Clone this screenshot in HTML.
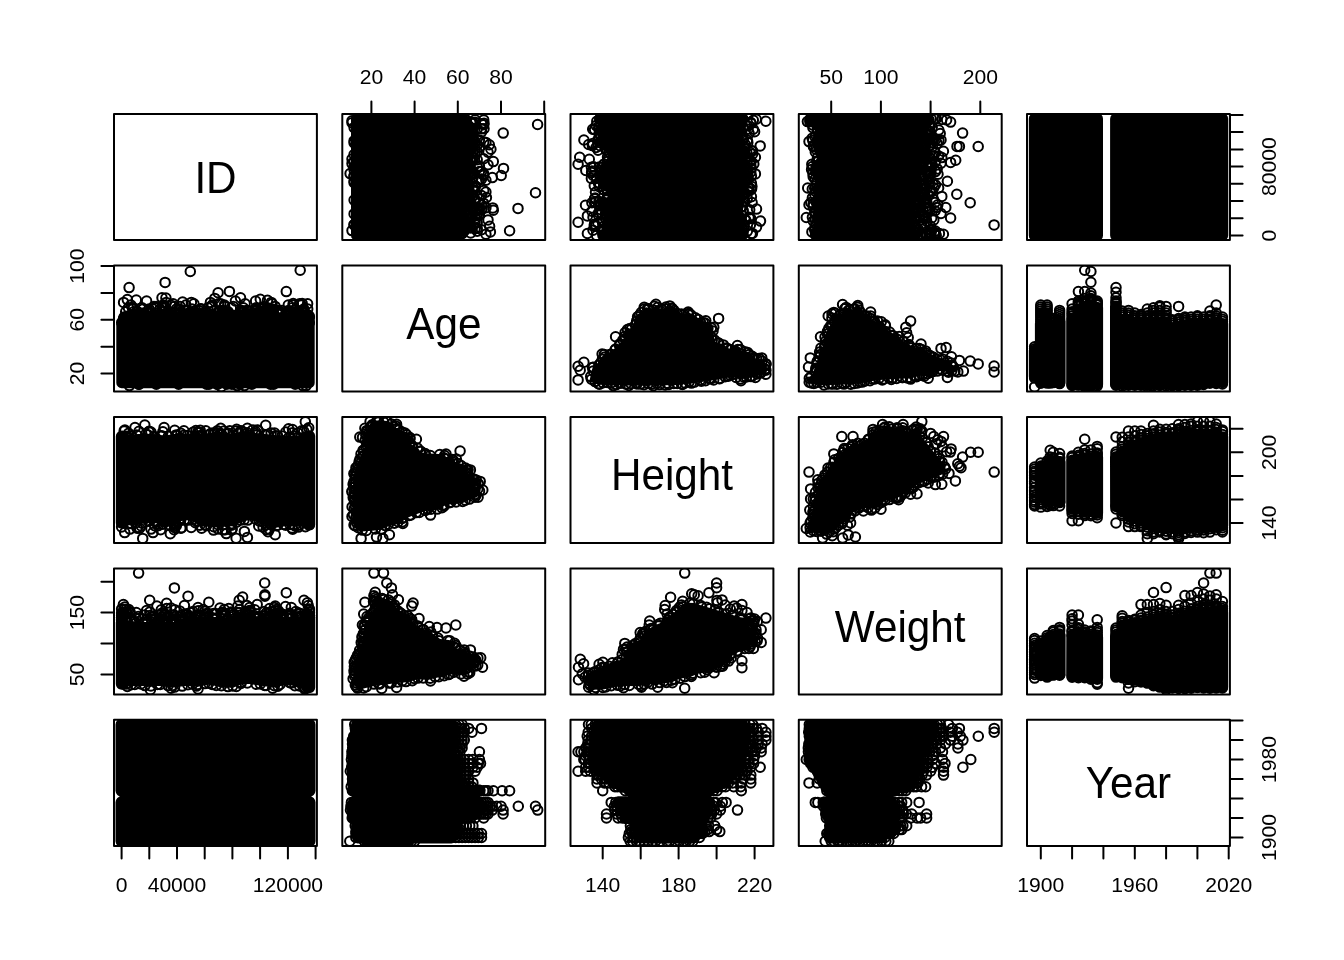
<!DOCTYPE html>
<html lang="en"><head><meta charset="utf-8"><title>pairs plot</title>
<style>html,body{margin:0;padding:0;background:#fff}body{width:1344px;height:960px;overflow:hidden}
svg{display:block}text{font-family:"Liberation Sans",Arial,Helvetica,sans-serif;fill:#000}.r{fill:none;stroke:#000;stroke-width:2}</style></head>
<body>
<svg width="1344" height="960" viewBox="0 0 1344 960">
<rect width="1344" height="960" fill="#fff"/>
<clipPath id="c010"><rect x="342.3" y="114" width="202.9" height="126.1"/></clipPath>
<g clip-path="url(#c010)">
<path d="M456.6 118.7 456.2 116.7 455 115 453.3 113.9 451.3 113.5 356.3 113.5 354.3 113.9 352.6 115 351.4 116.7 351 118.7 351 235.5 351.4 237.5 352.6 239.2 354.3 240.3 356.3 240.7 451.3 240.7 453.3 240.3 455 239.2 456.2 237.5 456.6 235.5Z"/>
<g class="r"><circle cx="350.1" cy="173.6" r="4.75"/><circle cx="537.6" cy="124.5" r="4.75"/><circle cx="503.2" cy="133.1" r="4.75"/><circle cx="493.3" cy="161.6" r="4.75"/><circle cx="503.5" cy="168.4" r="4.75"/><circle cx="501.2" cy="175.5" r="4.75"/><circle cx="492.3" cy="177.6" r="4.75"/><circle cx="535.5" cy="192.8" r="4.75"/><circle cx="518" cy="208.4" r="4.75"/><circle cx="492.8" cy="207.9" r="4.75"/><circle cx="493.3" cy="210.3" r="4.75"/><circle cx="509.6" cy="230.8" r="4.75"/><circle cx="490.4" cy="231.9" r="4.75"/><circle cx="484" cy="123.2" r="4.75"/><circle cx="484" cy="128.8" r="4.75"/><circle cx="489.3" cy="144.8" r="4.75"/><circle cx="490.9" cy="149.3" r="4.75"/><circle cx="486.4" cy="197.5" r="4.75"/><circle cx="488" cy="219.9" r="4.75"/><circle cx="489.6" cy="226.3" r="4.75"/><circle cx="354.1" cy="182.7" r="4.75"/><circle cx="354.1" cy="170.1" r="4.75"/><circle cx="354.1" cy="127.6" r="4.75"/><circle cx="354.1" cy="181.1" r="4.75"/><circle cx="354.1" cy="176.2" r="4.75"/><circle cx="354.1" cy="166.9" r="4.75"/><circle cx="354.1" cy="213.9" r="4.75"/><circle cx="354.1" cy="175.7" r="4.75"/><circle cx="354.1" cy="161.9" r="4.75"/><circle cx="354.1" cy="142.9" r="4.75"/><circle cx="354.1" cy="224.5" r="4.75"/><circle cx="354.1" cy="200.1" r="4.75"/><circle cx="354.1" cy="224.9" r="4.75"/><circle cx="354.1" cy="140.9" r="4.75"/><circle cx="354.1" cy="154.5" r="4.75"/><circle cx="352" cy="230.6" r="4.75"/><circle cx="352" cy="120.8" r="4.75"/><circle cx="352" cy="122.8" r="4.75"/><circle cx="352" cy="159.1" r="4.75"/><circle cx="352" cy="163.6" r="4.75"/><circle cx="453.5" cy="217.1" r="4.75"/><circle cx="453.5" cy="233.7" r="4.75"/><circle cx="453.5" cy="173.8" r="4.75"/><circle cx="453.5" cy="228.5" r="4.75"/><circle cx="453.5" cy="213.3" r="4.75"/><circle cx="453.5" cy="207.2" r="4.75"/><circle cx="453.5" cy="232" r="4.75"/><circle cx="453.5" cy="181.3" r="4.75"/><circle cx="453.5" cy="184" r="4.75"/><circle cx="453.5" cy="137.1" r="4.75"/><circle cx="453.5" cy="174.9" r="4.75"/><circle cx="453.5" cy="160.7" r="4.75"/><circle cx="453.5" cy="177.1" r="4.75"/><circle cx="453.5" cy="158.1" r="4.75"/><circle cx="453.5" cy="182.1" r="4.75"/><circle cx="453.5" cy="203" r="4.75"/><circle cx="453.5" cy="119" r="4.75"/><circle cx="453.5" cy="119.2" r="4.75"/><circle cx="453.5" cy="137.4" r="4.75"/><circle cx="453.5" cy="152.8" r="4.75"/><circle cx="453.5" cy="198.7" r="4.75"/><circle cx="453.5" cy="208.7" r="4.75"/><circle cx="453.5" cy="201.7" r="4.75"/><circle cx="453.5" cy="227.3" r="4.75"/><circle cx="453.5" cy="146" r="4.75"/><circle cx="453.5" cy="188.7" r="4.75"/><circle cx="453.5" cy="136.6" r="4.75"/><circle cx="453.5" cy="190.4" r="4.75"/><circle cx="453.5" cy="123.6" r="4.75"/><circle cx="453.5" cy="136.5" r="4.75"/><circle cx="453.5" cy="235.4" r="4.75"/><circle cx="453.5" cy="211" r="4.75"/><circle cx="453.5" cy="129.2" r="4.75"/><circle cx="453.5" cy="180.6" r="4.75"/><circle cx="453.5" cy="121" r="4.75"/><circle cx="453.5" cy="189.1" r="4.75"/><circle cx="453.5" cy="227" r="4.75"/><circle cx="453.5" cy="162" r="4.75"/><circle cx="453.5" cy="144.6" r="4.75"/><circle cx="453.5" cy="204" r="4.75"/><circle cx="453.5" cy="225.3" r="4.75"/><circle cx="453.5" cy="196.6" r="4.75"/><circle cx="453.5" cy="122.9" r="4.75"/><circle cx="453.5" cy="147" r="4.75"/><circle cx="453.5" cy="221.7" r="4.75"/><circle cx="453.5" cy="206.7" r="4.75"/><circle cx="453.5" cy="223.7" r="4.75"/><circle cx="453.5" cy="228.5" r="4.75"/><circle cx="453.5" cy="142.4" r="4.75"/><circle cx="453.5" cy="214.7" r="4.75"/><circle cx="453.5" cy="170.2" r="4.75"/><circle cx="453.5" cy="183.2" r="4.75"/><circle cx="453.5" cy="213.2" r="4.75"/><circle cx="453.5" cy="150" r="4.75"/><circle cx="453.5" cy="220.2" r="4.75"/><circle cx="453.5" cy="160.3" r="4.75"/><circle cx="453.5" cy="221.9" r="4.75"/><circle cx="453.5" cy="186.4" r="4.75"/><circle cx="453.5" cy="210.6" r="4.75"/><circle cx="453.5" cy="204" r="4.75"/><circle cx="453.5" cy="122.1" r="4.75"/><circle cx="453.5" cy="141.7" r="4.75"/><circle cx="453.5" cy="200" r="4.75"/><circle cx="453.5" cy="132.2" r="4.75"/><circle cx="453.5" cy="210.9" r="4.75"/><circle cx="453.5" cy="189.4" r="4.75"/><circle cx="453.5" cy="135.7" r="4.75"/><circle cx="453.5" cy="160.5" r="4.75"/><circle cx="453.5" cy="223.8" r="4.75"/><circle cx="453.5" cy="120" r="4.75"/><circle cx="453.5" cy="210.6" r="4.75"/><circle cx="453.5" cy="205.3" r="4.75"/><circle cx="453.5" cy="145.3" r="4.75"/><circle cx="453.5" cy="197.1" r="4.75"/><circle cx="453.5" cy="200.9" r="4.75"/><circle cx="453.5" cy="226.9" r="4.75"/><circle cx="453.5" cy="225" r="4.75"/><circle cx="453.5" cy="167.4" r="4.75"/><circle cx="453.5" cy="207.1" r="4.75"/><circle cx="453.5" cy="165.3" r="4.75"/><circle cx="453.5" cy="192.1" r="4.75"/><circle cx="453.5" cy="182.6" r="4.75"/><circle cx="453.5" cy="123.5" r="4.75"/><circle cx="453.5" cy="179" r="4.75"/><circle cx="453.5" cy="168.4" r="4.75"/><circle cx="453.5" cy="134.3" r="4.75"/><circle cx="453.5" cy="214.1" r="4.75"/><circle cx="453.5" cy="217.5" r="4.75"/><circle cx="453.5" cy="129.4" r="4.75"/><circle cx="453.5" cy="140" r="4.75"/><circle cx="453.5" cy="206.4" r="4.75"/><circle cx="453.5" cy="213.3" r="4.75"/><circle cx="453.5" cy="149.1" r="4.75"/><circle cx="453.5" cy="125.7" r="4.75"/><circle cx="453.5" cy="212.5" r="4.75"/><circle cx="453.5" cy="124.5" r="4.75"/><circle cx="453.5" cy="132.5" r="4.75"/><circle cx="453.5" cy="165" r="4.75"/><circle cx="453.5" cy="186.3" r="4.75"/><circle cx="453.5" cy="223.4" r="4.75"/><circle cx="453.5" cy="231" r="4.75"/><circle cx="453.5" cy="123.1" r="4.75"/><circle cx="453.5" cy="207.6" r="4.75"/><circle cx="453.5" cy="153.2" r="4.75"/><circle cx="453.5" cy="205.5" r="4.75"/><circle cx="453.5" cy="139.3" r="4.75"/><circle cx="453.5" cy="165.8" r="4.75"/><circle cx="453.5" cy="201.2" r="4.75"/><circle cx="453.5" cy="215" r="4.75"/><circle cx="453.5" cy="151.4" r="4.75"/><circle cx="453.5" cy="227.5" r="4.75"/><circle cx="453.5" cy="208.8" r="4.75"/><circle cx="453.5" cy="170.2" r="4.75"/><circle cx="453.5" cy="136" r="4.75"/><circle cx="453.5" cy="163.8" r="4.75"/><circle cx="453.5" cy="202.8" r="4.75"/><circle cx="453.5" cy="128.4" r="4.75"/><circle cx="453.5" cy="211.7" r="4.75"/><circle cx="453.5" cy="233.5" r="4.75"/><circle cx="453.5" cy="204.1" r="4.75"/><circle cx="453.5" cy="183.4" r="4.75"/><circle cx="453.5" cy="228.4" r="4.75"/><circle cx="453.5" cy="214.9" r="4.75"/><circle cx="453.5" cy="192.4" r="4.75"/><circle cx="453.5" cy="168.7" r="4.75"/><circle cx="453.5" cy="220.1" r="4.75"/><circle cx="453.5" cy="193.2" r="4.75"/><circle cx="453.5" cy="131.5" r="4.75"/><circle cx="453.5" cy="121" r="4.75"/><circle cx="453.5" cy="158.8" r="4.75"/><circle cx="453.5" cy="154.8" r="4.75"/><circle cx="453.5" cy="167.2" r="4.75"/><circle cx="453.5" cy="219.1" r="4.75"/><circle cx="453.5" cy="231.4" r="4.75"/><circle cx="453.5" cy="233.4" r="4.75"/><circle cx="453.5" cy="129.2" r="4.75"/><circle cx="453.5" cy="153.6" r="4.75"/><circle cx="453.5" cy="123.1" r="4.75"/><circle cx="453.5" cy="233" r="4.75"/><circle cx="453.5" cy="161.2" r="4.75"/><circle cx="453.5" cy="179.2" r="4.75"/><circle cx="453.5" cy="150.2" r="4.75"/><circle cx="453.5" cy="198.2" r="4.75"/><circle cx="453.5" cy="118.8" r="4.75"/><circle cx="453.5" cy="226.7" r="4.75"/><circle cx="453.5" cy="171.7" r="4.75"/><circle cx="453.5" cy="149.4" r="4.75"/><circle cx="453.5" cy="130.4" r="4.75"/><circle cx="453.5" cy="149.4" r="4.75"/><circle cx="453.5" cy="153.3" r="4.75"/><circle cx="455.6" cy="142.9" r="4.75"/><circle cx="455.6" cy="128.6" r="4.75"/><circle cx="455.6" cy="194.4" r="4.75"/><circle cx="455.6" cy="155.5" r="4.75"/><circle cx="455.6" cy="130.3" r="4.75"/><circle cx="455.6" cy="133.8" r="4.75"/><circle cx="455.6" cy="186.8" r="4.75"/><circle cx="455.6" cy="143.2" r="4.75"/><circle cx="455.6" cy="134.7" r="4.75"/><circle cx="455.6" cy="168.6" r="4.75"/><circle cx="455.6" cy="162.5" r="4.75"/><circle cx="455.6" cy="190.8" r="4.75"/><circle cx="455.6" cy="167.4" r="4.75"/><circle cx="455.6" cy="164.4" r="4.75"/><circle cx="455.6" cy="226.1" r="4.75"/><circle cx="455.6" cy="160.8" r="4.75"/><circle cx="455.6" cy="119.5" r="4.75"/><circle cx="455.6" cy="132.8" r="4.75"/><circle cx="455.6" cy="150.5" r="4.75"/><circle cx="455.6" cy="190.1" r="4.75"/><circle cx="455.6" cy="149.7" r="4.75"/><circle cx="455.6" cy="167.6" r="4.75"/><circle cx="455.6" cy="184" r="4.75"/><circle cx="455.6" cy="137.6" r="4.75"/><circle cx="455.6" cy="225.7" r="4.75"/><circle cx="455.6" cy="147.9" r="4.75"/><circle cx="455.6" cy="232" r="4.75"/><circle cx="455.6" cy="165.3" r="4.75"/><circle cx="455.6" cy="179.3" r="4.75"/><circle cx="455.6" cy="208.6" r="4.75"/><circle cx="455.6" cy="153.9" r="4.75"/><circle cx="455.6" cy="177.4" r="4.75"/><circle cx="455.6" cy="163.7" r="4.75"/><circle cx="455.6" cy="128" r="4.75"/><circle cx="455.6" cy="205.6" r="4.75"/><circle cx="455.6" cy="234.2" r="4.75"/><circle cx="455.6" cy="200.3" r="4.75"/><circle cx="455.6" cy="156.3" r="4.75"/><circle cx="455.6" cy="211.8" r="4.75"/><circle cx="455.6" cy="215.7" r="4.75"/><circle cx="455.6" cy="129.7" r="4.75"/><circle cx="455.6" cy="158.4" r="4.75"/><circle cx="455.6" cy="183.9" r="4.75"/><circle cx="455.6" cy="131.4" r="4.75"/><circle cx="455.6" cy="197.3" r="4.75"/><circle cx="455.6" cy="157.7" r="4.75"/><circle cx="455.6" cy="212.3" r="4.75"/><circle cx="455.6" cy="185.2" r="4.75"/><circle cx="455.6" cy="141.4" r="4.75"/><circle cx="455.6" cy="128.7" r="4.75"/><circle cx="455.6" cy="132.7" r="4.75"/><circle cx="455.6" cy="190.6" r="4.75"/><circle cx="455.6" cy="167.4" r="4.75"/><circle cx="455.6" cy="198.5" r="4.75"/><circle cx="455.6" cy="219.6" r="4.75"/><circle cx="455.6" cy="177.5" r="4.75"/><circle cx="455.6" cy="137.7" r="4.75"/><circle cx="455.6" cy="136.4" r="4.75"/><circle cx="455.6" cy="152.4" r="4.75"/><circle cx="455.6" cy="124.6" r="4.75"/><circle cx="455.6" cy="203.2" r="4.75"/><circle cx="455.6" cy="215.7" r="4.75"/><circle cx="455.6" cy="182.9" r="4.75"/><circle cx="455.6" cy="203.4" r="4.75"/><circle cx="455.6" cy="210.5" r="4.75"/><circle cx="455.6" cy="187.1" r="4.75"/><circle cx="455.6" cy="162.4" r="4.75"/><circle cx="455.6" cy="177.8" r="4.75"/><circle cx="455.6" cy="198.7" r="4.75"/><circle cx="455.6" cy="137.5" r="4.75"/><circle cx="455.6" cy="120.8" r="4.75"/><circle cx="455.6" cy="182.6" r="4.75"/><circle cx="455.6" cy="226.8" r="4.75"/><circle cx="455.6" cy="231.8" r="4.75"/><circle cx="455.6" cy="133.6" r="4.75"/><circle cx="455.6" cy="230.6" r="4.75"/><circle cx="455.6" cy="152.7" r="4.75"/><circle cx="455.6" cy="168.9" r="4.75"/><circle cx="455.6" cy="199.4" r="4.75"/><circle cx="455.6" cy="143.1" r="4.75"/><circle cx="455.6" cy="233.3" r="4.75"/><circle cx="455.6" cy="219.6" r="4.75"/><circle cx="455.6" cy="182.4" r="4.75"/><circle cx="455.6" cy="232.6" r="4.75"/><circle cx="455.6" cy="138.6" r="4.75"/><circle cx="455.6" cy="207.8" r="4.75"/><circle cx="455.6" cy="219" r="4.75"/><circle cx="455.6" cy="230" r="4.75"/><circle cx="455.6" cy="162" r="4.75"/><circle cx="455.6" cy="183.3" r="4.75"/><circle cx="455.6" cy="161.9" r="4.75"/><circle cx="455.6" cy="159" r="4.75"/><circle cx="455.6" cy="141.2" r="4.75"/><circle cx="455.6" cy="123.6" r="4.75"/><circle cx="455.6" cy="155.6" r="4.75"/><circle cx="455.6" cy="212.2" r="4.75"/><circle cx="455.6" cy="180" r="4.75"/><circle cx="455.6" cy="214.6" r="4.75"/><circle cx="455.6" cy="234.2" r="4.75"/><circle cx="455.6" cy="180.3" r="4.75"/><circle cx="455.6" cy="152.1" r="4.75"/><circle cx="455.6" cy="214.6" r="4.75"/><circle cx="455.6" cy="203.7" r="4.75"/><circle cx="455.6" cy="195.1" r="4.75"/><circle cx="455.6" cy="154.1" r="4.75"/><circle cx="455.6" cy="174.7" r="4.75"/><circle cx="455.6" cy="163.7" r="4.75"/><circle cx="455.6" cy="147.2" r="4.75"/><circle cx="455.6" cy="189.5" r="4.75"/><circle cx="455.6" cy="143" r="4.75"/><circle cx="455.6" cy="129.7" r="4.75"/><circle cx="455.6" cy="225.3" r="4.75"/><circle cx="455.6" cy="126.6" r="4.75"/><circle cx="455.6" cy="151.1" r="4.75"/><circle cx="455.6" cy="220.3" r="4.75"/><circle cx="455.6" cy="182.5" r="4.75"/><circle cx="455.6" cy="162.4" r="4.75"/><circle cx="455.6" cy="129.2" r="4.75"/><circle cx="455.6" cy="191.5" r="4.75"/><circle cx="455.6" cy="169.1" r="4.75"/><circle cx="455.6" cy="132.8" r="4.75"/><circle cx="455.6" cy="142.4" r="4.75"/><circle cx="455.6" cy="125.2" r="4.75"/><circle cx="455.6" cy="181.3" r="4.75"/><circle cx="455.6" cy="159.4" r="4.75"/><circle cx="455.6" cy="211.6" r="4.75"/><circle cx="455.6" cy="151.2" r="4.75"/><circle cx="455.6" cy="139.9" r="4.75"/><circle cx="455.6" cy="160.6" r="4.75"/><circle cx="455.6" cy="151.7" r="4.75"/><circle cx="457.8" cy="210.6" r="4.75"/><circle cx="457.8" cy="130.4" r="4.75"/><circle cx="457.8" cy="121" r="4.75"/><circle cx="457.8" cy="121.4" r="4.75"/><circle cx="457.8" cy="172.8" r="4.75"/><circle cx="457.8" cy="143.1" r="4.75"/><circle cx="457.8" cy="198.1" r="4.75"/><circle cx="457.8" cy="129.2" r="4.75"/><circle cx="457.8" cy="135.6" r="4.75"/><circle cx="457.8" cy="194.8" r="4.75"/><circle cx="457.8" cy="225.8" r="4.75"/><circle cx="457.8" cy="184" r="4.75"/><circle cx="457.8" cy="171.2" r="4.75"/><circle cx="457.8" cy="145.8" r="4.75"/><circle cx="457.8" cy="178.6" r="4.75"/><circle cx="457.8" cy="232.2" r="4.75"/><circle cx="457.8" cy="141" r="4.75"/><circle cx="457.8" cy="228" r="4.75"/><circle cx="457.8" cy="142.1" r="4.75"/><circle cx="457.8" cy="215.3" r="4.75"/><circle cx="457.8" cy="196.4" r="4.75"/><circle cx="457.8" cy="143.5" r="4.75"/><circle cx="457.8" cy="219.1" r="4.75"/><circle cx="457.8" cy="218.1" r="4.75"/><circle cx="457.8" cy="175.2" r="4.75"/><circle cx="457.8" cy="151" r="4.75"/><circle cx="457.8" cy="137.4" r="4.75"/><circle cx="457.8" cy="155" r="4.75"/><circle cx="457.8" cy="125.1" r="4.75"/><circle cx="457.8" cy="178" r="4.75"/><circle cx="457.8" cy="124.7" r="4.75"/><circle cx="457.8" cy="225.4" r="4.75"/><circle cx="457.8" cy="209.6" r="4.75"/><circle cx="457.8" cy="174" r="4.75"/><circle cx="457.8" cy="201.6" r="4.75"/><circle cx="457.8" cy="150.4" r="4.75"/><circle cx="457.8" cy="160.9" r="4.75"/><circle cx="457.8" cy="174.4" r="4.75"/><circle cx="457.8" cy="137" r="4.75"/><circle cx="457.8" cy="170.1" r="4.75"/><circle cx="457.8" cy="199.1" r="4.75"/><circle cx="457.8" cy="191" r="4.75"/><circle cx="457.8" cy="136.8" r="4.75"/><circle cx="457.8" cy="130.3" r="4.75"/><circle cx="457.8" cy="211.2" r="4.75"/><circle cx="457.8" cy="136.1" r="4.75"/><circle cx="457.8" cy="122.4" r="4.75"/><circle cx="457.8" cy="174.3" r="4.75"/><circle cx="457.8" cy="168.6" r="4.75"/><circle cx="457.8" cy="212" r="4.75"/><circle cx="457.8" cy="172.9" r="4.75"/><circle cx="457.8" cy="176.7" r="4.75"/><circle cx="457.8" cy="164.8" r="4.75"/><circle cx="457.8" cy="232.2" r="4.75"/><circle cx="457.8" cy="122.3" r="4.75"/><circle cx="457.8" cy="175.2" r="4.75"/><circle cx="457.8" cy="188.7" r="4.75"/><circle cx="457.8" cy="141.9" r="4.75"/><circle cx="457.8" cy="169.8" r="4.75"/><circle cx="457.8" cy="178.1" r="4.75"/><circle cx="457.8" cy="154.8" r="4.75"/><circle cx="457.8" cy="227.8" r="4.75"/><circle cx="457.8" cy="172.6" r="4.75"/><circle cx="457.8" cy="187.2" r="4.75"/><circle cx="457.8" cy="123.8" r="4.75"/><circle cx="457.8" cy="127.7" r="4.75"/><circle cx="457.8" cy="204" r="4.75"/><circle cx="457.8" cy="180.2" r="4.75"/><circle cx="457.8" cy="220.7" r="4.75"/><circle cx="457.8" cy="184.8" r="4.75"/><circle cx="457.8" cy="140.2" r="4.75"/><circle cx="457.8" cy="130.3" r="4.75"/><circle cx="457.8" cy="179.8" r="4.75"/><circle cx="457.8" cy="198.4" r="4.75"/><circle cx="457.8" cy="213.1" r="4.75"/><circle cx="457.8" cy="163.3" r="4.75"/><circle cx="457.8" cy="127.4" r="4.75"/><circle cx="457.8" cy="220.4" r="4.75"/><circle cx="457.8" cy="144.5" r="4.75"/><circle cx="457.8" cy="232.8" r="4.75"/><circle cx="457.8" cy="212.8" r="4.75"/><circle cx="457.8" cy="208.9" r="4.75"/><circle cx="457.8" cy="155.3" r="4.75"/><circle cx="457.8" cy="197.9" r="4.75"/><circle cx="457.8" cy="194" r="4.75"/><circle cx="457.8" cy="163.1" r="4.75"/><circle cx="457.8" cy="223.2" r="4.75"/><circle cx="457.8" cy="150.1" r="4.75"/><circle cx="457.8" cy="221.1" r="4.75"/><circle cx="457.8" cy="175.9" r="4.75"/><circle cx="457.8" cy="206.2" r="4.75"/><circle cx="457.8" cy="212.4" r="4.75"/><circle cx="457.8" cy="173.6" r="4.75"/><circle cx="457.8" cy="184.5" r="4.75"/><circle cx="457.8" cy="191.6" r="4.75"/><circle cx="457.8" cy="187.2" r="4.75"/><circle cx="457.8" cy="173.7" r="4.75"/><circle cx="457.8" cy="216.8" r="4.75"/><circle cx="457.8" cy="211.6" r="4.75"/><circle cx="457.8" cy="161.8" r="4.75"/><circle cx="457.8" cy="160.9" r="4.75"/><circle cx="457.8" cy="173.6" r="4.75"/><circle cx="457.8" cy="136.1" r="4.75"/><circle cx="457.8" cy="164.1" r="4.75"/><circle cx="457.8" cy="135.4" r="4.75"/><circle cx="457.8" cy="208.3" r="4.75"/><circle cx="457.8" cy="149" r="4.75"/><circle cx="457.8" cy="140.8" r="4.75"/><circle cx="457.8" cy="130.1" r="4.75"/><circle cx="457.8" cy="198.6" r="4.75"/><circle cx="459.9" cy="198.7" r="4.75"/><circle cx="459.9" cy="127.7" r="4.75"/><circle cx="459.9" cy="210" r="4.75"/><circle cx="459.9" cy="118.9" r="4.75"/><circle cx="459.9" cy="131.8" r="4.75"/><circle cx="459.9" cy="219.8" r="4.75"/><circle cx="459.9" cy="207.5" r="4.75"/><circle cx="459.9" cy="150.6" r="4.75"/><circle cx="459.9" cy="205.2" r="4.75"/><circle cx="459.9" cy="224.2" r="4.75"/><circle cx="459.9" cy="138.3" r="4.75"/><circle cx="459.9" cy="186.3" r="4.75"/><circle cx="459.9" cy="143.2" r="4.75"/><circle cx="459.9" cy="220.8" r="4.75"/><circle cx="459.9" cy="188.5" r="4.75"/><circle cx="459.9" cy="155.5" r="4.75"/><circle cx="459.9" cy="233.4" r="4.75"/><circle cx="459.9" cy="212" r="4.75"/><circle cx="459.9" cy="155.8" r="4.75"/><circle cx="459.9" cy="129.1" r="4.75"/><circle cx="459.9" cy="122.4" r="4.75"/><circle cx="459.9" cy="222" r="4.75"/><circle cx="459.9" cy="176.4" r="4.75"/><circle cx="459.9" cy="147" r="4.75"/><circle cx="459.9" cy="176.8" r="4.75"/><circle cx="459.9" cy="155.4" r="4.75"/><circle cx="459.9" cy="213.4" r="4.75"/><circle cx="459.9" cy="227.2" r="4.75"/><circle cx="459.9" cy="223.1" r="4.75"/><circle cx="459.9" cy="231.1" r="4.75"/><circle cx="459.9" cy="171.1" r="4.75"/><circle cx="459.9" cy="175.4" r="4.75"/><circle cx="459.9" cy="169.1" r="4.75"/><circle cx="459.9" cy="218.4" r="4.75"/><circle cx="459.9" cy="213.9" r="4.75"/><circle cx="459.9" cy="211.7" r="4.75"/><circle cx="459.9" cy="137.4" r="4.75"/><circle cx="459.9" cy="119.9" r="4.75"/><circle cx="459.9" cy="127.3" r="4.75"/><circle cx="459.9" cy="224.4" r="4.75"/><circle cx="459.9" cy="228.3" r="4.75"/><circle cx="459.9" cy="124.4" r="4.75"/><circle cx="459.9" cy="181.5" r="4.75"/><circle cx="459.9" cy="146.2" r="4.75"/><circle cx="459.9" cy="197.3" r="4.75"/><circle cx="459.9" cy="181" r="4.75"/><circle cx="459.9" cy="175.3" r="4.75"/><circle cx="459.9" cy="185.3" r="4.75"/><circle cx="459.9" cy="165.3" r="4.75"/><circle cx="459.9" cy="233.9" r="4.75"/><circle cx="459.9" cy="153.6" r="4.75"/><circle cx="459.9" cy="136.9" r="4.75"/><circle cx="459.9" cy="214.3" r="4.75"/><circle cx="459.9" cy="182.5" r="4.75"/><circle cx="459.9" cy="149.2" r="4.75"/><circle cx="459.9" cy="188.2" r="4.75"/><circle cx="459.9" cy="212.7" r="4.75"/><circle cx="459.9" cy="216.2" r="4.75"/><circle cx="459.9" cy="175.6" r="4.75"/><circle cx="459.9" cy="233.7" r="4.75"/><circle cx="459.9" cy="131.2" r="4.75"/><circle cx="459.9" cy="141.9" r="4.75"/><circle cx="459.9" cy="153.2" r="4.75"/><circle cx="459.9" cy="135" r="4.75"/><circle cx="459.9" cy="162" r="4.75"/><circle cx="459.9" cy="188.3" r="4.75"/><circle cx="459.9" cy="165.5" r="4.75"/><circle cx="459.9" cy="176.6" r="4.75"/><circle cx="459.9" cy="120.7" r="4.75"/><circle cx="459.9" cy="141.5" r="4.75"/><circle cx="459.9" cy="205.3" r="4.75"/><circle cx="459.9" cy="129.1" r="4.75"/><circle cx="459.9" cy="148.6" r="4.75"/><circle cx="459.9" cy="144.6" r="4.75"/><circle cx="459.9" cy="140.4" r="4.75"/><circle cx="459.9" cy="188.1" r="4.75"/><circle cx="459.9" cy="130.8" r="4.75"/><circle cx="459.9" cy="132.7" r="4.75"/><circle cx="459.9" cy="154.4" r="4.75"/><circle cx="459.9" cy="145.9" r="4.75"/><circle cx="459.9" cy="146.1" r="4.75"/><circle cx="459.9" cy="188.1" r="4.75"/><circle cx="459.9" cy="151.1" r="4.75"/><circle cx="459.9" cy="227.2" r="4.75"/><circle cx="459.9" cy="195.6" r="4.75"/><circle cx="459.9" cy="180.7" r="4.75"/><circle cx="459.9" cy="234.2" r="4.75"/><circle cx="459.9" cy="194" r="4.75"/><circle cx="459.9" cy="160.9" r="4.75"/><circle cx="459.9" cy="162.6" r="4.75"/><circle cx="462.1" cy="208.4" r="4.75"/><circle cx="462.1" cy="125.2" r="4.75"/><circle cx="462.1" cy="157.7" r="4.75"/><circle cx="462.1" cy="196" r="4.75"/><circle cx="462.1" cy="158.4" r="4.75"/><circle cx="462.1" cy="169" r="4.75"/><circle cx="462.1" cy="173.2" r="4.75"/><circle cx="462.1" cy="190" r="4.75"/><circle cx="462.1" cy="118.7" r="4.75"/><circle cx="462.1" cy="160.5" r="4.75"/><circle cx="462.1" cy="153.6" r="4.75"/><circle cx="462.1" cy="146.5" r="4.75"/><circle cx="462.1" cy="121" r="4.75"/><circle cx="462.1" cy="232.8" r="4.75"/><circle cx="462.1" cy="163.6" r="4.75"/><circle cx="462.1" cy="149.2" r="4.75"/><circle cx="462.1" cy="205.5" r="4.75"/><circle cx="462.1" cy="188.6" r="4.75"/><circle cx="462.1" cy="229.6" r="4.75"/><circle cx="462.1" cy="212.7" r="4.75"/><circle cx="462.1" cy="191.6" r="4.75"/><circle cx="462.1" cy="224" r="4.75"/><circle cx="462.1" cy="206.2" r="4.75"/><circle cx="462.1" cy="129.7" r="4.75"/><circle cx="462.1" cy="171.3" r="4.75"/><circle cx="462.1" cy="176.2" r="4.75"/><circle cx="462.1" cy="122.6" r="4.75"/><circle cx="462.1" cy="169.2" r="4.75"/><circle cx="462.1" cy="119.3" r="4.75"/><circle cx="462.1" cy="161" r="4.75"/><circle cx="462.1" cy="141" r="4.75"/><circle cx="462.1" cy="226.6" r="4.75"/><circle cx="462.1" cy="165.7" r="4.75"/><circle cx="462.1" cy="146.8" r="4.75"/><circle cx="462.1" cy="230.2" r="4.75"/><circle cx="462.1" cy="126.9" r="4.75"/><circle cx="462.1" cy="216.8" r="4.75"/><circle cx="462.1" cy="180.4" r="4.75"/><circle cx="462.1" cy="215.7" r="4.75"/><circle cx="462.1" cy="177.6" r="4.75"/><circle cx="462.1" cy="164.1" r="4.75"/><circle cx="462.1" cy="228.6" r="4.75"/><circle cx="462.1" cy="125.1" r="4.75"/><circle cx="462.1" cy="186.4" r="4.75"/><circle cx="462.1" cy="174" r="4.75"/><circle cx="462.1" cy="165.7" r="4.75"/><circle cx="462.1" cy="192.8" r="4.75"/><circle cx="462.1" cy="202.1" r="4.75"/><circle cx="462.1" cy="159" r="4.75"/><circle cx="462.1" cy="170" r="4.75"/><circle cx="462.1" cy="202.4" r="4.75"/><circle cx="462.1" cy="151.8" r="4.75"/><circle cx="462.1" cy="200.9" r="4.75"/><circle cx="462.1" cy="233.8" r="4.75"/><circle cx="462.1" cy="206.9" r="4.75"/><circle cx="462.1" cy="230.5" r="4.75"/><circle cx="462.1" cy="217.2" r="4.75"/><circle cx="462.1" cy="147.4" r="4.75"/><circle cx="462.1" cy="190" r="4.75"/><circle cx="462.1" cy="130.7" r="4.75"/><circle cx="462.1" cy="148.1" r="4.75"/><circle cx="462.1" cy="229.6" r="4.75"/><circle cx="462.1" cy="120" r="4.75"/><circle cx="462.1" cy="125.2" r="4.75"/><circle cx="462.1" cy="226.9" r="4.75"/><circle cx="462.1" cy="129.7" r="4.75"/><circle cx="462.1" cy="185.3" r="4.75"/><circle cx="462.1" cy="179.7" r="4.75"/><circle cx="462.1" cy="121.9" r="4.75"/><circle cx="462.1" cy="207" r="4.75"/><circle cx="462.1" cy="174.4" r="4.75"/><circle cx="462.1" cy="126" r="4.75"/><circle cx="464.3" cy="151.1" r="4.75"/><circle cx="464.3" cy="180.8" r="4.75"/><circle cx="464.3" cy="121.2" r="4.75"/><circle cx="464.3" cy="140.1" r="4.75"/><circle cx="464.3" cy="165" r="4.75"/><circle cx="464.3" cy="222" r="4.75"/><circle cx="464.3" cy="162.6" r="4.75"/><circle cx="464.3" cy="182.3" r="4.75"/><circle cx="464.3" cy="211.7" r="4.75"/><circle cx="464.3" cy="229.4" r="4.75"/><circle cx="464.3" cy="173.8" r="4.75"/><circle cx="464.3" cy="221" r="4.75"/><circle cx="464.3" cy="183.8" r="4.75"/><circle cx="464.3" cy="157.5" r="4.75"/><circle cx="464.3" cy="182.3" r="4.75"/><circle cx="464.3" cy="204.9" r="4.75"/><circle cx="464.3" cy="167.5" r="4.75"/><circle cx="464.3" cy="186.5" r="4.75"/><circle cx="464.3" cy="144.6" r="4.75"/><circle cx="464.3" cy="173.5" r="4.75"/><circle cx="464.3" cy="119" r="4.75"/><circle cx="464.3" cy="124.2" r="4.75"/><circle cx="464.3" cy="149.7" r="4.75"/><circle cx="464.3" cy="207.6" r="4.75"/><circle cx="464.3" cy="222.2" r="4.75"/><circle cx="464.3" cy="131.2" r="4.75"/><circle cx="464.3" cy="143.9" r="4.75"/><circle cx="464.3" cy="162.5" r="4.75"/><circle cx="464.3" cy="193.5" r="4.75"/><circle cx="464.3" cy="203.8" r="4.75"/><circle cx="464.3" cy="155.5" r="4.75"/><circle cx="464.3" cy="169.5" r="4.75"/><circle cx="464.3" cy="166.4" r="4.75"/><circle cx="464.3" cy="161.6" r="4.75"/><circle cx="464.3" cy="147.5" r="4.75"/><circle cx="464.3" cy="213.3" r="4.75"/><circle cx="464.3" cy="206.4" r="4.75"/><circle cx="464.3" cy="121.1" r="4.75"/><circle cx="464.3" cy="128.6" r="4.75"/><circle cx="464.3" cy="132.9" r="4.75"/><circle cx="464.3" cy="230.9" r="4.75"/><circle cx="464.3" cy="228.4" r="4.75"/><circle cx="464.3" cy="203.8" r="4.75"/><circle cx="464.3" cy="185.8" r="4.75"/><circle cx="464.3" cy="162.7" r="4.75"/><circle cx="464.3" cy="223.5" r="4.75"/><circle cx="464.3" cy="172.2" r="4.75"/><circle cx="464.3" cy="227" r="4.75"/><circle cx="464.3" cy="225.4" r="4.75"/><circle cx="464.3" cy="156.5" r="4.75"/><circle cx="464.3" cy="171.2" r="4.75"/><circle cx="464.3" cy="161.8" r="4.75"/><circle cx="466.4" cy="191.9" r="4.75"/><circle cx="466.4" cy="179.6" r="4.75"/><circle cx="466.4" cy="210.9" r="4.75"/><circle cx="466.4" cy="195.4" r="4.75"/><circle cx="466.4" cy="148.5" r="4.75"/><circle cx="466.4" cy="137.6" r="4.75"/><circle cx="466.4" cy="226.8" r="4.75"/><circle cx="466.4" cy="221.5" r="4.75"/><circle cx="466.4" cy="141" r="4.75"/><circle cx="466.4" cy="162.7" r="4.75"/><circle cx="466.4" cy="145.7" r="4.75"/><circle cx="466.4" cy="210.6" r="4.75"/><circle cx="466.4" cy="185.9" r="4.75"/><circle cx="466.4" cy="205.3" r="4.75"/><circle cx="466.4" cy="140.9" r="4.75"/><circle cx="466.4" cy="192.4" r="4.75"/><circle cx="466.4" cy="159.2" r="4.75"/><circle cx="466.4" cy="120" r="4.75"/><circle cx="466.4" cy="197.5" r="4.75"/><circle cx="466.4" cy="171.4" r="4.75"/><circle cx="466.4" cy="148.4" r="4.75"/><circle cx="466.4" cy="128" r="4.75"/><circle cx="466.4" cy="185.5" r="4.75"/><circle cx="466.4" cy="192.4" r="4.75"/><circle cx="466.4" cy="224.2" r="4.75"/><circle cx="466.4" cy="133.3" r="4.75"/><circle cx="466.4" cy="226.3" r="4.75"/><circle cx="466.4" cy="225.8" r="4.75"/><circle cx="466.4" cy="169.6" r="4.75"/><circle cx="466.4" cy="178.9" r="4.75"/><circle cx="466.4" cy="155.5" r="4.75"/><circle cx="466.4" cy="200.6" r="4.75"/><circle cx="466.4" cy="144.9" r="4.75"/><circle cx="466.4" cy="226.6" r="4.75"/><circle cx="466.4" cy="210.6" r="4.75"/><circle cx="466.4" cy="158.2" r="4.75"/><circle cx="466.4" cy="225.9" r="4.75"/><circle cx="466.4" cy="200" r="4.75"/><circle cx="466.4" cy="150.8" r="4.75"/><circle cx="466.4" cy="154.5" r="4.75"/><circle cx="468.6" cy="202.4" r="4.75"/><circle cx="468.6" cy="218.8" r="4.75"/><circle cx="468.6" cy="193.7" r="4.75"/><circle cx="468.6" cy="150.7" r="4.75"/><circle cx="468.6" cy="192.7" r="4.75"/><circle cx="468.6" cy="221.8" r="4.75"/><circle cx="468.6" cy="152.7" r="4.75"/><circle cx="468.6" cy="169" r="4.75"/><circle cx="468.6" cy="128.2" r="4.75"/><circle cx="468.6" cy="125.7" r="4.75"/><circle cx="468.6" cy="128.8" r="4.75"/><circle cx="468.6" cy="184.3" r="4.75"/><circle cx="468.6" cy="141.7" r="4.75"/><circle cx="468.6" cy="199.9" r="4.75"/><circle cx="468.6" cy="198.4" r="4.75"/><circle cx="468.6" cy="188.8" r="4.75"/><circle cx="468.6" cy="126.3" r="4.75"/><circle cx="468.6" cy="131" r="4.75"/><circle cx="468.6" cy="206.5" r="4.75"/><circle cx="468.6" cy="193.2" r="4.75"/><circle cx="468.6" cy="192.8" r="4.75"/><circle cx="468.6" cy="193.1" r="4.75"/><circle cx="468.6" cy="189.3" r="4.75"/><circle cx="468.6" cy="190.2" r="4.75"/><circle cx="468.6" cy="212.7" r="4.75"/><circle cx="468.6" cy="169.7" r="4.75"/><circle cx="468.6" cy="142.4" r="4.75"/><circle cx="468.6" cy="172.4" r="4.75"/><circle cx="468.6" cy="137.8" r="4.75"/><circle cx="468.6" cy="169.8" r="4.75"/><circle cx="468.6" cy="214.9" r="4.75"/><circle cx="468.6" cy="146.9" r="4.75"/><circle cx="470.7" cy="132.6" r="4.75"/><circle cx="470.7" cy="202.6" r="4.75"/><circle cx="470.7" cy="232.9" r="4.75"/><circle cx="470.7" cy="175.3" r="4.75"/><circle cx="470.7" cy="171.9" r="4.75"/><circle cx="470.7" cy="169.2" r="4.75"/><circle cx="470.7" cy="122.6" r="4.75"/><circle cx="470.7" cy="159.4" r="4.75"/><circle cx="470.7" cy="141.6" r="4.75"/><circle cx="470.7" cy="228" r="4.75"/><circle cx="470.7" cy="171.6" r="4.75"/><circle cx="470.7" cy="143.5" r="4.75"/><circle cx="470.7" cy="225.7" r="4.75"/><circle cx="470.7" cy="225.9" r="4.75"/><circle cx="470.7" cy="149.4" r="4.75"/><circle cx="470.7" cy="130.5" r="4.75"/><circle cx="470.7" cy="225.6" r="4.75"/><circle cx="470.7" cy="161.4" r="4.75"/><circle cx="470.7" cy="218.7" r="4.75"/><circle cx="470.7" cy="148.4" r="4.75"/><circle cx="470.7" cy="159.7" r="4.75"/><circle cx="470.7" cy="206.8" r="4.75"/><circle cx="470.7" cy="209.7" r="4.75"/><circle cx="470.7" cy="146.1" r="4.75"/><circle cx="470.7" cy="174.6" r="4.75"/><circle cx="472.9" cy="146.2" r="4.75"/><circle cx="472.9" cy="189.4" r="4.75"/><circle cx="472.9" cy="196" r="4.75"/><circle cx="472.9" cy="122.4" r="4.75"/><circle cx="472.9" cy="157" r="4.75"/><circle cx="472.9" cy="177.8" r="4.75"/><circle cx="472.9" cy="172.7" r="4.75"/><circle cx="472.9" cy="151.3" r="4.75"/><circle cx="472.9" cy="152.8" r="4.75"/><circle cx="472.9" cy="128.6" r="4.75"/><circle cx="472.9" cy="187.5" r="4.75"/><circle cx="472.9" cy="139" r="4.75"/><circle cx="472.9" cy="157.6" r="4.75"/><circle cx="472.9" cy="135.8" r="4.75"/><circle cx="472.9" cy="141.4" r="4.75"/><circle cx="472.9" cy="138.1" r="4.75"/><circle cx="472.9" cy="131.7" r="4.75"/><circle cx="472.9" cy="123.6" r="4.75"/><circle cx="472.9" cy="160.7" r="4.75"/><circle cx="472.9" cy="174.3" r="4.75"/><circle cx="475.1" cy="152.6" r="4.75"/><circle cx="475.1" cy="141.8" r="4.75"/><circle cx="475.1" cy="186.3" r="4.75"/><circle cx="475.1" cy="186.4" r="4.75"/><circle cx="475.1" cy="218.4" r="4.75"/><circle cx="475.1" cy="148.9" r="4.75"/><circle cx="475.1" cy="119.8" r="4.75"/><circle cx="475.1" cy="191.6" r="4.75"/><circle cx="475.1" cy="215.9" r="4.75"/><circle cx="475.1" cy="211.6" r="4.75"/><circle cx="475.1" cy="185.9" r="4.75"/><circle cx="475.1" cy="201.4" r="4.75"/><circle cx="475.1" cy="122.2" r="4.75"/><circle cx="475.1" cy="228.6" r="4.75"/><circle cx="475.1" cy="199.5" r="4.75"/><circle cx="475.1" cy="222.1" r="4.75"/><circle cx="477.2" cy="159.8" r="4.75"/><circle cx="477.2" cy="144.9" r="4.75"/><circle cx="477.2" cy="214.5" r="4.75"/><circle cx="477.2" cy="228.2" r="4.75"/><circle cx="477.2" cy="181.9" r="4.75"/><circle cx="477.2" cy="167.3" r="4.75"/><circle cx="477.2" cy="129.3" r="4.75"/><circle cx="477.2" cy="231.2" r="4.75"/><circle cx="477.2" cy="222.8" r="4.75"/><circle cx="477.2" cy="213.9" r="4.75"/><circle cx="477.2" cy="210.1" r="4.75"/><circle cx="477.2" cy="208" r="4.75"/><circle cx="477.2" cy="151.7" r="4.75"/><circle cx="479.4" cy="166" r="4.75"/><circle cx="479.4" cy="209.3" r="4.75"/><circle cx="479.4" cy="213.9" r="4.75"/><circle cx="479.4" cy="202.7" r="4.75"/><circle cx="479.4" cy="215.3" r="4.75"/><circle cx="479.4" cy="147" r="4.75"/><circle cx="479.4" cy="199.1" r="4.75"/><circle cx="479.4" cy="171.5" r="4.75"/><circle cx="479.4" cy="140.1" r="4.75"/><circle cx="479.4" cy="179.5" r="4.75"/><circle cx="481.5" cy="205.1" r="4.75"/><circle cx="481.5" cy="131.9" r="4.75"/><circle cx="481.5" cy="128.7" r="4.75"/><circle cx="481.5" cy="195.5" r="4.75"/><circle cx="481.5" cy="171.6" r="4.75"/><circle cx="481.5" cy="123.7" r="4.75"/><circle cx="481.5" cy="179.1" r="4.75"/><circle cx="481.5" cy="209.7" r="4.75"/><circle cx="481.5" cy="229.7" r="4.75"/><circle cx="483.7" cy="124.8" r="4.75"/><circle cx="483.7" cy="141.9" r="4.75"/><circle cx="483.7" cy="190.5" r="4.75"/><circle cx="483.7" cy="173.9" r="4.75"/><circle cx="483.7" cy="175.3" r="4.75"/><circle cx="483.7" cy="203.4" r="4.75"/><circle cx="483.7" cy="119.9" r="4.75"/><circle cx="483.7" cy="158.7" r="4.75"/><circle cx="485.9" cy="207.7" r="4.75"/><circle cx="485.9" cy="234.2" r="4.75"/><circle cx="485.9" cy="180.3" r="4.75"/><circle cx="485.9" cy="192.1" r="4.75"/><circle cx="485.9" cy="142.4" r="4.75"/><circle cx="488" cy="152.2" r="4.75"/><circle cx="488" cy="164.7" r="4.75"/></g>
</g>
<clipPath id="c011"><rect x="114" y="265.5" width="202.9" height="126.1"/></clipPath>
<g clip-path="url(#c011)">
<path d="M309.4 318.6 121.6 318.6 119.6 319 117.9 320.1 116.7 321.8 116.3 323.9 116.3 382.9 116.7 384.9 117.9 386.6 119.6 387.8 121.6 388.2 309.4 388.2 311.4 387.8 313.2 386.6 314.3 384.9 314.7 382.9 314.7 323.9 314.3 321.8 313.2 320.1 311.4 319Z"/>
<g class="r"><circle cx="221.2" cy="386.8" r="4.75"/><circle cx="300.2" cy="270.2" r="4.75"/><circle cx="286.3" cy="291.6" r="4.75"/><circle cx="240.5" cy="297.8" r="4.75"/><circle cx="229.4" cy="291.4" r="4.75"/><circle cx="218.1" cy="292.8" r="4.75"/><circle cx="214.8" cy="298.4" r="4.75"/><circle cx="190.3" cy="271.5" r="4.75"/><circle cx="165.1" cy="282.4" r="4.75"/><circle cx="165.9" cy="298.1" r="4.75"/><circle cx="162" cy="297.8" r="4.75"/><circle cx="129.1" cy="287.6" r="4.75"/><circle cx="127.3" cy="299.6" r="4.75"/><circle cx="302.2" cy="303.6" r="4.75"/><circle cx="293.2" cy="303.6" r="4.75"/><circle cx="267.5" cy="300.3" r="4.75"/><circle cx="260.3" cy="299.3" r="4.75"/><circle cx="182.6" cy="302.1" r="4.75"/><circle cx="146.6" cy="301.1" r="4.75"/><circle cx="136.3" cy="300.1" r="4.75"/><circle cx="206.6" cy="384.2" r="4.75"/><circle cx="226.7" cy="384.2" r="4.75"/><circle cx="295.2" cy="384.2" r="4.75"/><circle cx="209" cy="384.2" r="4.75"/><circle cx="217" cy="384.2" r="4.75"/><circle cx="231.9" cy="384.2" r="4.75"/><circle cx="156.3" cy="384.2" r="4.75"/><circle cx="217.7" cy="384.2" r="4.75"/><circle cx="239.9" cy="384.2" r="4.75"/><circle cx="270.5" cy="384.2" r="4.75"/><circle cx="139.2" cy="384.2" r="4.75"/><circle cx="178.6" cy="384.2" r="4.75"/><circle cx="138.6" cy="384.2" r="4.75"/><circle cx="273.7" cy="384.2" r="4.75"/><circle cx="251.8" cy="384.2" r="4.75"/><circle cx="129.4" cy="385.6" r="4.75"/><circle cx="306.1" cy="385.6" r="4.75"/><circle cx="302.8" cy="385.6" r="4.75"/><circle cx="244.4" cy="385.6" r="4.75"/><circle cx="237.2" cy="385.6" r="4.75"/><circle cx="151.2" cy="322.5" r="4.75"/><circle cx="124.4" cy="322.5" r="4.75"/><circle cx="220.8" cy="322.5" r="4.75"/><circle cx="132.8" cy="322.5" r="4.75"/><circle cx="157.3" cy="322.5" r="4.75"/><circle cx="167" cy="322.5" r="4.75"/><circle cx="127.2" cy="322.5" r="4.75"/><circle cx="208.7" cy="322.5" r="4.75"/><circle cx="204.3" cy="322.5" r="4.75"/><circle cx="279.8" cy="322.5" r="4.75"/><circle cx="219.1" cy="322.5" r="4.75"/><circle cx="241.9" cy="322.5" r="4.75"/><circle cx="215.5" cy="322.5" r="4.75"/><circle cx="246" cy="322.5" r="4.75"/><circle cx="207.5" cy="322.5" r="4.75"/><circle cx="173.8" cy="322.5" r="4.75"/><circle cx="309" cy="322.5" r="4.75"/><circle cx="308.6" cy="322.5" r="4.75"/><circle cx="279.4" cy="322.5" r="4.75"/><circle cx="254.5" cy="322.5" r="4.75"/><circle cx="180.8" cy="322.5" r="4.75"/><circle cx="164.7" cy="322.5" r="4.75"/><circle cx="175.9" cy="322.5" r="4.75"/><circle cx="134.8" cy="322.5" r="4.75"/><circle cx="265.5" cy="322.5" r="4.75"/><circle cx="196.8" cy="322.5" r="4.75"/><circle cx="280.6" cy="322.5" r="4.75"/><circle cx="194.2" cy="322.5" r="4.75"/><circle cx="301.6" cy="322.5" r="4.75"/><circle cx="280.8" cy="322.5" r="4.75"/><circle cx="121.7" cy="322.5" r="4.75"/><circle cx="161" cy="322.5" r="4.75"/><circle cx="292.6" cy="322.5" r="4.75"/><circle cx="209.9" cy="322.5" r="4.75"/><circle cx="305.7" cy="322.5" r="4.75"/><circle cx="196.2" cy="322.5" r="4.75"/><circle cx="135.3" cy="322.5" r="4.75"/><circle cx="239.8" cy="322.5" r="4.75"/><circle cx="267.8" cy="322.5" r="4.75"/><circle cx="172.2" cy="322.5" r="4.75"/><circle cx="137.9" cy="322.5" r="4.75"/><circle cx="184" cy="322.5" r="4.75"/><circle cx="302.7" cy="322.5" r="4.75"/><circle cx="264" cy="322.5" r="4.75"/><circle cx="143.7" cy="322.5" r="4.75"/><circle cx="167.9" cy="322.5" r="4.75"/><circle cx="140.5" cy="322.5" r="4.75"/><circle cx="132.8" cy="322.5" r="4.75"/><circle cx="271.3" cy="322.5" r="4.75"/><circle cx="154.9" cy="322.5" r="4.75"/><circle cx="226.6" cy="322.5" r="4.75"/><circle cx="205.6" cy="322.5" r="4.75"/><circle cx="157.4" cy="322.5" r="4.75"/><circle cx="259.1" cy="322.5" r="4.75"/><circle cx="146.2" cy="322.5" r="4.75"/><circle cx="242.5" cy="322.5" r="4.75"/><circle cx="143.5" cy="322.5" r="4.75"/><circle cx="200.6" cy="322.5" r="4.75"/><circle cx="161.6" cy="322.5" r="4.75"/><circle cx="172.3" cy="322.5" r="4.75"/><circle cx="304" cy="322.5" r="4.75"/><circle cx="272.5" cy="322.5" r="4.75"/><circle cx="178.7" cy="322.5" r="4.75"/><circle cx="287.8" cy="322.5" r="4.75"/><circle cx="161.2" cy="322.5" r="4.75"/><circle cx="195.6" cy="322.5" r="4.75"/><circle cx="282.1" cy="322.5" r="4.75"/><circle cx="242.1" cy="322.5" r="4.75"/><circle cx="140.4" cy="322.5" r="4.75"/><circle cx="307.4" cy="322.5" r="4.75"/><circle cx="161.6" cy="322.5" r="4.75"/><circle cx="170.1" cy="322.5" r="4.75"/><circle cx="266.7" cy="322.5" r="4.75"/><circle cx="183.4" cy="322.5" r="4.75"/><circle cx="177.2" cy="322.5" r="4.75"/><circle cx="135.4" cy="322.5" r="4.75"/><circle cx="138.5" cy="322.5" r="4.75"/><circle cx="231" cy="322.5" r="4.75"/><circle cx="167.2" cy="322.5" r="4.75"/><circle cx="234.5" cy="322.5" r="4.75"/><circle cx="191.4" cy="322.5" r="4.75"/><circle cx="206.7" cy="322.5" r="4.75"/><circle cx="301.8" cy="322.5" r="4.75"/><circle cx="212.4" cy="322.5" r="4.75"/><circle cx="229.5" cy="322.5" r="4.75"/><circle cx="284.4" cy="322.5" r="4.75"/><circle cx="155.9" cy="322.5" r="4.75"/><circle cx="150.5" cy="322.5" r="4.75"/><circle cx="292.2" cy="322.5" r="4.75"/><circle cx="275.2" cy="322.5" r="4.75"/><circle cx="168.4" cy="322.5" r="4.75"/><circle cx="157.2" cy="322.5" r="4.75"/><circle cx="260.5" cy="322.5" r="4.75"/><circle cx="298.2" cy="322.5" r="4.75"/><circle cx="158.5" cy="322.5" r="4.75"/><circle cx="300.1" cy="322.5" r="4.75"/><circle cx="287.3" cy="322.5" r="4.75"/><circle cx="235" cy="322.5" r="4.75"/><circle cx="200.7" cy="322.5" r="4.75"/><circle cx="141.1" cy="322.5" r="4.75"/><circle cx="128.8" cy="322.5" r="4.75"/><circle cx="302.4" cy="322.5" r="4.75"/><circle cx="166.4" cy="322.5" r="4.75"/><circle cx="253.9" cy="322.5" r="4.75"/><circle cx="169.8" cy="322.5" r="4.75"/><circle cx="276.3" cy="322.5" r="4.75"/><circle cx="233.6" cy="322.5" r="4.75"/><circle cx="176.7" cy="322.5" r="4.75"/><circle cx="154.5" cy="322.5" r="4.75"/><circle cx="256.9" cy="322.5" r="4.75"/><circle cx="134.5" cy="322.5" r="4.75"/><circle cx="164.5" cy="322.5" r="4.75"/><circle cx="226.7" cy="322.5" r="4.75"/><circle cx="281.7" cy="322.5" r="4.75"/><circle cx="237" cy="322.5" r="4.75"/><circle cx="174.2" cy="322.5" r="4.75"/><circle cx="293.9" cy="322.5" r="4.75"/><circle cx="159.9" cy="322.5" r="4.75"/><circle cx="124.7" cy="322.5" r="4.75"/><circle cx="172.1" cy="322.5" r="4.75"/><circle cx="205.3" cy="322.5" r="4.75"/><circle cx="132.9" cy="322.5" r="4.75"/><circle cx="154.7" cy="322.5" r="4.75"/><circle cx="190.8" cy="322.5" r="4.75"/><circle cx="229.1" cy="322.5" r="4.75"/><circle cx="146.3" cy="322.5" r="4.75"/><circle cx="189.6" cy="322.5" r="4.75"/><circle cx="288.9" cy="322.5" r="4.75"/><circle cx="305.8" cy="322.5" r="4.75"/><circle cx="245" cy="322.5" r="4.75"/><circle cx="251.4" cy="322.5" r="4.75"/><circle cx="231.4" cy="322.5" r="4.75"/><circle cx="147.9" cy="322.5" r="4.75"/><circle cx="128.2" cy="322.5" r="4.75"/><circle cx="124.9" cy="322.5" r="4.75"/><circle cx="292.6" cy="322.5" r="4.75"/><circle cx="253.3" cy="322.5" r="4.75"/><circle cx="302.4" cy="322.5" r="4.75"/><circle cx="125.6" cy="322.5" r="4.75"/><circle cx="241.1" cy="322.5" r="4.75"/><circle cx="212.2" cy="322.5" r="4.75"/><circle cx="258.8" cy="322.5" r="4.75"/><circle cx="181.5" cy="322.5" r="4.75"/><circle cx="309.3" cy="322.5" r="4.75"/><circle cx="135.7" cy="322.5" r="4.75"/><circle cx="224.2" cy="322.5" r="4.75"/><circle cx="260" cy="322.5" r="4.75"/><circle cx="290.7" cy="322.5" r="4.75"/><circle cx="260" cy="322.5" r="4.75"/><circle cx="253.8" cy="322.5" r="4.75"/><circle cx="270.6" cy="321.2" r="4.75"/><circle cx="293.5" cy="321.2" r="4.75"/><circle cx="187.7" cy="321.2" r="4.75"/><circle cx="250.3" cy="321.2" r="4.75"/><circle cx="290.8" cy="321.2" r="4.75"/><circle cx="285.2" cy="321.2" r="4.75"/><circle cx="199.9" cy="321.2" r="4.75"/><circle cx="270.1" cy="321.2" r="4.75"/><circle cx="283.8" cy="321.2" r="4.75"/><circle cx="229.2" cy="321.2" r="4.75"/><circle cx="239" cy="321.2" r="4.75"/><circle cx="193.4" cy="321.2" r="4.75"/><circle cx="231" cy="321.2" r="4.75"/><circle cx="236" cy="321.2" r="4.75"/><circle cx="136.6" cy="321.2" r="4.75"/><circle cx="241.7" cy="321.2" r="4.75"/><circle cx="308.2" cy="321.2" r="4.75"/><circle cx="286.9" cy="321.2" r="4.75"/><circle cx="258.4" cy="321.2" r="4.75"/><circle cx="194.5" cy="321.2" r="4.75"/><circle cx="259.7" cy="321.2" r="4.75"/><circle cx="230.7" cy="321.2" r="4.75"/><circle cx="204.3" cy="321.2" r="4.75"/><circle cx="279.1" cy="321.2" r="4.75"/><circle cx="137.3" cy="321.2" r="4.75"/><circle cx="262.5" cy="321.2" r="4.75"/><circle cx="127.2" cy="321.2" r="4.75"/><circle cx="234.5" cy="321.2" r="4.75"/><circle cx="211.9" cy="321.2" r="4.75"/><circle cx="164.8" cy="321.2" r="4.75"/><circle cx="252.8" cy="321.2" r="4.75"/><circle cx="215" cy="321.2" r="4.75"/><circle cx="237" cy="321.2" r="4.75"/><circle cx="294.5" cy="321.2" r="4.75"/><circle cx="169.6" cy="321.2" r="4.75"/><circle cx="123.7" cy="321.2" r="4.75"/><circle cx="178.1" cy="321.2" r="4.75"/><circle cx="249" cy="321.2" r="4.75"/><circle cx="159.6" cy="321.2" r="4.75"/><circle cx="153.4" cy="321.2" r="4.75"/><circle cx="291.7" cy="321.2" r="4.75"/><circle cx="245.6" cy="321.2" r="4.75"/><circle cx="204.6" cy="321.2" r="4.75"/><circle cx="289.1" cy="321.2" r="4.75"/><circle cx="183" cy="321.2" r="4.75"/><circle cx="246.7" cy="321.2" r="4.75"/><circle cx="158.9" cy="321.2" r="4.75"/><circle cx="202.5" cy="321.2" r="4.75"/><circle cx="273" cy="321.2" r="4.75"/><circle cx="293.3" cy="321.2" r="4.75"/><circle cx="286.9" cy="321.2" r="4.75"/><circle cx="193.8" cy="321.2" r="4.75"/><circle cx="231.1" cy="321.2" r="4.75"/><circle cx="181" cy="321.2" r="4.75"/><circle cx="147.1" cy="321.2" r="4.75"/><circle cx="214.8" cy="321.2" r="4.75"/><circle cx="278.8" cy="321.2" r="4.75"/><circle cx="281" cy="321.2" r="4.75"/><circle cx="255.2" cy="321.2" r="4.75"/><circle cx="300" cy="321.2" r="4.75"/><circle cx="173.6" cy="321.2" r="4.75"/><circle cx="153.3" cy="321.2" r="4.75"/><circle cx="206.2" cy="321.2" r="4.75"/><circle cx="173.3" cy="321.2" r="4.75"/><circle cx="161.8" cy="321.2" r="4.75"/><circle cx="199.3" cy="321.2" r="4.75"/><circle cx="239.1" cy="321.2" r="4.75"/><circle cx="214.4" cy="321.2" r="4.75"/><circle cx="180.8" cy="321.2" r="4.75"/><circle cx="279.2" cy="321.2" r="4.75"/><circle cx="306.1" cy="321.2" r="4.75"/><circle cx="206.6" cy="321.2" r="4.75"/><circle cx="135.6" cy="321.2" r="4.75"/><circle cx="127.5" cy="321.2" r="4.75"/><circle cx="285.5" cy="321.2" r="4.75"/><circle cx="129.4" cy="321.2" r="4.75"/><circle cx="254.7" cy="321.2" r="4.75"/><circle cx="228.8" cy="321.2" r="4.75"/><circle cx="179.6" cy="321.2" r="4.75"/><circle cx="270.3" cy="321.2" r="4.75"/><circle cx="125.2" cy="321.2" r="4.75"/><circle cx="147.1" cy="321.2" r="4.75"/><circle cx="207" cy="321.2" r="4.75"/><circle cx="126.2" cy="321.2" r="4.75"/><circle cx="277.4" cy="321.2" r="4.75"/><circle cx="166.2" cy="321.2" r="4.75"/><circle cx="148" cy="321.2" r="4.75"/><circle cx="130.4" cy="321.2" r="4.75"/><circle cx="239.8" cy="321.2" r="4.75"/><circle cx="205.4" cy="321.2" r="4.75"/><circle cx="239.9" cy="321.2" r="4.75"/><circle cx="244.6" cy="321.2" r="4.75"/><circle cx="273.3" cy="321.2" r="4.75"/><circle cx="301.6" cy="321.2" r="4.75"/><circle cx="250.2" cy="321.2" r="4.75"/><circle cx="159" cy="321.2" r="4.75"/><circle cx="210.8" cy="321.2" r="4.75"/><circle cx="155.1" cy="321.2" r="4.75"/><circle cx="123.6" cy="321.2" r="4.75"/><circle cx="210.3" cy="321.2" r="4.75"/><circle cx="255.7" cy="321.2" r="4.75"/><circle cx="155.2" cy="321.2" r="4.75"/><circle cx="172.7" cy="321.2" r="4.75"/><circle cx="186.5" cy="321.2" r="4.75"/><circle cx="252.6" cy="321.2" r="4.75"/><circle cx="219.3" cy="321.2" r="4.75"/><circle cx="237" cy="321.2" r="4.75"/><circle cx="263.6" cy="321.2" r="4.75"/><circle cx="195.5" cy="321.2" r="4.75"/><circle cx="270.3" cy="321.2" r="4.75"/><circle cx="291.8" cy="321.2" r="4.75"/><circle cx="137.9" cy="321.2" r="4.75"/><circle cx="296.8" cy="321.2" r="4.75"/><circle cx="257.3" cy="321.2" r="4.75"/><circle cx="146" cy="321.2" r="4.75"/><circle cx="206.8" cy="321.2" r="4.75"/><circle cx="239.1" cy="321.2" r="4.75"/><circle cx="292.5" cy="321.2" r="4.75"/><circle cx="192.4" cy="321.2" r="4.75"/><circle cx="228.4" cy="321.2" r="4.75"/><circle cx="286.8" cy="321.2" r="4.75"/><circle cx="271.3" cy="321.2" r="4.75"/><circle cx="299" cy="321.2" r="4.75"/><circle cx="208.7" cy="321.2" r="4.75"/><circle cx="243.9" cy="321.2" r="4.75"/><circle cx="160.1" cy="321.2" r="4.75"/><circle cx="257.2" cy="321.2" r="4.75"/><circle cx="275.3" cy="321.2" r="4.75"/><circle cx="242.1" cy="321.2" r="4.75"/><circle cx="256.4" cy="321.2" r="4.75"/><circle cx="161.6" cy="319.8" r="4.75"/><circle cx="290.6" cy="319.8" r="4.75"/><circle cx="305.8" cy="319.8" r="4.75"/><circle cx="305.2" cy="319.8" r="4.75"/><circle cx="222.4" cy="319.8" r="4.75"/><circle cx="270.1" cy="319.8" r="4.75"/><circle cx="181.8" cy="319.8" r="4.75"/><circle cx="292.5" cy="319.8" r="4.75"/><circle cx="282.3" cy="319.8" r="4.75"/><circle cx="187" cy="319.8" r="4.75"/><circle cx="137.1" cy="319.8" r="4.75"/><circle cx="204.4" cy="319.8" r="4.75"/><circle cx="225" cy="319.8" r="4.75"/><circle cx="265.9" cy="319.8" r="4.75"/><circle cx="213.1" cy="319.8" r="4.75"/><circle cx="126.9" cy="319.8" r="4.75"/><circle cx="273.6" cy="319.8" r="4.75"/><circle cx="133.6" cy="319.8" r="4.75"/><circle cx="271.8" cy="319.8" r="4.75"/><circle cx="154" cy="319.8" r="4.75"/><circle cx="184.5" cy="319.8" r="4.75"/><circle cx="269.6" cy="319.8" r="4.75"/><circle cx="148" cy="319.8" r="4.75"/><circle cx="149.5" cy="319.8" r="4.75"/><circle cx="218.6" cy="319.8" r="4.75"/><circle cx="257.5" cy="319.8" r="4.75"/><circle cx="279.4" cy="319.8" r="4.75"/><circle cx="251.1" cy="319.8" r="4.75"/><circle cx="299.2" cy="319.8" r="4.75"/><circle cx="214.1" cy="319.8" r="4.75"/><circle cx="299.9" cy="319.8" r="4.75"/><circle cx="137.7" cy="319.8" r="4.75"/><circle cx="163.2" cy="319.8" r="4.75"/><circle cx="220.5" cy="319.8" r="4.75"/><circle cx="176.1" cy="319.8" r="4.75"/><circle cx="258.5" cy="319.8" r="4.75"/><circle cx="241.6" cy="319.8" r="4.75"/><circle cx="219.8" cy="319.8" r="4.75"/><circle cx="280.1" cy="319.8" r="4.75"/><circle cx="226.8" cy="319.8" r="4.75"/><circle cx="180.1" cy="319.8" r="4.75"/><circle cx="193.2" cy="319.8" r="4.75"/><circle cx="280.4" cy="319.8" r="4.75"/><circle cx="290.7" cy="319.8" r="4.75"/><circle cx="160.7" cy="319.8" r="4.75"/><circle cx="281.4" cy="319.8" r="4.75"/><circle cx="303.5" cy="319.8" r="4.75"/><circle cx="220.1" cy="319.8" r="4.75"/><circle cx="229.2" cy="319.8" r="4.75"/><circle cx="159.3" cy="319.8" r="4.75"/><circle cx="222.2" cy="319.8" r="4.75"/><circle cx="216.1" cy="319.8" r="4.75"/><circle cx="235.3" cy="319.8" r="4.75"/><circle cx="126.8" cy="319.8" r="4.75"/><circle cx="303.7" cy="319.8" r="4.75"/><circle cx="218.5" cy="319.8" r="4.75"/><circle cx="196.8" cy="319.8" r="4.75"/><circle cx="272.1" cy="319.8" r="4.75"/><circle cx="227.3" cy="319.8" r="4.75"/><circle cx="213.8" cy="319.8" r="4.75"/><circle cx="251.4" cy="319.8" r="4.75"/><circle cx="133.9" cy="319.8" r="4.75"/><circle cx="222.8" cy="319.8" r="4.75"/><circle cx="199.3" cy="319.8" r="4.75"/><circle cx="301.3" cy="319.8" r="4.75"/><circle cx="295.1" cy="319.8" r="4.75"/><circle cx="172.1" cy="319.8" r="4.75"/><circle cx="210.5" cy="319.8" r="4.75"/><circle cx="145.4" cy="319.8" r="4.75"/><circle cx="203" cy="319.8" r="4.75"/><circle cx="274.8" cy="319.8" r="4.75"/><circle cx="290.8" cy="319.8" r="4.75"/><circle cx="211.1" cy="319.8" r="4.75"/><circle cx="181.2" cy="319.8" r="4.75"/><circle cx="157.5" cy="319.8" r="4.75"/><circle cx="237.7" cy="319.8" r="4.75"/><circle cx="295.4" cy="319.8" r="4.75"/><circle cx="145.9" cy="319.8" r="4.75"/><circle cx="268" cy="319.8" r="4.75"/><circle cx="125.8" cy="319.8" r="4.75"/><circle cx="158" cy="319.8" r="4.75"/><circle cx="164.3" cy="319.8" r="4.75"/><circle cx="250.6" cy="319.8" r="4.75"/><circle cx="182.1" cy="319.8" r="4.75"/><circle cx="188.3" cy="319.8" r="4.75"/><circle cx="238" cy="319.8" r="4.75"/><circle cx="141.3" cy="319.8" r="4.75"/><circle cx="258.9" cy="319.8" r="4.75"/><circle cx="144.6" cy="319.8" r="4.75"/><circle cx="217.5" cy="319.8" r="4.75"/><circle cx="168.6" cy="319.8" r="4.75"/><circle cx="158.7" cy="319.8" r="4.75"/><circle cx="221.2" cy="319.8" r="4.75"/><circle cx="203.6" cy="319.8" r="4.75"/><circle cx="192.2" cy="319.8" r="4.75"/><circle cx="199.2" cy="319.8" r="4.75"/><circle cx="221" cy="319.8" r="4.75"/><circle cx="151.6" cy="319.8" r="4.75"/><circle cx="159.9" cy="319.8" r="4.75"/><circle cx="240.2" cy="319.8" r="4.75"/><circle cx="241.5" cy="319.8" r="4.75"/><circle cx="221.1" cy="319.8" r="4.75"/><circle cx="281.5" cy="319.8" r="4.75"/><circle cx="236.5" cy="319.8" r="4.75"/><circle cx="282.5" cy="319.8" r="4.75"/><circle cx="165.3" cy="319.8" r="4.75"/><circle cx="260.7" cy="319.8" r="4.75"/><circle cx="273.8" cy="319.8" r="4.75"/><circle cx="291.2" cy="319.8" r="4.75"/><circle cx="180.9" cy="319.8" r="4.75"/><circle cx="180.7" cy="318.5" r="4.75"/><circle cx="294.9" cy="318.5" r="4.75"/><circle cx="162.5" cy="318.5" r="4.75"/><circle cx="309.1" cy="318.5" r="4.75"/><circle cx="288.3" cy="318.5" r="4.75"/><circle cx="146.7" cy="318.5" r="4.75"/><circle cx="166.5" cy="318.5" r="4.75"/><circle cx="258.1" cy="318.5" r="4.75"/><circle cx="170.3" cy="318.5" r="4.75"/><circle cx="139.8" cy="318.5" r="4.75"/><circle cx="277.9" cy="318.5" r="4.75"/><circle cx="200.8" cy="318.5" r="4.75"/><circle cx="270" cy="318.5" r="4.75"/><circle cx="145.2" cy="318.5" r="4.75"/><circle cx="197.2" cy="318.5" r="4.75"/><circle cx="250.3" cy="318.5" r="4.75"/><circle cx="124.9" cy="318.5" r="4.75"/><circle cx="159.3" cy="318.5" r="4.75"/><circle cx="249.8" cy="318.5" r="4.75"/><circle cx="292.8" cy="318.5" r="4.75"/><circle cx="303.5" cy="318.5" r="4.75"/><circle cx="143.2" cy="318.5" r="4.75"/><circle cx="216.6" cy="318.5" r="4.75"/><circle cx="264" cy="318.5" r="4.75"/><circle cx="216" cy="318.5" r="4.75"/><circle cx="250.4" cy="318.5" r="4.75"/><circle cx="157.1" cy="318.5" r="4.75"/><circle cx="134.8" cy="318.5" r="4.75"/><circle cx="141.5" cy="318.5" r="4.75"/><circle cx="128.6" cy="318.5" r="4.75"/><circle cx="225.2" cy="318.5" r="4.75"/><circle cx="218.3" cy="318.5" r="4.75"/><circle cx="228.4" cy="318.5" r="4.75"/><circle cx="149.1" cy="318.5" r="4.75"/><circle cx="156.2" cy="318.5" r="4.75"/><circle cx="159.9" cy="318.5" r="4.75"/><circle cx="279.4" cy="318.5" r="4.75"/><circle cx="307.6" cy="318.5" r="4.75"/><circle cx="295.7" cy="318.5" r="4.75"/><circle cx="139.5" cy="318.5" r="4.75"/><circle cx="133.2" cy="318.5" r="4.75"/><circle cx="300.3" cy="318.5" r="4.75"/><circle cx="208.4" cy="318.5" r="4.75"/><circle cx="265.2" cy="318.5" r="4.75"/><circle cx="183" cy="318.5" r="4.75"/><circle cx="209.3" cy="318.5" r="4.75"/><circle cx="218.4" cy="318.5" r="4.75"/><circle cx="202.4" cy="318.5" r="4.75"/><circle cx="234.5" cy="318.5" r="4.75"/><circle cx="124.1" cy="318.5" r="4.75"/><circle cx="253.3" cy="318.5" r="4.75"/><circle cx="280.2" cy="318.5" r="4.75"/><circle cx="155.6" cy="318.5" r="4.75"/><circle cx="206.8" cy="318.5" r="4.75"/><circle cx="260.5" cy="318.5" r="4.75"/><circle cx="197.7" cy="318.5" r="4.75"/><circle cx="158.2" cy="318.5" r="4.75"/><circle cx="152.6" cy="318.5" r="4.75"/><circle cx="217.9" cy="318.5" r="4.75"/><circle cx="124.5" cy="318.5" r="4.75"/><circle cx="289.4" cy="318.5" r="4.75"/><circle cx="272.2" cy="318.5" r="4.75"/><circle cx="254" cy="318.5" r="4.75"/><circle cx="283.3" cy="318.5" r="4.75"/><circle cx="239.8" cy="318.5" r="4.75"/><circle cx="197.6" cy="318.5" r="4.75"/><circle cx="234.2" cy="318.5" r="4.75"/><circle cx="216.3" cy="318.5" r="4.75"/><circle cx="306.2" cy="318.5" r="4.75"/><circle cx="272.8" cy="318.5" r="4.75"/><circle cx="170.1" cy="318.5" r="4.75"/><circle cx="292.8" cy="318.5" r="4.75"/><circle cx="261.4" cy="318.5" r="4.75"/><circle cx="267.7" cy="318.5" r="4.75"/><circle cx="274.6" cy="318.5" r="4.75"/><circle cx="197.8" cy="318.5" r="4.75"/><circle cx="290" cy="318.5" r="4.75"/><circle cx="286.9" cy="318.5" r="4.75"/><circle cx="252.1" cy="318.5" r="4.75"/><circle cx="265.7" cy="318.5" r="4.75"/><circle cx="265.3" cy="318.5" r="4.75"/><circle cx="197.8" cy="318.5" r="4.75"/><circle cx="257.3" cy="318.5" r="4.75"/><circle cx="134.8" cy="318.5" r="4.75"/><circle cx="185.8" cy="318.5" r="4.75"/><circle cx="209.6" cy="318.5" r="4.75"/><circle cx="123.6" cy="318.5" r="4.75"/><circle cx="188.4" cy="318.5" r="4.75"/><circle cx="241.6" cy="318.5" r="4.75"/><circle cx="238.8" cy="318.5" r="4.75"/><circle cx="165.2" cy="317.1" r="4.75"/><circle cx="299" cy="317.1" r="4.75"/><circle cx="246.7" cy="317.1" r="4.75"/><circle cx="185" cy="317.1" r="4.75"/><circle cx="245.5" cy="317.1" r="4.75"/><circle cx="228.6" cy="317.1" r="4.75"/><circle cx="221.7" cy="317.1" r="4.75"/><circle cx="194.8" cy="317.1" r="4.75"/><circle cx="309.4" cy="317.1" r="4.75"/><circle cx="242.2" cy="317.1" r="4.75"/><circle cx="253.3" cy="317.1" r="4.75"/><circle cx="264.7" cy="317.1" r="4.75"/><circle cx="305.7" cy="317.1" r="4.75"/><circle cx="125.9" cy="317.1" r="4.75"/><circle cx="237.2" cy="317.1" r="4.75"/><circle cx="260.4" cy="317.1" r="4.75"/><circle cx="169.8" cy="317.1" r="4.75"/><circle cx="197" cy="317.1" r="4.75"/><circle cx="131" cy="317.1" r="4.75"/><circle cx="158.3" cy="317.1" r="4.75"/><circle cx="192.1" cy="317.1" r="4.75"/><circle cx="140.1" cy="317.1" r="4.75"/><circle cx="168.7" cy="317.1" r="4.75"/><circle cx="291.7" cy="317.1" r="4.75"/><circle cx="224.9" cy="317.1" r="4.75"/><circle cx="217" cy="317.1" r="4.75"/><circle cx="303.3" cy="317.1" r="4.75"/><circle cx="228.3" cy="317.1" r="4.75"/><circle cx="308.5" cy="317.1" r="4.75"/><circle cx="241.4" cy="317.1" r="4.75"/><circle cx="273.7" cy="317.1" r="4.75"/><circle cx="135.9" cy="317.1" r="4.75"/><circle cx="233.8" cy="317.1" r="4.75"/><circle cx="264.2" cy="317.1" r="4.75"/><circle cx="130" cy="317.1" r="4.75"/><circle cx="296.3" cy="317.1" r="4.75"/><circle cx="151.6" cy="317.1" r="4.75"/><circle cx="210.2" cy="317.1" r="4.75"/><circle cx="153.3" cy="317.1" r="4.75"/><circle cx="214.7" cy="317.1" r="4.75"/><circle cx="236.4" cy="317.1" r="4.75"/><circle cx="132.6" cy="317.1" r="4.75"/><circle cx="299.2" cy="317.1" r="4.75"/><circle cx="200.6" cy="317.1" r="4.75"/><circle cx="220.5" cy="317.1" r="4.75"/><circle cx="233.9" cy="317.1" r="4.75"/><circle cx="190.2" cy="317.1" r="4.75"/><circle cx="175.2" cy="317.1" r="4.75"/><circle cx="244.6" cy="317.1" r="4.75"/><circle cx="226.9" cy="317.1" r="4.75"/><circle cx="174.8" cy="317.1" r="4.75"/><circle cx="256.2" cy="317.1" r="4.75"/><circle cx="177.2" cy="317.1" r="4.75"/><circle cx="124.2" cy="317.1" r="4.75"/><circle cx="167.6" cy="317.1" r="4.75"/><circle cx="129.6" cy="317.1" r="4.75"/><circle cx="151" cy="317.1" r="4.75"/><circle cx="263.3" cy="317.1" r="4.75"/><circle cx="194.8" cy="317.1" r="4.75"/><circle cx="290.2" cy="317.1" r="4.75"/><circle cx="262.2" cy="317.1" r="4.75"/><circle cx="131" cy="317.1" r="4.75"/><circle cx="307.3" cy="317.1" r="4.75"/><circle cx="299" cy="317.1" r="4.75"/><circle cx="135.4" cy="317.1" r="4.75"/><circle cx="291.7" cy="317.1" r="4.75"/><circle cx="202.3" cy="317.1" r="4.75"/><circle cx="211.3" cy="317.1" r="4.75"/><circle cx="304.4" cy="317.1" r="4.75"/><circle cx="167.3" cy="317.1" r="4.75"/><circle cx="219.9" cy="317.1" r="4.75"/><circle cx="297.7" cy="317.1" r="4.75"/><circle cx="257.3" cy="315.8" r="4.75"/><circle cx="209.6" cy="315.8" r="4.75"/><circle cx="305.5" cy="315.8" r="4.75"/><circle cx="275" cy="315.8" r="4.75"/><circle cx="235" cy="315.8" r="4.75"/><circle cx="143.2" cy="315.8" r="4.75"/><circle cx="238.8" cy="315.8" r="4.75"/><circle cx="207.2" cy="315.8" r="4.75"/><circle cx="159.8" cy="315.8" r="4.75"/><circle cx="131.3" cy="315.8" r="4.75"/><circle cx="220.8" cy="315.8" r="4.75"/><circle cx="144.9" cy="315.8" r="4.75"/><circle cx="204.8" cy="315.8" r="4.75"/><circle cx="247" cy="315.8" r="4.75"/><circle cx="207.2" cy="315.8" r="4.75"/><circle cx="170.8" cy="315.8" r="4.75"/><circle cx="231" cy="315.8" r="4.75"/><circle cx="200.4" cy="315.8" r="4.75"/><circle cx="267.7" cy="315.8" r="4.75"/><circle cx="221.3" cy="315.8" r="4.75"/><circle cx="309" cy="315.8" r="4.75"/><circle cx="300.5" cy="315.8" r="4.75"/><circle cx="259.5" cy="315.8" r="4.75"/><circle cx="166.4" cy="315.8" r="4.75"/><circle cx="143" cy="315.8" r="4.75"/><circle cx="289.3" cy="315.8" r="4.75"/><circle cx="268.9" cy="315.8" r="4.75"/><circle cx="239" cy="315.8" r="4.75"/><circle cx="189" cy="315.8" r="4.75"/><circle cx="172.6" cy="315.8" r="4.75"/><circle cx="250.3" cy="315.8" r="4.75"/><circle cx="227.7" cy="315.8" r="4.75"/><circle cx="232.7" cy="315.8" r="4.75"/><circle cx="240.5" cy="315.8" r="4.75"/><circle cx="263.1" cy="315.8" r="4.75"/><circle cx="157.2" cy="315.8" r="4.75"/><circle cx="168.3" cy="315.8" r="4.75"/><circle cx="305.6" cy="315.8" r="4.75"/><circle cx="293.6" cy="315.8" r="4.75"/><circle cx="286.7" cy="315.8" r="4.75"/><circle cx="129" cy="315.8" r="4.75"/><circle cx="133" cy="315.8" r="4.75"/><circle cx="172.5" cy="315.8" r="4.75"/><circle cx="201.4" cy="315.8" r="4.75"/><circle cx="238.7" cy="315.8" r="4.75"/><circle cx="140.8" cy="315.8" r="4.75"/><circle cx="223.3" cy="315.8" r="4.75"/><circle cx="135.2" cy="315.8" r="4.75"/><circle cx="137.8" cy="315.8" r="4.75"/><circle cx="248.6" cy="315.8" r="4.75"/><circle cx="225" cy="315.8" r="4.75"/><circle cx="240.1" cy="315.8" r="4.75"/><circle cx="191.7" cy="314.5" r="4.75"/><circle cx="211.5" cy="314.5" r="4.75"/><circle cx="161.1" cy="314.5" r="4.75"/><circle cx="186.1" cy="314.5" r="4.75"/><circle cx="261.5" cy="314.5" r="4.75"/><circle cx="279.1" cy="314.5" r="4.75"/><circle cx="135.5" cy="314.5" r="4.75"/><circle cx="144.1" cy="314.5" r="4.75"/><circle cx="273.6" cy="314.5" r="4.75"/><circle cx="238.7" cy="314.5" r="4.75"/><circle cx="266" cy="314.5" r="4.75"/><circle cx="161.6" cy="314.5" r="4.75"/><circle cx="201.3" cy="314.5" r="4.75"/><circle cx="170" cy="314.5" r="4.75"/><circle cx="273.7" cy="314.5" r="4.75"/><circle cx="190.9" cy="314.5" r="4.75"/><circle cx="244.4" cy="314.5" r="4.75"/><circle cx="307.4" cy="314.5" r="4.75"/><circle cx="182.7" cy="314.5" r="4.75"/><circle cx="224.6" cy="314.5" r="4.75"/><circle cx="261.7" cy="314.5" r="4.75"/><circle cx="294.6" cy="314.5" r="4.75"/><circle cx="201.9" cy="314.5" r="4.75"/><circle cx="190.9" cy="314.5" r="4.75"/><circle cx="139.8" cy="314.5" r="4.75"/><circle cx="286" cy="314.5" r="4.75"/><circle cx="136.3" cy="314.5" r="4.75"/><circle cx="137.2" cy="314.5" r="4.75"/><circle cx="227.6" cy="314.5" r="4.75"/><circle cx="212.7" cy="314.5" r="4.75"/><circle cx="250.3" cy="314.5" r="4.75"/><circle cx="177.7" cy="314.5" r="4.75"/><circle cx="267.3" cy="314.5" r="4.75"/><circle cx="135.9" cy="314.5" r="4.75"/><circle cx="161.6" cy="314.5" r="4.75"/><circle cx="246" cy="314.5" r="4.75"/><circle cx="136.9" cy="314.5" r="4.75"/><circle cx="178.6" cy="314.5" r="4.75"/><circle cx="257.8" cy="314.5" r="4.75"/><circle cx="251.9" cy="314.5" r="4.75"/><circle cx="174.7" cy="313.1" r="4.75"/><circle cx="148.4" cy="313.1" r="4.75"/><circle cx="188.8" cy="313.1" r="4.75"/><circle cx="258" cy="313.1" r="4.75"/><circle cx="190.4" cy="313.1" r="4.75"/><circle cx="143.6" cy="313.1" r="4.75"/><circle cx="254.8" cy="313.1" r="4.75"/><circle cx="228.5" cy="313.1" r="4.75"/><circle cx="294.1" cy="313.1" r="4.75"/><circle cx="298.2" cy="313.1" r="4.75"/><circle cx="293.2" cy="313.1" r="4.75"/><circle cx="203.9" cy="313.1" r="4.75"/><circle cx="272.4" cy="313.1" r="4.75"/><circle cx="178.8" cy="313.1" r="4.75"/><circle cx="181.2" cy="313.1" r="4.75"/><circle cx="196.6" cy="313.1" r="4.75"/><circle cx="297.2" cy="313.1" r="4.75"/><circle cx="289.7" cy="313.1" r="4.75"/><circle cx="168.2" cy="313.1" r="4.75"/><circle cx="189.5" cy="313.1" r="4.75"/><circle cx="190.2" cy="313.1" r="4.75"/><circle cx="189.8" cy="313.1" r="4.75"/><circle cx="195.9" cy="313.1" r="4.75"/><circle cx="194.4" cy="313.1" r="4.75"/><circle cx="158.2" cy="313.1" r="4.75"/><circle cx="227.5" cy="313.1" r="4.75"/><circle cx="271.3" cy="313.1" r="4.75"/><circle cx="223.1" cy="313.1" r="4.75"/><circle cx="278.7" cy="313.1" r="4.75"/><circle cx="227.3" cy="313.1" r="4.75"/><circle cx="154.7" cy="313.1" r="4.75"/><circle cx="264.2" cy="313.1" r="4.75"/><circle cx="287.1" cy="311.8" r="4.75"/><circle cx="174.4" cy="311.8" r="4.75"/><circle cx="125.7" cy="311.8" r="4.75"/><circle cx="218.4" cy="311.8" r="4.75"/><circle cx="223.8" cy="311.8" r="4.75"/><circle cx="228.2" cy="311.8" r="4.75"/><circle cx="303.1" cy="311.8" r="4.75"/><circle cx="243.9" cy="311.8" r="4.75"/><circle cx="272.7" cy="311.8" r="4.75"/><circle cx="133.6" cy="311.8" r="4.75"/><circle cx="224.3" cy="311.8" r="4.75"/><circle cx="269.6" cy="311.8" r="4.75"/><circle cx="137.4" cy="311.8" r="4.75"/><circle cx="136.9" cy="311.8" r="4.75"/><circle cx="260" cy="311.8" r="4.75"/><circle cx="290.5" cy="311.8" r="4.75"/><circle cx="137.5" cy="311.8" r="4.75"/><circle cx="240.7" cy="311.8" r="4.75"/><circle cx="148.6" cy="311.8" r="4.75"/><circle cx="261.7" cy="311.8" r="4.75"/><circle cx="243.5" cy="311.8" r="4.75"/><circle cx="167.7" cy="311.8" r="4.75"/><circle cx="163" cy="311.8" r="4.75"/><circle cx="265.4" cy="311.8" r="4.75"/><circle cx="219.6" cy="311.8" r="4.75"/><circle cx="265.2" cy="310.4" r="4.75"/><circle cx="195.7" cy="310.4" r="4.75"/><circle cx="185" cy="310.4" r="4.75"/><circle cx="303.5" cy="310.4" r="4.75"/><circle cx="247.9" cy="310.4" r="4.75"/><circle cx="214.3" cy="310.4" r="4.75"/><circle cx="222.5" cy="310.4" r="4.75"/><circle cx="257" cy="310.4" r="4.75"/><circle cx="254.6" cy="310.4" r="4.75"/><circle cx="293.5" cy="310.4" r="4.75"/><circle cx="198.7" cy="310.4" r="4.75"/><circle cx="276.8" cy="310.4" r="4.75"/><circle cx="246.8" cy="310.4" r="4.75"/><circle cx="281.9" cy="310.4" r="4.75"/><circle cx="273" cy="310.4" r="4.75"/><circle cx="278.2" cy="310.4" r="4.75"/><circle cx="288.5" cy="310.4" r="4.75"/><circle cx="301.5" cy="310.4" r="4.75"/><circle cx="241.9" cy="310.4" r="4.75"/><circle cx="220" cy="310.4" r="4.75"/><circle cx="255" cy="309.1" r="4.75"/><circle cx="272.3" cy="309.1" r="4.75"/><circle cx="200.8" cy="309.1" r="4.75"/><circle cx="200.6" cy="309.1" r="4.75"/><circle cx="149" cy="309.1" r="4.75"/><circle cx="260.8" cy="309.1" r="4.75"/><circle cx="307.7" cy="309.1" r="4.75"/><circle cx="192.1" cy="309.1" r="4.75"/><circle cx="153.1" cy="309.1" r="4.75"/><circle cx="160" cy="309.1" r="4.75"/><circle cx="201.4" cy="309.1" r="4.75"/><circle cx="176.4" cy="309.1" r="4.75"/><circle cx="303.8" cy="309.1" r="4.75"/><circle cx="132.7" cy="309.1" r="4.75"/><circle cx="179.5" cy="309.1" r="4.75"/><circle cx="143.1" cy="309.1" r="4.75"/><circle cx="243.3" cy="307.7" r="4.75"/><circle cx="267.3" cy="307.7" r="4.75"/><circle cx="155.3" cy="307.7" r="4.75"/><circle cx="133.3" cy="307.7" r="4.75"/><circle cx="207.8" cy="307.7" r="4.75"/><circle cx="231.3" cy="307.7" r="4.75"/><circle cx="292.4" cy="307.7" r="4.75"/><circle cx="128.4" cy="307.7" r="4.75"/><circle cx="142" cy="307.7" r="4.75"/><circle cx="156.2" cy="307.7" r="4.75"/><circle cx="162.4" cy="307.7" r="4.75"/><circle cx="165.8" cy="307.7" r="4.75"/><circle cx="256.3" cy="307.7" r="4.75"/><circle cx="233.3" cy="306.4" r="4.75"/><circle cx="163.6" cy="306.4" r="4.75"/><circle cx="156.3" cy="306.4" r="4.75"/><circle cx="174.4" cy="306.4" r="4.75"/><circle cx="154" cy="306.4" r="4.75"/><circle cx="263.9" cy="306.4" r="4.75"/><circle cx="180.1" cy="306.4" r="4.75"/><circle cx="224.6" cy="306.4" r="4.75"/><circle cx="275.1" cy="306.4" r="4.75"/><circle cx="211.6" cy="306.4" r="4.75"/><circle cx="170.5" cy="305.1" r="4.75"/><circle cx="288.3" cy="305.1" r="4.75"/><circle cx="293.3" cy="305.1" r="4.75"/><circle cx="185.8" cy="305.1" r="4.75"/><circle cx="224.4" cy="305.1" r="4.75"/><circle cx="301.4" cy="305.1" r="4.75"/><circle cx="212.2" cy="305.1" r="4.75"/><circle cx="163.1" cy="305.1" r="4.75"/><circle cx="130.9" cy="305.1" r="4.75"/><circle cx="299.6" cy="303.7" r="4.75"/><circle cx="272.1" cy="303.7" r="4.75"/><circle cx="193.9" cy="303.7" r="4.75"/><circle cx="220.7" cy="303.7" r="4.75"/><circle cx="218.5" cy="303.7" r="4.75"/><circle cx="173.1" cy="303.7" r="4.75"/><circle cx="307.6" cy="303.7" r="4.75"/><circle cx="245.1" cy="303.7" r="4.75"/><circle cx="166.2" cy="302.4" r="4.75"/><circle cx="123.6" cy="302.4" r="4.75"/><circle cx="210.4" cy="302.4" r="4.75"/><circle cx="191.4" cy="302.4" r="4.75"/><circle cx="271.3" cy="302.4" r="4.75"/><circle cx="255.6" cy="301" r="4.75"/><circle cx="235.4" cy="301" r="4.75"/></g>
</g>
<clipPath id="c020"><rect x="570.5" y="114" width="202.9" height="126.1"/></clipPath>
<g clip-path="url(#c020)">
<path d="M748.5 118 747.9 116.1 746.6 114.4 744.8 113.3 742.8 113 600 113 597.4 113.6 595.4 115.2 594.2 118.1 594.2 120.2 594.8 122.1 596.1 123.7 597.6 124.5 598.3 133.2 598.1 134.8 596 139.9 600.4 146.6 607.1 153.5 607.9 155.9 607.6 157.6 606.7 159 600 165.3 597.4 173 596.8 179.8 599 187.5 599.7 188.3 606.2 191.6 607.3 192.9 607.9 195.1 607.6 196.8 606.3 198.6 598.8 201.9 598 203 597.7 208.6 602.9 213.9 603.9 216.4 601.5 226.7 601.5 229.4 600.6 229.6 598.7 230.8 597.5 232.6 597 234.7 597.6 237.5 598.8 239.5 600.7 240.8 603 241.2 742.1 241.2 744.1 240.9 745.9 239.9 747.1 238.3 747.8 236.4 747.8 233.4 746.6 231.2 744.4 229.6 745.9 220.6 742.9 210.1 745.9 197.6 744.5 187.8 747.4 178.3 746.1 168.7 748.3 156.4 746.3 147.7 743 137.7 742.9 125 745.1 124.5 747.1 123 748.2 120.7Z"/>
<g class="r"><circle cx="583.9" cy="140" r="4.75"/><circle cx="588.7" cy="144.5" r="4.75"/><circle cx="579.7" cy="157.3" r="4.75"/><circle cx="589.3" cy="159.2" r="4.75"/><circle cx="578.1" cy="164.3" r="4.75"/><circle cx="585.8" cy="170.4" r="4.75"/><circle cx="591.4" cy="178.4" r="4.75"/><circle cx="585.5" cy="205.2" r="4.75"/><circle cx="595.4" cy="202.3" r="4.75"/><circle cx="587.4" cy="215.9" r="4.75"/><circle cx="593" cy="217.2" r="4.75"/><circle cx="578.1" cy="222.3" r="4.75"/><circle cx="587.4" cy="233.5" r="4.75"/><circle cx="593" cy="230.3" r="4.75"/><circle cx="596.2" cy="125.6" r="4.75"/><circle cx="594.6" cy="129.6" r="4.75"/><circle cx="765.8" cy="121.3" r="4.75"/><circle cx="756.2" cy="119.2" r="4.75"/><circle cx="754.6" cy="131.7" r="4.75"/><circle cx="760.2" cy="145.9" r="4.75"/><circle cx="755.4" cy="157.3" r="4.75"/><circle cx="753.8" cy="164" r="4.75"/><circle cx="755.4" cy="173.9" r="4.75"/><circle cx="751.4" cy="176" r="4.75"/><circle cx="751.4" cy="196.7" r="4.75"/><circle cx="756.5" cy="209.1" r="4.75"/><circle cx="760.5" cy="221.1" r="4.75"/><circle cx="756.5" cy="227.1" r="4.75"/><circle cx="751.4" cy="183.2" r="4.75"/><circle cx="749" cy="191.2" r="4.75"/><circle cx="750.6" cy="218.3" r="4.75"/><circle cx="747.4" cy="231.1" r="4.75"/><circle cx="749.1" cy="133.4" r="4.75"/><circle cx="751.2" cy="123.5" r="4.75"/><circle cx="750.5" cy="160.5" r="4.75"/><circle cx="747.4" cy="178.3" r="4.75"/><circle cx="747.3" cy="169" r="4.75"/><circle cx="747.5" cy="125.8" r="4.75"/><circle cx="749.8" cy="218.6" r="4.75"/><circle cx="747.8" cy="142.5" r="4.75"/><circle cx="751.1" cy="233.8" r="4.75"/><circle cx="750.7" cy="164.4" r="4.75"/><circle cx="753.3" cy="120.3" r="4.75"/><circle cx="752.5" cy="150.9" r="4.75"/><circle cx="748" cy="129.2" r="4.75"/><circle cx="749" cy="217.2" r="4.75"/><circle cx="748.2" cy="187.7" r="4.75"/><circle cx="751.1" cy="161.3" r="4.75"/><circle cx="750.6" cy="122.3" r="4.75"/><circle cx="747.4" cy="140.3" r="4.75"/><circle cx="751.4" cy="168.3" r="4.75"/><circle cx="749.1" cy="188.2" r="4.75"/><circle cx="749.9" cy="152.2" r="4.75"/><circle cx="752.1" cy="202.5" r="4.75"/><circle cx="748.6" cy="186.8" r="4.75"/><circle cx="750.4" cy="224.7" r="4.75"/><circle cx="751.7" cy="150.7" r="4.75"/><circle cx="753.3" cy="129.3" r="4.75"/><circle cx="749.7" cy="209.8" r="4.75"/><circle cx="748" cy="176" r="4.75"/><circle cx="747.3" cy="198.6" r="4.75"/><circle cx="751.9" cy="186.6" r="4.75"/><circle cx="752.6" cy="153.9" r="4.75"/><circle cx="751.5" cy="189.3" r="4.75"/><circle cx="750.8" cy="171.9" r="4.75"/><circle cx="752.4" cy="233.4" r="4.75"/><circle cx="595.2" cy="198.1" r="4.75"/><circle cx="591.9" cy="202.8" r="4.75"/><circle cx="596.6" cy="235.5" r="4.75"/><circle cx="598" cy="150.3" r="4.75"/><circle cx="594.5" cy="198.7" r="4.75"/><circle cx="591.6" cy="172.6" r="4.75"/><circle cx="592.7" cy="129.2" r="4.75"/><circle cx="591.9" cy="211.2" r="4.75"/><circle cx="592.4" cy="145.6" r="4.75"/><circle cx="594.5" cy="224.2" r="4.75"/><circle cx="592" cy="171" r="4.75"/><circle cx="595.8" cy="225.7" r="4.75"/><circle cx="597.9" cy="223.3" r="4.75"/><circle cx="593.6" cy="166.7" r="4.75"/><circle cx="594.3" cy="225.8" r="4.75"/><circle cx="599.1" cy="133.4" r="4.75"/><circle cx="592.8" cy="143.6" r="4.75"/><circle cx="593.3" cy="175.5" r="4.75"/><circle cx="596.1" cy="147.5" r="4.75"/><circle cx="591.4" cy="167.2" r="4.75"/><circle cx="594.3" cy="185.8" r="4.75"/><circle cx="599" cy="201.4" r="4.75"/><circle cx="595.5" cy="192.2" r="4.75"/><circle cx="596.8" cy="121.2" r="4.75"/><circle cx="598.6" cy="212.7" r="4.75"/><circle cx="598.4" cy="214.9" r="4.75"/><circle cx="599.2" cy="125.6" r="4.75"/><circle cx="598.7" cy="127.9" r="4.75"/><circle cx="600.6" cy="130.8" r="4.75"/><circle cx="600.4" cy="134.8" r="4.75"/><circle cx="599.3" cy="138.5" r="4.75"/><circle cx="598.2" cy="139.2" r="4.75"/><circle cx="599.7" cy="142.5" r="4.75"/><circle cx="600" cy="145.8" r="4.75"/><circle cx="605.2" cy="148.1" r="4.75"/><circle cx="606.2" cy="150" r="4.75"/><circle cx="609.3" cy="152.4" r="4.75"/><circle cx="607.5" cy="157" r="4.75"/><circle cx="608.1" cy="159.3" r="4.75"/><circle cx="607.5" cy="161.6" r="4.75"/><circle cx="604.2" cy="163.9" r="4.75"/><circle cx="601.7" cy="167.2" r="4.75"/><circle cx="599.3" cy="167.1" r="4.75"/><circle cx="600" cy="172.4" r="4.75"/><circle cx="599.9" cy="175.4" r="4.75"/><circle cx="596.7" cy="178.2" r="4.75"/><circle cx="598.3" cy="182.7" r="4.75"/><circle cx="599.6" cy="183.6" r="4.75"/><circle cx="599.3" cy="186.8" r="4.75"/><circle cx="603.2" cy="189.6" r="4.75"/><circle cx="606.3" cy="189.2" r="4.75"/><circle cx="607.5" cy="193.8" r="4.75"/><circle cx="608.1" cy="196.4" r="4.75"/><circle cx="606.9" cy="198.8" r="4.75"/><circle cx="606.3" cy="200.1" r="4.75"/><circle cx="603.5" cy="202.9" r="4.75"/><circle cx="601.2" cy="203" r="4.75"/><circle cx="598.6" cy="205.1" r="4.75"/><circle cx="600.8" cy="209.8" r="4.75"/><circle cx="601.8" cy="213.1" r="4.75"/><circle cx="605.2" cy="214.6" r="4.75"/><circle cx="605.8" cy="215.4" r="4.75"/><circle cx="605.7" cy="218.8" r="4.75"/><circle cx="602.6" cy="222.7" r="4.75"/><circle cx="602.9" cy="226.8" r="4.75"/><circle cx="601.8" cy="229.4" r="4.75"/><circle cx="602.3" cy="230.8" r="4.75"/><circle cx="606.8" cy="235.4" r="4.75"/><circle cx="617.1" cy="235.2" r="4.75"/><circle cx="622.7" cy="234.5" r="4.75"/><circle cx="624" cy="234.4" r="4.75"/><circle cx="640" cy="234" r="4.75"/><circle cx="655" cy="234.6" r="4.75"/><circle cx="656.4" cy="234.9" r="4.75"/><circle cx="662.8" cy="235.2" r="4.75"/><circle cx="669.5" cy="235.4" r="4.75"/><circle cx="682.8" cy="234" r="4.75"/><circle cx="685.8" cy="234.5" r="4.75"/><circle cx="691.3" cy="235.4" r="4.75"/><circle cx="707.6" cy="234.8" r="4.75"/><circle cx="719.3" cy="235.3" r="4.75"/><circle cx="738.6" cy="234.8" r="4.75"/><circle cx="741.5" cy="232.8" r="4.75"/><circle cx="742.5" cy="232.1" r="4.75"/><circle cx="742.4" cy="229" r="4.75"/><circle cx="744.2" cy="226" r="4.75"/><circle cx="745.8" cy="220.4" r="4.75"/><circle cx="745" cy="219.2" r="4.75"/><circle cx="741.8" cy="215.2" r="4.75"/><circle cx="743.1" cy="211" r="4.75"/><circle cx="743" cy="210.2" r="4.75"/><circle cx="742.4" cy="206.4" r="4.75"/><circle cx="744.6" cy="201.7" r="4.75"/><circle cx="743.6" cy="200.8" r="4.75"/><circle cx="744.1" cy="196.8" r="4.75"/><circle cx="743.7" cy="194.6" r="4.75"/><circle cx="742" cy="190" r="4.75"/><circle cx="743.1" cy="187" r="4.75"/><circle cx="743.2" cy="185.5" r="4.75"/><circle cx="745.3" cy="180.8" r="4.75"/><circle cx="747.1" cy="179.9" r="4.75"/><circle cx="747" cy="173.8" r="4.75"/><circle cx="744.8" cy="173.2" r="4.75"/><circle cx="745.8" cy="170" r="4.75"/><circle cx="744.1" cy="166" r="4.75"/><circle cx="747.1" cy="162.8" r="4.75"/><circle cx="746" cy="158.1" r="4.75"/><circle cx="748.1" cy="157.4" r="4.75"/><circle cx="746.8" cy="152.6" r="4.75"/><circle cx="744.5" cy="151.4" r="4.75"/><circle cx="744.2" cy="146.3" r="4.75"/><circle cx="745.3" cy="144.6" r="4.75"/><circle cx="743.3" cy="140" r="4.75"/><circle cx="743" cy="138.6" r="4.75"/><circle cx="742.7" cy="135.8" r="4.75"/><circle cx="741.1" cy="131.4" r="4.75"/><circle cx="742.9" cy="127.9" r="4.75"/><circle cx="740.5" cy="125.6" r="4.75"/><circle cx="741.3" cy="121.4" r="4.75"/><circle cx="741.5" cy="119.5" r="4.75"/><circle cx="740.8" cy="119.6" r="4.75"/><circle cx="736.8" cy="119.3" r="4.75"/><circle cx="732.2" cy="119.3" r="4.75"/><circle cx="729.8" cy="119.7" r="4.75"/><circle cx="727.1" cy="120.2" r="4.75"/><circle cx="724.2" cy="120.2" r="4.75"/><circle cx="718" cy="118.8" r="4.75"/><circle cx="712.4" cy="119.9" r="4.75"/><circle cx="709.6" cy="118.9" r="4.75"/><circle cx="691.7" cy="119.2" r="4.75"/><circle cx="689.6" cy="119.8" r="4.75"/><circle cx="682.6" cy="119.7" r="4.75"/><circle cx="672.9" cy="119.5" r="4.75"/><circle cx="669.7" cy="118.8" r="4.75"/><circle cx="666.9" cy="118.9" r="4.75"/><circle cx="653.6" cy="119.1" r="4.75"/><circle cx="651.4" cy="119.1" r="4.75"/><circle cx="641.8" cy="119.4" r="4.75"/><circle cx="638.3" cy="119" r="4.75"/><circle cx="635.3" cy="120.2" r="4.75"/><circle cx="631.2" cy="119.5" r="4.75"/><circle cx="618.2" cy="119.2" r="4.75"/><circle cx="613.1" cy="119.8" r="4.75"/><circle cx="599.9" cy="118.9" r="4.75"/></g>
</g>
<clipPath id="c021"><rect x="114" y="416.9" width="202.9" height="126.1"/></clipPath>
<g clip-path="url(#c021)">
<path d="M121.7 528.7 124.1 528.6 126.3 527.4 127.8 525.4 128 524.3 135.3 524.3 150.5 522.8 156.5 523.3 165.6 526.7 173.7 526.4 174.5 526.1 179.9 521.5 182.4 520.7 185.7 520.3 189.2 520.5 192.7 521.3 199.2 525.8 211.6 527.2 221.9 526.8 234.1 525.3 244.2 521 249.7 520.3 254.4 520.9 265.4 525 275.6 527.7 284.7 526.3 303.1 526.5 304.6 529.1 306.6 530.3 308.9 530.6 312 529.9 313.7 528.7 314.8 526.9 315.2 524.8 315.2 436 314.7 433.7 313.3 431.8 311.2 430.6 308.9 430.3 305.9 431 304.2 432.3 303.1 434 302.9 435.4 302 435.5 278.5 435.4 249.1 432.1 229 433.5 214.1 432.6 198.3 434.5 182.9 433.6 161.7 435.5 145.8 433.6 127.9 434.7 126.5 432.1 124.5 430.9 122.2 430.6 119.1 431.2 117.4 432.5 116.2 434.3 115.8 436.4 115.8 522.9 116.2 524.9 117.2 526.7 118.8 527.9Z"/>
<g class="r"><circle cx="275.2" cy="534.8" r="4.75"/><circle cx="268" cy="531.8" r="4.75"/><circle cx="247.4" cy="537.4" r="4.75"/><circle cx="244.4" cy="531.4" r="4.75"/><circle cx="236.1" cy="538.3" r="4.75"/><circle cx="226.3" cy="533.6" r="4.75"/><circle cx="213.5" cy="530.1" r="4.75"/><circle cx="170.3" cy="533.8" r="4.75"/><circle cx="174.9" cy="527.6" r="4.75"/><circle cx="153" cy="532.6" r="4.75"/><circle cx="151" cy="529.1" r="4.75"/><circle cx="142.7" cy="538.4" r="4.75"/><circle cx="124.7" cy="532.6" r="4.75"/><circle cx="129.9" cy="529.1" r="4.75"/><circle cx="298.4" cy="527.1" r="4.75"/><circle cx="292" cy="528.1" r="4.75"/><circle cx="305.3" cy="421.7" r="4.75"/><circle cx="308.7" cy="427.7" r="4.75"/><circle cx="288.6" cy="428.7" r="4.75"/><circle cx="265.7" cy="425.2" r="4.75"/><circle cx="247.4" cy="428.2" r="4.75"/><circle cx="236.6" cy="429.2" r="4.75"/><circle cx="220.7" cy="428.2" r="4.75"/><circle cx="217.3" cy="430.7" r="4.75"/><circle cx="183.9" cy="430.7" r="4.75"/><circle cx="164.1" cy="427.5" r="4.75"/><circle cx="144.8" cy="425" r="4.75"/><circle cx="135" cy="427.5" r="4.75"/><circle cx="205.8" cy="430.7" r="4.75"/><circle cx="192.9" cy="432.2" r="4.75"/><circle cx="149.2" cy="431.2" r="4.75"/><circle cx="128.6" cy="433.2" r="4.75"/><circle cx="285.8" cy="432.1" r="4.75"/><circle cx="301.7" cy="430.8" r="4.75"/><circle cx="242.3" cy="431.2" r="4.75"/><circle cx="213.5" cy="433.1" r="4.75"/><circle cx="228.5" cy="433.2" r="4.75"/><circle cx="298" cy="433.1" r="4.75"/><circle cx="148.8" cy="431.7" r="4.75"/><circle cx="271.1" cy="432.9" r="4.75"/><circle cx="124.2" cy="430.9" r="4.75"/><circle cx="236" cy="431.1" r="4.75"/><circle cx="306.9" cy="429.5" r="4.75"/><circle cx="257.7" cy="429.9" r="4.75"/><circle cx="292.5" cy="432.8" r="4.75"/><circle cx="150.9" cy="432.1" r="4.75"/><circle cx="198.5" cy="432.6" r="4.75"/><circle cx="240.9" cy="430.8" r="4.75"/><circle cx="303.7" cy="431.2" r="4.75"/><circle cx="274.6" cy="433.1" r="4.75"/><circle cx="229.7" cy="430.7" r="4.75"/><circle cx="197.7" cy="432.1" r="4.75"/><circle cx="255.6" cy="431.6" r="4.75"/><circle cx="174.7" cy="430.2" r="4.75"/><circle cx="199.9" cy="432.4" r="4.75"/><circle cx="139" cy="431.3" r="4.75"/><circle cx="258" cy="430.5" r="4.75"/><circle cx="292.5" cy="429.5" r="4.75"/><circle cx="162.9" cy="431.7" r="4.75"/><circle cx="217.3" cy="432.8" r="4.75"/><circle cx="180.9" cy="433.2" r="4.75"/><circle cx="200.2" cy="430.3" r="4.75"/><circle cx="252.8" cy="429.9" r="4.75"/><circle cx="195.9" cy="430.6" r="4.75"/><circle cx="223.9" cy="431.1" r="4.75"/><circle cx="124.9" cy="430" r="4.75"/><circle cx="181.7" cy="527.7" r="4.75"/><circle cx="174.2" cy="529.8" r="4.75"/><circle cx="121.6" cy="526.9" r="4.75"/><circle cx="258.7" cy="526" r="4.75"/><circle cx="180.8" cy="528.2" r="4.75"/><circle cx="222.8" cy="530" r="4.75"/><circle cx="292.7" cy="529.3" r="4.75"/><circle cx="160.6" cy="529.8" r="4.75"/><circle cx="266.2" cy="529.5" r="4.75"/><circle cx="139.7" cy="528.2" r="4.75"/><circle cx="225.3" cy="529.7" r="4.75"/><circle cx="137.3" cy="527.4" r="4.75"/><circle cx="141.2" cy="526" r="4.75"/><circle cx="232.2" cy="528.7" r="4.75"/><circle cx="137.1" cy="528.3" r="4.75"/><circle cx="285.8" cy="525.3" r="4.75"/><circle cx="269.4" cy="529.2" r="4.75"/><circle cx="218.1" cy="528.9" r="4.75"/><circle cx="263.1" cy="527.2" r="4.75"/><circle cx="231.5" cy="530.1" r="4.75"/><circle cx="201.6" cy="528.3" r="4.75"/><circle cx="176.4" cy="525.4" r="4.75"/><circle cx="191.2" cy="527.5" r="4.75"/><circle cx="305.4" cy="526.7" r="4.75"/><circle cx="158.3" cy="525.6" r="4.75"/><circle cx="154.6" cy="525.7" r="4.75"/><circle cx="298.4" cy="525.2" r="4.75"/><circle cx="294.7" cy="525.6" r="4.75"/><circle cx="290" cy="524.4" r="4.75"/><circle cx="283.6" cy="524.5" r="4.75"/><circle cx="277.6" cy="525.2" r="4.75"/><circle cx="276.5" cy="525.8" r="4.75"/><circle cx="271.2" cy="525" r="4.75"/><circle cx="265.9" cy="524.7" r="4.75"/><circle cx="262.1" cy="521.5" r="4.75"/><circle cx="259.1" cy="520.9" r="4.75"/><circle cx="255.3" cy="519" r="4.75"/><circle cx="247.8" cy="520.1" r="4.75"/><circle cx="244.1" cy="519.7" r="4.75"/><circle cx="240.4" cy="520.1" r="4.75"/><circle cx="236.7" cy="522.1" r="4.75"/><circle cx="231.4" cy="523.7" r="4.75"/><circle cx="231.6" cy="525.2" r="4.75"/><circle cx="223" cy="524.7" r="4.75"/><circle cx="218.2" cy="524.8" r="4.75"/><circle cx="213.7" cy="526.8" r="4.75"/><circle cx="206.5" cy="525.8" r="4.75"/><circle cx="205" cy="525" r="4.75"/><circle cx="199.9" cy="525.2" r="4.75"/><circle cx="195.4" cy="522.8" r="4.75"/><circle cx="196" cy="520.9" r="4.75"/><circle cx="188.6" cy="520.1" r="4.75"/><circle cx="184.4" cy="519.7" r="4.75"/><circle cx="180.6" cy="520.5" r="4.75"/><circle cx="178.6" cy="520.9" r="4.75"/><circle cx="174.1" cy="522.6" r="4.75"/><circle cx="173.8" cy="524" r="4.75"/><circle cx="170.4" cy="525.6" r="4.75"/><circle cx="162.9" cy="524.3" r="4.75"/><circle cx="157.5" cy="523.6" r="4.75"/><circle cx="155.2" cy="521.5" r="4.75"/><circle cx="153.9" cy="521.1" r="4.75"/><circle cx="148.4" cy="521.2" r="4.75"/><circle cx="142.1" cy="523.1" r="4.75"/><circle cx="135.5" cy="523" r="4.75"/><circle cx="131.3" cy="523.6" r="4.75"/><circle cx="129.1" cy="523.3" r="4.75"/><circle cx="121.7" cy="520.5" r="4.75"/><circle cx="122.1" cy="514.1" r="4.75"/><circle cx="123.2" cy="510.7" r="4.75"/><circle cx="123.2" cy="509.9" r="4.75"/><circle cx="123.9" cy="499.9" r="4.75"/><circle cx="123" cy="490.6" r="4.75"/><circle cx="122.6" cy="489.7" r="4.75"/><circle cx="122" cy="485.7" r="4.75"/><circle cx="121.8" cy="481.6" r="4.75"/><circle cx="123.9" cy="473.3" r="4.75"/><circle cx="123.1" cy="471.4" r="4.75"/><circle cx="121.7" cy="468" r="4.75"/><circle cx="122.6" cy="457.9" r="4.75"/><circle cx="121.8" cy="450.6" r="4.75"/><circle cx="122.7" cy="438.6" r="4.75"/><circle cx="125.8" cy="436.8" r="4.75"/><circle cx="127" cy="436.2" r="4.75"/><circle cx="132" cy="436.2" r="4.75"/><circle cx="136.7" cy="435.1" r="4.75"/><circle cx="145.9" cy="434.1" r="4.75"/><circle cx="147.7" cy="434.7" r="4.75"/><circle cx="154.2" cy="436.6" r="4.75"/><circle cx="161" cy="435.8" r="4.75"/><circle cx="162.3" cy="435.9" r="4.75"/><circle cx="168.4" cy="436.2" r="4.75"/><circle cx="176" cy="434.9" r="4.75"/><circle cx="177.3" cy="435.5" r="4.75"/><circle cx="183.9" cy="435.2" r="4.75"/><circle cx="187.3" cy="435.4" r="4.75"/><circle cx="194.8" cy="436.5" r="4.75"/><circle cx="199.5" cy="435.8" r="4.75"/><circle cx="202" cy="435.8" r="4.75"/><circle cx="209.6" cy="434.4" r="4.75"/><circle cx="211" cy="433.3" r="4.75"/><circle cx="220.8" cy="433.4" r="4.75"/><circle cx="221.8" cy="434.8" r="4.75"/><circle cx="227" cy="434.1" r="4.75"/><circle cx="233.4" cy="435.2" r="4.75"/><circle cx="238.5" cy="433.3" r="4.75"/><circle cx="246.1" cy="434" r="4.75"/><circle cx="247.2" cy="432.7" r="4.75"/><circle cx="255" cy="433.5" r="4.75"/><circle cx="256.8" cy="434.9" r="4.75"/><circle cx="265.1" cy="435.1" r="4.75"/><circle cx="267.8" cy="434.4" r="4.75"/><circle cx="275.2" cy="435.7" r="4.75"/><circle cx="277.5" cy="435.9" r="4.75"/><circle cx="281.9" cy="436.1" r="4.75"/><circle cx="289.1" cy="437" r="4.75"/><circle cx="294.7" cy="435.9" r="4.75"/><circle cx="298.4" cy="437.4" r="4.75"/><circle cx="305.1" cy="436.9" r="4.75"/><circle cx="308.1" cy="436.8" r="4.75"/><circle cx="308" cy="437.2" r="4.75"/><circle cx="308.5" cy="439.7" r="4.75"/><circle cx="308.4" cy="442.6" r="4.75"/><circle cx="307.9" cy="444.1" r="4.75"/><circle cx="307.1" cy="445.8" r="4.75"/><circle cx="307.1" cy="447.6" r="4.75"/><circle cx="309.3" cy="451.4" r="4.75"/><circle cx="307.5" cy="454.9" r="4.75"/><circle cx="309.1" cy="456.6" r="4.75"/><circle cx="308.7" cy="467.8" r="4.75"/><circle cx="307.7" cy="469" r="4.75"/><circle cx="307.8" cy="473.4" r="4.75"/><circle cx="308.2" cy="479.4" r="4.75"/><circle cx="309.2" cy="481.4" r="4.75"/><circle cx="309.2" cy="483.2" r="4.75"/><circle cx="308.7" cy="491.4" r="4.75"/><circle cx="308.9" cy="492.8" r="4.75"/><circle cx="308.3" cy="498.8" r="4.75"/><circle cx="309" cy="500.9" r="4.75"/><circle cx="307.1" cy="502.8" r="4.75"/><circle cx="308.1" cy="505.3" r="4.75"/><circle cx="308.6" cy="513.5" r="4.75"/><circle cx="307.7" cy="516.6" r="4.75"/><circle cx="309.1" cy="524.8" r="4.75"/></g>
</g>
<clipPath id="c030"><rect x="798.8" y="114" width="202.9" height="126.1"/></clipPath>
<g clip-path="url(#c030)">
<path d="M928.5 116.5 927.3 114.7 925.4 113.4 923.2 113 810.2 113 807.9 113.4 806 114.8 804.6 117.4 804.3 119.6 804.8 121.7 806 123.5 808.8 124.8 809.5 126.2 813.6 128.6 814.9 130.8 815.1 132.2 814.7 133.9 810.8 140.5 816.7 157.2 816.6 158.5 815.9 160.1 810.7 165.5 810.3 166.3 810.4 173.6 814.4 179.2 815.1 181.4 814.6 183.5 811.7 188.5 813.5 194.5 810.7 203.8 813.2 210.2 813.5 212 811.6 217.5 813.5 222.6 813 229.8 811.4 230.9 810.1 232.8 809.7 235 810.2 237.2 811.8 239.6 813.6 240.8 815.7 241.2 914.7 241.2 916.8 240.8 918.6 239.7 919.9 238 920.5 235.4 920.2 233 919 231 916.4 229.5 914.9 220.3 914.9 203.5 915.9 201.1 921.6 195 922.8 184.6 921.3 171.7 924.4 149.7 922.9 136.2 924.3 124.8 925.4 124.6 927.3 123.4 928.5 121.5 929 119.3Z"/>
<g class="r"><circle cx="941.8" cy="119.5" r="4.75"/><circle cx="950.6" cy="122.1" r="4.75"/><circle cx="946.6" cy="120" r="4.75"/><circle cx="940.2" cy="133.6" r="4.75"/><circle cx="962.6" cy="133.1" r="4.75"/><circle cx="959.4" cy="146.4" r="4.75"/><circle cx="957" cy="146.4" r="4.75"/><circle cx="978.2" cy="146.5" r="4.75"/><circle cx="941" cy="140" r="4.75"/><circle cx="943.4" cy="151.2" r="4.75"/><circle cx="941.8" cy="157.6" r="4.75"/><circle cx="955.7" cy="160.3" r="4.75"/><circle cx="950.6" cy="162.4" r="4.75"/><circle cx="941" cy="163.2" r="4.75"/><circle cx="935.4" cy="171.6" r="4.75"/><circle cx="947.4" cy="181.2" r="4.75"/><circle cx="935.4" cy="184.8" r="4.75"/><circle cx="938.6" cy="188" r="4.75"/><circle cx="956.8" cy="194.2" r="4.75"/><circle cx="941.8" cy="196.4" r="4.75"/><circle cx="970.2" cy="202.7" r="4.75"/><circle cx="937.8" cy="204.7" r="4.75"/><circle cx="945.8" cy="207.5" r="4.75"/><circle cx="941" cy="213.5" r="4.75"/><circle cx="950.6" cy="218" r="4.75"/><circle cx="994.1" cy="224.9" r="4.75"/><circle cx="935.4" cy="232.7" r="4.75"/><circle cx="939.4" cy="233.5" r="4.75"/><circle cx="943.4" cy="234.3" r="4.75"/><circle cx="930.6" cy="232.7" r="4.75"/><circle cx="932.2" cy="127.2" r="4.75"/><circle cx="929" cy="120" r="4.75"/><circle cx="933.8" cy="156" r="4.75"/><circle cx="930.6" cy="162.4" r="4.75"/><circle cx="929" cy="178.4" r="4.75"/><circle cx="932.2" cy="191.2" r="4.75"/><circle cx="929" cy="208.7" r="4.75"/><circle cx="933.8" cy="219.9" r="4.75"/><circle cx="930.6" cy="226.3" r="4.75"/><circle cx="806.3" cy="217.5" r="4.75"/><circle cx="807.7" cy="188" r="4.75"/><circle cx="809" cy="204.7" r="4.75"/><circle cx="811.9" cy="231.9" r="4.75"/><circle cx="807.4" cy="121.6" r="4.75"/><circle cx="809" cy="141.6" r="4.75"/><circle cx="925.8" cy="183.8" r="4.75"/><circle cx="928.7" cy="183.1" r="4.75"/><circle cx="926.6" cy="188.6" r="4.75"/><circle cx="927.5" cy="172" r="4.75"/><circle cx="923.2" cy="118.7" r="4.75"/><circle cx="922.3" cy="144.4" r="4.75"/><circle cx="922" cy="183.9" r="4.75"/><circle cx="926.3" cy="166.6" r="4.75"/><circle cx="927" cy="171" r="4.75"/><circle cx="925.7" cy="118.7" r="4.75"/><circle cx="928.6" cy="176.6" r="4.75"/><circle cx="925.8" cy="158.9" r="4.75"/><circle cx="927.3" cy="119.9" r="4.75"/><circle cx="928" cy="135.4" r="4.75"/><circle cx="921.7" cy="136.5" r="4.75"/><circle cx="928" cy="131.5" r="4.75"/><circle cx="928.1" cy="195.5" r="4.75"/><circle cx="925.7" cy="146.2" r="4.75"/><circle cx="925.6" cy="171.2" r="4.75"/><circle cx="928.3" cy="165.7" r="4.75"/><circle cx="927.1" cy="120.8" r="4.75"/><circle cx="922.4" cy="135.5" r="4.75"/><circle cx="928.1" cy="139.7" r="4.75"/><circle cx="926.4" cy="118.7" r="4.75"/><circle cx="921.6" cy="136.7" r="4.75"/><circle cx="927.4" cy="172" r="4.75"/><circle cx="927.5" cy="138.6" r="4.75"/><circle cx="925.9" cy="153" r="4.75"/><circle cx="925.5" cy="124.3" r="4.75"/><circle cx="929.6" cy="131" r="4.75"/><circle cx="930.4" cy="192.2" r="4.75"/><circle cx="921.1" cy="152.6" r="4.75"/><circle cx="928.8" cy="194.9" r="4.75"/><circle cx="925.3" cy="136.7" r="4.75"/><circle cx="923" cy="193" r="4.75"/><circle cx="923" cy="162.7" r="4.75"/><circle cx="922.3" cy="158" r="4.75"/><circle cx="930.1" cy="125.4" r="4.75"/><circle cx="928.8" cy="156.7" r="4.75"/><circle cx="929.5" cy="172.9" r="4.75"/><circle cx="923.2" cy="189" r="4.75"/><circle cx="925.6" cy="118.7" r="4.75"/><circle cx="921" cy="155.3" r="4.75"/><circle cx="925.3" cy="139.5" r="4.75"/><circle cx="922.3" cy="143" r="4.75"/><circle cx="924" cy="184.3" r="4.75"/><circle cx="921" cy="176.8" r="4.75"/><circle cx="929" cy="124.4" r="4.75"/><circle cx="929.9" cy="173.7" r="4.75"/><circle cx="929.6" cy="138.5" r="4.75"/><circle cx="924.5" cy="147.1" r="4.75"/><circle cx="930.6" cy="163.4" r="4.75"/><circle cx="924.4" cy="150" r="4.75"/><circle cx="923.6" cy="118.7" r="4.75"/><circle cx="922" cy="183.8" r="4.75"/><circle cx="923.7" cy="192.2" r="4.75"/><circle cx="923.4" cy="136.5" r="4.75"/><circle cx="925.9" cy="130.2" r="4.75"/><circle cx="924.6" cy="193.9" r="4.75"/><circle cx="929.5" cy="181.9" r="4.75"/><circle cx="922.7" cy="235.5" r="4.75"/><circle cx="926.6" cy="221.1" r="4.75"/><circle cx="923.8" cy="199.7" r="4.75"/><circle cx="923.9" cy="216.9" r="4.75"/><circle cx="924.2" cy="225.2" r="4.75"/><circle cx="918.2" cy="199.6" r="4.75"/><circle cx="926.4" cy="203" r="4.75"/><circle cx="920.6" cy="212.3" r="4.75"/><circle cx="918.4" cy="229.2" r="4.75"/><circle cx="927.1" cy="208.7" r="4.75"/><circle cx="923" cy="210.4" r="4.75"/><circle cx="921.7" cy="214.4" r="4.75"/><circle cx="916.7" cy="204.5" r="4.75"/><circle cx="917.2" cy="235.5" r="4.75"/><circle cx="920.9" cy="207" r="4.75"/><circle cx="926.2" cy="235.5" r="4.75"/><circle cx="920.3" cy="203.5" r="4.75"/><circle cx="917" cy="201.4" r="4.75"/><circle cx="919" cy="201.5" r="4.75"/><circle cx="917.6" cy="208.6" r="4.75"/><circle cx="921.9" cy="235.5" r="4.75"/><circle cx="924.2" cy="215.2" r="4.75"/><circle cx="919.9" cy="220" r="4.75"/><circle cx="919.4" cy="212" r="4.75"/><circle cx="915.4" cy="209.4" r="4.75"/><circle cx="927" cy="202.9" r="4.75"/><circle cx="921" cy="224.5" r="4.75"/><circle cx="925.6" cy="206.8" r="4.75"/><circle cx="918" cy="208.2" r="4.75"/><circle cx="919.7" cy="216.7" r="4.75"/><circle cx="926.8" cy="233.9" r="4.75"/><circle cx="925.7" cy="198.5" r="4.75"/><circle cx="915" cy="228" r="4.75"/><circle cx="926" cy="217.8" r="4.75"/><circle cx="922.1" cy="197.6" r="4.75"/><circle cx="919.6" cy="235.5" r="4.75"/><circle cx="925.1" cy="234.2" r="4.75"/><circle cx="927" cy="208.2" r="4.75"/><circle cx="916" cy="204.2" r="4.75"/><circle cx="921.3" cy="226.8" r="4.75"/><circle cx="935.1" cy="210.8" r="4.75"/><circle cx="932.9" cy="183.9" r="4.75"/><circle cx="930.2" cy="230.3" r="4.75"/><circle cx="935.1" cy="152.7" r="4.75"/><circle cx="935" cy="202.4" r="4.75"/><circle cx="933.7" cy="187.8" r="4.75"/><circle cx="932" cy="142.6" r="4.75"/><circle cx="934.6" cy="118.7" r="4.75"/><circle cx="931" cy="172.4" r="4.75"/><circle cx="938" cy="174.3" r="4.75"/><circle cx="930.2" cy="145.5" r="4.75"/><circle cx="931.1" cy="118.7" r="4.75"/><circle cx="933.4" cy="199.4" r="4.75"/><circle cx="932.4" cy="146.8" r="4.75"/><circle cx="935.4" cy="231" r="4.75"/><circle cx="931.4" cy="167.4" r="4.75"/><circle cx="935.6" cy="139.4" r="4.75"/><circle cx="936.9" cy="207.5" r="4.75"/><circle cx="933.4" cy="140.3" r="4.75"/><circle cx="937.2" cy="143.5" r="4.75"/><circle cx="930" cy="210.2" r="4.75"/><circle cx="930.9" cy="234.3" r="4.75"/><circle cx="933.3" cy="138" r="4.75"/><circle cx="930.1" cy="166.9" r="4.75"/><circle cx="935.4" cy="233.9" r="4.75"/><circle cx="929.9" cy="235.5" r="4.75"/><circle cx="936.2" cy="235.5" r="4.75"/><circle cx="938.6" cy="155.9" r="4.75"/><circle cx="929.6" cy="232.3" r="4.75"/><circle cx="936.3" cy="118.7" r="4.75"/><circle cx="935.3" cy="162.1" r="4.75"/><circle cx="931.9" cy="156.2" r="4.75"/><circle cx="930.7" cy="158.7" r="4.75"/><circle cx="938.8" cy="130" r="4.75"/><circle cx="938.9" cy="140.5" r="4.75"/><circle cx="931.7" cy="217.9" r="4.75"/><circle cx="937.2" cy="168.9" r="4.75"/><circle cx="931.8" cy="230.3" r="4.75"/><circle cx="809.9" cy="121.7" r="4.75"/><circle cx="812.7" cy="124.9" r="4.75"/><circle cx="812.9" cy="127.7" r="4.75"/><circle cx="817.4" cy="129.9" r="4.75"/><circle cx="817.6" cy="130.9" r="4.75"/><circle cx="815.1" cy="137" r="4.75"/><circle cx="812.1" cy="138.3" r="4.75"/><circle cx="812.8" cy="140.5" r="4.75"/><circle cx="813.4" cy="145.6" r="4.75"/><circle cx="813.4" cy="146.6" r="4.75"/><circle cx="815.8" cy="149.3" r="4.75"/><circle cx="815.3" cy="151.9" r="4.75"/><circle cx="817.5" cy="157.3" r="4.75"/><circle cx="818.3" cy="161.3" r="4.75"/><circle cx="816.7" cy="161.3" r="4.75"/><circle cx="811.8" cy="164.2" r="4.75"/><circle cx="812.4" cy="166.5" r="4.75"/><circle cx="811.6" cy="169.4" r="4.75"/><circle cx="812.9" cy="173.4" r="4.75"/><circle cx="813.2" cy="176.7" r="4.75"/><circle cx="814.9" cy="179.2" r="4.75"/><circle cx="816.9" cy="181.3" r="4.75"/><circle cx="816.4" cy="183.7" r="4.75"/><circle cx="814.7" cy="188.2" r="4.75"/><circle cx="812.3" cy="189" r="4.75"/><circle cx="815.4" cy="191.4" r="4.75"/><circle cx="814.6" cy="194.3" r="4.75"/><circle cx="812.4" cy="197.8" r="4.75"/><circle cx="810.8" cy="202.5" r="4.75"/><circle cx="813.2" cy="203.7" r="4.75"/><circle cx="813.1" cy="206.6" r="4.75"/><circle cx="814.9" cy="211.5" r="4.75"/><circle cx="814.9" cy="213.2" r="4.75"/><circle cx="812.4" cy="217.2" r="4.75"/><circle cx="813.2" cy="221" r="4.75"/><circle cx="815.9" cy="223.5" r="4.75"/><circle cx="815" cy="227.2" r="4.75"/><circle cx="814.6" cy="229.5" r="4.75"/><circle cx="815.5" cy="232.7" r="4.75"/><circle cx="816" cy="234.3" r="4.75"/><circle cx="822.2" cy="235" r="4.75"/><circle cx="828.4" cy="234.7" r="4.75"/><circle cx="836.3" cy="234.3" r="4.75"/><circle cx="842.9" cy="234.9" r="4.75"/><circle cx="846.4" cy="234.6" r="4.75"/><circle cx="855.3" cy="235.1" r="4.75"/><circle cx="858.3" cy="235.3" r="4.75"/><circle cx="865" cy="234.3" r="4.75"/><circle cx="869.1" cy="235.1" r="4.75"/><circle cx="872" cy="234.6" r="4.75"/><circle cx="880.1" cy="234.6" r="4.75"/><circle cx="881.2" cy="235" r="4.75"/><circle cx="886.5" cy="234.5" r="4.75"/><circle cx="888.6" cy="234.6" r="4.75"/><circle cx="894.2" cy="234.3" r="4.75"/><circle cx="902.4" cy="234.3" r="4.75"/><circle cx="908.1" cy="234.8" r="4.75"/><circle cx="914.7" cy="232.7" r="4.75"/><circle cx="916.3" cy="227.7" r="4.75"/><circle cx="913.7" cy="226.5" r="4.75"/><circle cx="913" cy="222.2" r="4.75"/><circle cx="914.9" cy="221" r="4.75"/><circle cx="914.6" cy="216.6" r="4.75"/><circle cx="914.8" cy="213.5" r="4.75"/><circle cx="912.6" cy="210.1" r="4.75"/><circle cx="913.8" cy="208.3" r="4.75"/><circle cx="914.9" cy="203.3" r="4.75"/><circle cx="914.4" cy="201.9" r="4.75"/><circle cx="916.6" cy="198.6" r="4.75"/><circle cx="917.9" cy="196.4" r="4.75"/><circle cx="921.8" cy="193.4" r="4.75"/><circle cx="920.7" cy="191.4" r="4.75"/><circle cx="922.8" cy="186.2" r="4.75"/><circle cx="920.5" cy="184.9" r="4.75"/><circle cx="922.3" cy="179" r="4.75"/><circle cx="919.3" cy="177.6" r="4.75"/><circle cx="919.8" cy="172.9" r="4.75"/><circle cx="920.6" cy="169.8" r="4.75"/><circle cx="919.7" cy="166.7" r="4.75"/><circle cx="920.3" cy="163.7" r="4.75"/><circle cx="922.4" cy="162" r="4.75"/><circle cx="921.1" cy="157.2" r="4.75"/><circle cx="921.9" cy="156.1" r="4.75"/><circle cx="922.5" cy="152" r="4.75"/><circle cx="922.3" cy="150" r="4.75"/><circle cx="923.8" cy="144.9" r="4.75"/><circle cx="922.7" cy="144" r="4.75"/><circle cx="920.4" cy="138.7" r="4.75"/><circle cx="920.7" cy="135" r="4.75"/><circle cx="922.2" cy="132.7" r="4.75"/><circle cx="921.9" cy="129.4" r="4.75"/><circle cx="923.1" cy="126.9" r="4.75"/><circle cx="923.7" cy="123.7" r="4.75"/><circle cx="923" cy="120.5" r="4.75"/><circle cx="918.4" cy="119.5" r="4.75"/><circle cx="912.1" cy="119.7" r="4.75"/><circle cx="908.9" cy="119.9" r="4.75"/><circle cx="906.8" cy="118.9" r="4.75"/><circle cx="903.7" cy="118.9" r="4.75"/><circle cx="899.2" cy="120.1" r="4.75"/><circle cx="895.6" cy="120" r="4.75"/><circle cx="889.5" cy="120.1" r="4.75"/><circle cx="886.4" cy="119.1" r="4.75"/><circle cx="881.7" cy="119.8" r="4.75"/><circle cx="865.9" cy="119.7" r="4.75"/><circle cx="862.2" cy="119.2" r="4.75"/><circle cx="856.8" cy="119.7" r="4.75"/><circle cx="853.1" cy="119.4" r="4.75"/><circle cx="850.2" cy="119.8" r="4.75"/><circle cx="845.7" cy="119.4" r="4.75"/><circle cx="841.6" cy="119.3" r="4.75"/><circle cx="839.9" cy="119.7" r="4.75"/><circle cx="822" cy="119.1" r="4.75"/><circle cx="810.2" cy="119.8" r="4.75"/></g>
</g>
<clipPath id="c031"><rect x="114" y="568.4" width="202.9" height="126.1"/></clipPath>
<g clip-path="url(#c031)">
<path d="M308.5 611.4 306.3 611.9 304.4 613.1 303.2 615 303 615.9 280.7 616.9 259.8 616 224.2 617.9 203.1 616.9 186.8 617.7 177.8 621.1 173.2 621.9 145.9 621.9 128 621 126.5 618.3 124.6 617.1 122.3 616.7 119.2 617.2 117.4 618.5 116.2 620.3 115.8 622.5 115.8 684 116.2 685.9 117.2 687.7 118.7 689 121.5 689.8 124 689.7 126.2 688.5 127.8 686.3 140.7 685.9 144.1 686 150.2 687 156.8 686 161 685.9 172.8 687.6 187.5 685.8 197.3 686.9 204.5 685.2 208.7 684.8 212.8 685.3 221.7 687.8 232.8 687.8 241.4 684.6 246 683.9 249.4 684 274 687.5 284.4 685.2 288.6 684.9 294 685.7 299.1 688.7 303 689 303.2 689.9 304.7 691.9 306.8 693 309.2 693.2 312.2 692.5 313.8 691.2 314.8 689.4 315.2 687.4 315.2 617.2 314.8 615 313.5 613.1 311.6 611.9Z"/>
<g class="r"><circle cx="308.2" cy="605.6" r="4.75"/><circle cx="304" cy="600.2" r="4.75"/><circle cx="307.4" cy="602.7" r="4.75"/><circle cx="285.5" cy="606.6" r="4.75"/><circle cx="286.3" cy="592.7" r="4.75"/><circle cx="264.9" cy="594.7" r="4.75"/><circle cx="264.9" cy="596.2" r="4.75"/><circle cx="264.7" cy="583" r="4.75"/><circle cx="275.2" cy="606.1" r="4.75"/><circle cx="257.2" cy="604.6" r="4.75"/><circle cx="246.9" cy="605.6" r="4.75"/><circle cx="242.6" cy="597" r="4.75"/><circle cx="239.2" cy="600.2" r="4.75"/><circle cx="237.9" cy="606.1" r="4.75"/><circle cx="224.3" cy="609.6" r="4.75"/><circle cx="208.8" cy="602.2" r="4.75"/><circle cx="203.2" cy="609.6" r="4.75"/><circle cx="198" cy="607.6" r="4.75"/><circle cx="188" cy="596.3" r="4.75"/><circle cx="184.4" cy="605.6" r="4.75"/><circle cx="174.4" cy="587.9" r="4.75"/><circle cx="171" cy="608.1" r="4.75"/><circle cx="166.6" cy="603.2" r="4.75"/><circle cx="156.9" cy="606.1" r="4.75"/><circle cx="149.7" cy="600.2" r="4.75"/><circle cx="138.6" cy="573.1" r="4.75"/><circle cx="126" cy="609.6" r="4.75"/><circle cx="124.7" cy="607.1" r="4.75"/><circle cx="123.4" cy="604.6" r="4.75"/><circle cx="126" cy="612.6" r="4.75"/><circle cx="295.8" cy="611.6" r="4.75"/><circle cx="307.4" cy="613.6" r="4.75"/><circle cx="249.5" cy="610.6" r="4.75"/><circle cx="239.2" cy="612.6" r="4.75"/><circle cx="213.5" cy="613.6" r="4.75"/><circle cx="192.9" cy="611.6" r="4.75"/><circle cx="164.6" cy="613.6" r="4.75"/><circle cx="146.6" cy="610.6" r="4.75"/><circle cx="136.3" cy="612.6" r="4.75"/><circle cx="150.4" cy="689.8" r="4.75"/><circle cx="198" cy="689" r="4.75"/><circle cx="171" cy="688.2" r="4.75"/><circle cx="127.3" cy="686.4" r="4.75"/><circle cx="304.8" cy="689.2" r="4.75"/><circle cx="272.7" cy="688.2" r="4.75"/><circle cx="204.7" cy="615.6" r="4.75"/><circle cx="205.8" cy="613.8" r="4.75"/><circle cx="196.9" cy="615.1" r="4.75"/><circle cx="223.6" cy="614.5" r="4.75"/><circle cx="309.4" cy="617.2" r="4.75"/><circle cx="268.1" cy="617.8" r="4.75"/><circle cx="204.6" cy="617.9" r="4.75"/><circle cx="232.4" cy="615.2" r="4.75"/><circle cx="225.3" cy="614.8" r="4.75"/><circle cx="309.4" cy="615.6" r="4.75"/><circle cx="216.3" cy="613.8" r="4.75"/><circle cx="244.8" cy="615.6" r="4.75"/><circle cx="307.6" cy="614.6" r="4.75"/><circle cx="282.7" cy="614.2" r="4.75"/><circle cx="280.9" cy="618.1" r="4.75"/><circle cx="288.9" cy="614.2" r="4.75"/><circle cx="185.8" cy="614.2" r="4.75"/><circle cx="265.2" cy="615.6" r="4.75"/><circle cx="224.9" cy="615.7" r="4.75"/><circle cx="233.8" cy="614" r="4.75"/><circle cx="306" cy="614.7" r="4.75"/><circle cx="282.4" cy="617.7" r="4.75"/><circle cx="275.7" cy="614.1" r="4.75"/><circle cx="309.4" cy="615.2" r="4.75"/><circle cx="280.4" cy="618.2" r="4.75"/><circle cx="223.8" cy="614.6" r="4.75"/><circle cx="277.5" cy="614.5" r="4.75"/><circle cx="254.2" cy="615.5" r="4.75"/><circle cx="300.5" cy="615.8" r="4.75"/><circle cx="289.7" cy="613.2" r="4.75"/><circle cx="191.1" cy="612.7" r="4.75"/><circle cx="255" cy="618.5" r="4.75"/><circle cx="186.9" cy="613.7" r="4.75"/><circle cx="280.4" cy="615.9" r="4.75"/><circle cx="189.9" cy="617.3" r="4.75"/><circle cx="238.6" cy="617.3" r="4.75"/><circle cx="246.3" cy="617.7" r="4.75"/><circle cx="298.7" cy="612.9" r="4.75"/><circle cx="248.3" cy="613.7" r="4.75"/><circle cx="222.3" cy="613.3" r="4.75"/><circle cx="196.3" cy="617.2" r="4.75"/><circle cx="309.4" cy="615.7" r="4.75"/><circle cx="250.6" cy="618.5" r="4.75"/><circle cx="276" cy="615.9" r="4.75"/><circle cx="270.4" cy="617.7" r="4.75"/><circle cx="204" cy="616.7" r="4.75"/><circle cx="216" cy="618.6" r="4.75"/><circle cx="300.3" cy="613.6" r="4.75"/><circle cx="221" cy="613" r="4.75"/><circle cx="277.6" cy="613.2" r="4.75"/><circle cx="263.8" cy="616.3" r="4.75"/><circle cx="237.6" cy="612.6" r="4.75"/><circle cx="259.1" cy="616.4" r="4.75"/><circle cx="309.4" cy="616.9" r="4.75"/><circle cx="204.7" cy="618" r="4.75"/><circle cx="191.2" cy="616.9" r="4.75"/><circle cx="280.8" cy="617.1" r="4.75"/><circle cx="291" cy="615.5" r="4.75"/><circle cx="188.5" cy="616.3" r="4.75"/><circle cx="207.8" cy="613.3" r="4.75"/><circle cx="121.6" cy="617.5" r="4.75"/><circle cx="144.7" cy="615.1" r="4.75"/><circle cx="179.2" cy="616.8" r="4.75"/><circle cx="151.5" cy="616.7" r="4.75"/><circle cx="138.2" cy="616.6" r="4.75"/><circle cx="179.2" cy="620.3" r="4.75"/><circle cx="173.8" cy="615.2" r="4.75"/><circle cx="158.9" cy="618.8" r="4.75"/><circle cx="131.6" cy="620.2" r="4.75"/><circle cx="164.7" cy="614.8" r="4.75"/><circle cx="161.9" cy="617.3" r="4.75"/><circle cx="155.4" cy="618.1" r="4.75"/><circle cx="171.5" cy="621.2" r="4.75"/><circle cx="121.6" cy="620.9" r="4.75"/><circle cx="167.4" cy="618.6" r="4.75"/><circle cx="121.6" cy="615.3" r="4.75"/><circle cx="173" cy="619" r="4.75"/><circle cx="176.3" cy="621" r="4.75"/><circle cx="176.3" cy="619.8" r="4.75"/><circle cx="164.8" cy="620.6" r="4.75"/><circle cx="121.6" cy="618" r="4.75"/><circle cx="154.1" cy="616.6" r="4.75"/><circle cx="146.5" cy="619.3" r="4.75"/><circle cx="159.3" cy="619.5" r="4.75"/><circle cx="163.5" cy="622.1" r="4.75"/><circle cx="173.9" cy="614.8" r="4.75"/><circle cx="139.2" cy="618.5" r="4.75"/><circle cx="167.7" cy="615.7" r="4.75"/><circle cx="165.5" cy="620.4" r="4.75"/><circle cx="151.9" cy="619.4" r="4.75"/><circle cx="124.1" cy="615" r="4.75"/><circle cx="181.1" cy="615.6" r="4.75"/><circle cx="133.7" cy="622.3" r="4.75"/><circle cx="150" cy="615.4" r="4.75"/><circle cx="182.6" cy="617.9" r="4.75"/><circle cx="121.6" cy="619.4" r="4.75"/><circle cx="123.6" cy="616" r="4.75"/><circle cx="165.5" cy="614.8" r="4.75"/><circle cx="172" cy="621.7" r="4.75"/><circle cx="135.6" cy="618.4" r="4.75"/><circle cx="161.3" cy="609.8" r="4.75"/><circle cx="204.6" cy="611.2" r="4.75"/><circle cx="129.9" cy="612.9" r="4.75"/><circle cx="254.8" cy="609.8" r="4.75"/><circle cx="174.8" cy="609.8" r="4.75"/><circle cx="198.2" cy="610.7" r="4.75"/><circle cx="271.1" cy="611.7" r="4.75"/><circle cx="309.4" cy="610.1" r="4.75"/><circle cx="223" cy="612.3" r="4.75"/><circle cx="220" cy="608" r="4.75"/><circle cx="266.3" cy="612.8" r="4.75"/><circle cx="309.4" cy="612.3" r="4.75"/><circle cx="179.6" cy="610.9" r="4.75"/><circle cx="264.2" cy="611.5" r="4.75"/><circle cx="128.8" cy="609.6" r="4.75"/><circle cx="231.1" cy="612.1" r="4.75"/><circle cx="276.2" cy="609.5" r="4.75"/><circle cx="166.5" cy="608.6" r="4.75"/><circle cx="274.8" cy="610.8" r="4.75"/><circle cx="269.6" cy="608.5" r="4.75"/><circle cx="162.2" cy="612.9" r="4.75"/><circle cx="123.4" cy="612.4" r="4.75"/><circle cx="278.4" cy="610.9" r="4.75"/><circle cx="231.8" cy="612.9" r="4.75"/><circle cx="124" cy="609.6" r="4.75"/><circle cx="121.6" cy="613" r="4.75"/><circle cx="121.6" cy="609.1" r="4.75"/><circle cx="249.6" cy="607.6" r="4.75"/><circle cx="126.6" cy="613.2" r="4.75"/><circle cx="309.4" cy="609" r="4.75"/><circle cx="239.6" cy="609.6" r="4.75"/><circle cx="249.1" cy="611.8" r="4.75"/><circle cx="245.1" cy="612.5" r="4.75"/><circle cx="291.3" cy="607.5" r="4.75"/><circle cx="274.3" cy="607.4" r="4.75"/><circle cx="149.8" cy="611.9" r="4.75"/><circle cx="228.7" cy="608.5" r="4.75"/><circle cx="130" cy="611.8" r="4.75"/><circle cx="304.6" cy="687.6" r="4.75"/><circle cx="299.5" cy="685.9" r="4.75"/><circle cx="294.9" cy="685.7" r="4.75"/><circle cx="291.5" cy="682.9" r="4.75"/><circle cx="289.8" cy="682.8" r="4.75"/><circle cx="280" cy="684.4" r="4.75"/><circle cx="277.9" cy="686.2" r="4.75"/><circle cx="274.4" cy="685.8" r="4.75"/><circle cx="266.2" cy="685.5" r="4.75"/><circle cx="264.6" cy="685.4" r="4.75"/><circle cx="260.3" cy="683.9" r="4.75"/><circle cx="256.1" cy="684.3" r="4.75"/><circle cx="247.3" cy="682.9" r="4.75"/><circle cx="241" cy="682.4" r="4.75"/><circle cx="240.9" cy="683.4" r="4.75"/><circle cx="236.3" cy="686.4" r="4.75"/><circle cx="232.6" cy="686" r="4.75"/><circle cx="227.9" cy="686.6" r="4.75"/><circle cx="221.4" cy="685.8" r="4.75"/><circle cx="216.2" cy="685.5" r="4.75"/><circle cx="212.1" cy="684.5" r="4.75"/><circle cx="208.8" cy="683.3" r="4.75"/><circle cx="204.9" cy="683.6" r="4.75"/><circle cx="197.6" cy="684.6" r="4.75"/><circle cx="196.4" cy="686.1" r="4.75"/><circle cx="192.5" cy="684.2" r="4.75"/><circle cx="187.9" cy="684.7" r="4.75"/><circle cx="182.2" cy="686.1" r="4.75"/><circle cx="174.6" cy="687.1" r="4.75"/><circle cx="172.7" cy="685.5" r="4.75"/><circle cx="168" cy="685.6" r="4.75"/><circle cx="160.2" cy="684.5" r="4.75"/><circle cx="157.4" cy="684.5" r="4.75"/><circle cx="150.9" cy="686" r="4.75"/><circle cx="144.9" cy="685.6" r="4.75"/><circle cx="140.8" cy="683.9" r="4.75"/><circle cx="134.8" cy="684.4" r="4.75"/><circle cx="131.1" cy="684.7" r="4.75"/><circle cx="126" cy="684.1" r="4.75"/><circle cx="123.5" cy="683.8" r="4.75"/><circle cx="122.4" cy="679.9" r="4.75"/><circle cx="122.9" cy="676.1" r="4.75"/><circle cx="123.5" cy="671.2" r="4.75"/><circle cx="122.6" cy="667.1" r="4.75"/><circle cx="123.1" cy="664.9" r="4.75"/><circle cx="122.2" cy="659.4" r="4.75"/><circle cx="121.8" cy="657.5" r="4.75"/><circle cx="123.5" cy="653.4" r="4.75"/><circle cx="122.2" cy="650.8" r="4.75"/><circle cx="123" cy="649" r="4.75"/><circle cx="123" cy="644" r="4.75"/><circle cx="122.4" cy="643.3" r="4.75"/><circle cx="123.1" cy="640" r="4.75"/><circle cx="123" cy="638.7" r="4.75"/><circle cx="123.5" cy="635.2" r="4.75"/><circle cx="123.5" cy="630.1" r="4.75"/><circle cx="122.6" cy="626.6" r="4.75"/><circle cx="126.1" cy="622.5" r="4.75"/><circle cx="134.2" cy="621.4" r="4.75"/><circle cx="136.1" cy="623.1" r="4.75"/><circle cx="143" cy="623.5" r="4.75"/><circle cx="144.9" cy="622.3" r="4.75"/><circle cx="151.9" cy="622.5" r="4.75"/><circle cx="157" cy="622.4" r="4.75"/><circle cx="162.4" cy="623.8" r="4.75"/><circle cx="165.3" cy="623" r="4.75"/><circle cx="173.3" cy="622.3" r="4.75"/><circle cx="175.6" cy="622.7" r="4.75"/><circle cx="180.9" cy="621.3" r="4.75"/><circle cx="184.5" cy="620.5" r="4.75"/><circle cx="189.3" cy="618.1" r="4.75"/><circle cx="192.5" cy="618.7" r="4.75"/><circle cx="200.9" cy="617.4" r="4.75"/><circle cx="203" cy="618.9" r="4.75"/><circle cx="212.4" cy="617.7" r="4.75"/><circle cx="214.6" cy="619.6" r="4.75"/><circle cx="222.2" cy="619.3" r="4.75"/><circle cx="227.2" cy="618.8" r="4.75"/><circle cx="232.2" cy="619.4" r="4.75"/><circle cx="237" cy="619" r="4.75"/><circle cx="239.8" cy="617.7" r="4.75"/><circle cx="247.5" cy="618.5" r="4.75"/><circle cx="249.3" cy="618" r="4.75"/><circle cx="256" cy="617.6" r="4.75"/><circle cx="259.1" cy="617.7" r="4.75"/><circle cx="267.4" cy="616.8" r="4.75"/><circle cx="268.8" cy="617.5" r="4.75"/><circle cx="277.3" cy="618.9" r="4.75"/><circle cx="283.3" cy="618.8" r="4.75"/><circle cx="286.9" cy="617.8" r="4.75"/><circle cx="292.3" cy="618" r="4.75"/><circle cx="296.2" cy="617.3" r="4.75"/><circle cx="301.4" cy="616.9" r="4.75"/><circle cx="306.7" cy="617.3" r="4.75"/><circle cx="308.2" cy="620.2" r="4.75"/><circle cx="307.9" cy="624.1" r="4.75"/><circle cx="307.5" cy="626.1" r="4.75"/><circle cx="309.1" cy="627.4" r="4.75"/><circle cx="309.2" cy="629.3" r="4.75"/><circle cx="307.2" cy="632.1" r="4.75"/><circle cx="307.4" cy="634.4" r="4.75"/><circle cx="307.3" cy="638.1" r="4.75"/><circle cx="308.8" cy="640.1" r="4.75"/><circle cx="307.7" cy="643" r="4.75"/><circle cx="307.8" cy="652.8" r="4.75"/><circle cx="308.7" cy="655.1" r="4.75"/><circle cx="307.8" cy="658.5" r="4.75"/><circle cx="308.4" cy="660.7" r="4.75"/><circle cx="307.7" cy="662.6" r="4.75"/><circle cx="308.3" cy="665.3" r="4.75"/><circle cx="308.6" cy="667.9" r="4.75"/><circle cx="307.9" cy="669" r="4.75"/><circle cx="308.8" cy="680.1" r="4.75"/><circle cx="307.7" cy="687.4" r="4.75"/></g>
</g>
<clipPath id="c040"><rect x="1027" y="114" width="202.9" height="126.1"/></clipPath>
<g clip-path="url(#c040)">
<path d="M1110.1 235.5 1110.6 237.7 1111.8 239.5 1113.7 240.8 1115.9 241.2 1222.4 241.2 1224.6 240.8 1226.5 239.5 1227.7 237.7 1228.2 235.5 1228.2 118.7 1227.7 116.5 1226.5 114.7 1224.6 113.4 1222.4 113 1115.9 113 1113.7 113.4 1111.8 114.7 1110.6 116.5 1110.1 118.7ZM1097.3 241.2 1099.5 240.8 1101.4 239.5 1102.6 237.7 1103 235.5 1103 118.7 1102.6 116.5 1101.4 114.7 1099.5 113.4 1097.3 113 1034.6 113 1032.4 113.4 1030.5 114.7 1029.2 116.5 1028.8 118.7 1028.8 235.5 1029.2 237.7 1030.5 239.5 1032.4 240.8 1034.6 241.2Z"/>
</g>
<clipPath id="c041"><rect x="114" y="719.8" width="202.9" height="126.1"/></clipPath>
<g clip-path="url(#c041)">
<path d="M115.5 802.3 115.5 841.3 116 843.6 117.3 845.6 119.2 846.9 121.6 847.3 309.4 847.3 311.8 846.9 313.7 845.6 315 843.6 315.5 841.3 315.5 802.3 315 800 313.7 798 311.8 796.7 310.8 796.5 311.8 796.3 313.7 795 315 793.1 315.5 790.7 315.5 724.5 315 722.2 313.7 720.2 311.8 718.9 309.4 718.5 121.6 718.5 119.2 718.9 117.3 720.2 116 722.2 115.5 724.5 115.5 790.7 116 793.1 117.3 795 119.2 796.3 120.2 796.5 119.2 796.7 117.3 798 116 800Z"/>
</g>
<clipPath id="c120"><rect x="570.5" y="265.5" width="202.9" height="126.1"/></clipPath>
<g clip-path="url(#c120)">
<path d="M591.5 382.2 598.1 384.7 613.1 385.3 645 385.8 676.7 385 692.4 383.5 732.8 377 740.2 379.3 745.1 378.7 755.9 376.4 765.8 373.8 766.9 371.1 766.9 366.1 765.5 363.2 762.8 360.9 760.8 358.6 756.7 358.8 755 358.4 753.4 357 751 353.5 748.1 351.8 743.7 351.6 742 351.1 740.6 349.9 739.3 347.5 738.5 346.8 737.5 346.7 734.6 348.9 731.8 349.1 727.6 347.9 722.6 344 717 342.6 715.8 341.9 714.6 340.5 714.2 339.3 713.3 331.2 712.5 328.3 709.4 327.2 708 326.2 707.1 324.7 706.5 322.3 705.6 321.1 702 321.2 700.4 320.7 696.2 316.2 689 312.6 688.2 312.5 684.8 314 682.1 313.6 678.2 311.5 674 306.9 670.8 305.7 667.2 306.4 663.7 308.8 661.5 309.3 659 308.3 656.7 305.2 655.8 305 653.4 307.4 651.5 308.4 649.3 308.3 646.4 307.2 644.9 307.4 642.7 311 638.1 314.1 634.8 317.4 633.3 325.2 632.2 327.1 629.9 328.4 626.3 328.3 625.2 329.4 623.7 337.9 622.7 339.8 616.4 346.9 610 352.4 604.5 354 602.1 356.5 597.9 363 592.9 366.7 591 372.9 589.9 379.7 590.1 380.7Z"/>
<g class="r"><circle cx="578.1" cy="379.9" r="4.75"/><circle cx="578.1" cy="366.3" r="4.75"/><circle cx="583.9" cy="362.3" r="4.75"/><circle cx="580.2" cy="370.3" r="4.75"/><circle cx="602.1" cy="354" r="4.75"/><circle cx="615.6" cy="336.8" r="4.75"/><circle cx="718.6" cy="318.4" r="4.75"/><circle cx="644.2" cy="307.2" r="4.75"/><circle cx="655.9" cy="304.3" r="4.75"/><circle cx="669.8" cy="305.9" r="4.75"/><circle cx="688.2" cy="312" r="4.75"/><circle cx="705.8" cy="320.8" r="4.75"/><circle cx="713.8" cy="327.2" r="4.75"/><circle cx="737.4" cy="345.6" r="4.75"/><circle cx="761.8" cy="357.9" r="4.75"/><circle cx="765.9" cy="363.9" r="4.75"/><circle cx="765.9" cy="370.3" r="4.75"/><circle cx="765.9" cy="374.3" r="4.75"/><circle cx="741" cy="380.7" r="4.75"/><circle cx="755.4" cy="377.5" r="4.75"/><circle cx="595.1" cy="381.6" r="4.75"/><circle cx="598.4" cy="383.7" r="4.75"/><circle cx="599.6" cy="384.3" r="4.75"/><circle cx="603.1" cy="382.7" r="4.75"/><circle cx="607.3" cy="382.5" r="4.75"/><circle cx="610.7" cy="383.3" r="4.75"/><circle cx="613.3" cy="385.6" r="4.75"/><circle cx="616.3" cy="384.6" r="4.75"/><circle cx="618.7" cy="382.7" r="4.75"/><circle cx="621" cy="383.2" r="4.75"/><circle cx="626" cy="384.1" r="4.75"/><circle cx="628.9" cy="385.5" r="4.75"/><circle cx="630.9" cy="383.5" r="4.75"/><circle cx="635.8" cy="383" r="4.75"/><circle cx="636.9" cy="384" r="4.75"/><circle cx="640.4" cy="384.1" r="4.75"/><circle cx="644" cy="384.8" r="4.75"/><circle cx="648.3" cy="383.6" r="4.75"/><circle cx="651.6" cy="384.3" r="4.75"/><circle cx="653.3" cy="385.7" r="4.75"/><circle cx="656.8" cy="383.2" r="4.75"/><circle cx="659.6" cy="384.6" r="4.75"/><circle cx="665.2" cy="384.9" r="4.75"/><circle cx="666.9" cy="383.3" r="4.75"/><circle cx="668.9" cy="384.4" r="4.75"/><circle cx="673.8" cy="383.4" r="4.75"/><circle cx="677.3" cy="383.5" r="4.75"/><circle cx="681.5" cy="384" r="4.75"/><circle cx="682.5" cy="384.4" r="4.75"/><circle cx="684.9" cy="383" r="4.75"/><circle cx="689.2" cy="381.7" r="4.75"/><circle cx="691.4" cy="383.1" r="4.75"/><circle cx="694.4" cy="382.1" r="4.75"/><circle cx="700.3" cy="379.9" r="4.75"/><circle cx="701.3" cy="381.2" r="4.75"/><circle cx="705.5" cy="380.7" r="4.75"/><circle cx="709.4" cy="378.6" r="4.75"/><circle cx="711" cy="378.7" r="4.75"/><circle cx="713.7" cy="380" r="4.75"/><circle cx="719" cy="378.5" r="4.75"/><circle cx="719.8" cy="378.7" r="4.75"/><circle cx="725.1" cy="376.7" r="4.75"/><circle cx="728.2" cy="376.3" r="4.75"/><circle cx="729.6" cy="375" r="4.75"/><circle cx="733" cy="374.4" r="4.75"/><circle cx="736.1" cy="377.4" r="4.75"/><circle cx="740.6" cy="379" r="4.75"/><circle cx="743.6" cy="376.9" r="4.75"/><circle cx="746.3" cy="376.9" r="4.75"/><circle cx="750.2" cy="376.4" r="4.75"/><circle cx="751.8" cy="376.4" r="4.75"/><circle cx="756.8" cy="374" r="4.75"/><circle cx="759.5" cy="372.7" r="4.75"/><circle cx="760.8" cy="373" r="4.75"/><circle cx="765.1" cy="369.1" r="4.75"/><circle cx="764.9" cy="365.8" r="4.75"/><circle cx="765.9" cy="364" r="4.75"/><circle cx="762.1" cy="361.1" r="4.75"/><circle cx="759" cy="358.4" r="4.75"/><circle cx="756.7" cy="359.1" r="4.75"/><circle cx="753.8" cy="357.8" r="4.75"/><circle cx="752.2" cy="356.3" r="4.75"/><circle cx="749.1" cy="354.5" r="4.75"/><circle cx="747.7" cy="352.6" r="4.75"/><circle cx="744.9" cy="351.7" r="4.75"/><circle cx="740.8" cy="353.5" r="4.75"/><circle cx="740.4" cy="349.6" r="4.75"/><circle cx="737.8" cy="349.6" r="4.75"/><circle cx="735.7" cy="351.3" r="4.75"/><circle cx="730.1" cy="349.6" r="4.75"/><circle cx="727.4" cy="348.4" r="4.75"/><circle cx="726.2" cy="348.1" r="4.75"/><circle cx="723.4" cy="344.9" r="4.75"/><circle cx="718.7" cy="343.1" r="4.75"/><circle cx="718" cy="343" r="4.75"/><circle cx="714.5" cy="340.1" r="4.75"/><circle cx="712.2" cy="340.2" r="4.75"/><circle cx="711.2" cy="336.9" r="4.75"/><circle cx="713" cy="331" r="4.75"/><circle cx="711.4" cy="328" r="4.75"/><circle cx="707.9" cy="328.5" r="4.75"/><circle cx="706.2" cy="327.8" r="4.75"/><circle cx="705.1" cy="323.1" r="4.75"/><circle cx="703.3" cy="322.7" r="4.75"/><circle cx="700.8" cy="323" r="4.75"/><circle cx="698.3" cy="319.6" r="4.75"/><circle cx="695.4" cy="317.8" r="4.75"/><circle cx="691.1" cy="315" r="4.75"/><circle cx="688.4" cy="313.4" r="4.75"/><circle cx="688.2" cy="314.2" r="4.75"/><circle cx="683.9" cy="314.5" r="4.75"/><circle cx="681.4" cy="313.9" r="4.75"/><circle cx="677.2" cy="313.4" r="4.75"/><circle cx="673.9" cy="310.4" r="4.75"/><circle cx="672.2" cy="308.6" r="4.75"/><circle cx="671.7" cy="308.3" r="4.75"/><circle cx="666" cy="307" r="4.75"/><circle cx="666.2" cy="308.7" r="4.75"/><circle cx="661.9" cy="309.6" r="4.75"/><circle cx="659.7" cy="310.2" r="4.75"/><circle cx="657.8" cy="307.3" r="4.75"/><circle cx="654.3" cy="306.3" r="4.75"/><circle cx="653.3" cy="310" r="4.75"/><circle cx="648.5" cy="309.3" r="4.75"/><circle cx="647.5" cy="308.5" r="4.75"/><circle cx="644.3" cy="309.1" r="4.75"/><circle cx="641.2" cy="312.6" r="4.75"/><circle cx="639.4" cy="315.2" r="4.75"/><circle cx="637.6" cy="316.8" r="4.75"/><circle cx="636.7" cy="320.9" r="4.75"/><circle cx="636.3" cy="324.1" r="4.75"/><circle cx="635.4" cy="325" r="4.75"/><circle cx="631.6" cy="329.1" r="4.75"/><circle cx="630" cy="328.4" r="4.75"/><circle cx="627.5" cy="329.6" r="4.75"/><circle cx="625.1" cy="332.6" r="4.75"/><circle cx="624.8" cy="336.5" r="4.75"/><circle cx="625.4" cy="338.6" r="4.75"/><circle cx="622.9" cy="340" r="4.75"/><circle cx="619.9" cy="343.8" r="4.75"/><circle cx="619.5" cy="345.6" r="4.75"/><circle cx="615.6" cy="349" r="4.75"/><circle cx="615" cy="350" r="4.75"/><circle cx="611" cy="354.2" r="4.75"/><circle cx="610" cy="354.5" r="4.75"/><circle cx="604.4" cy="354.4" r="4.75"/><circle cx="604.8" cy="356.9" r="4.75"/><circle cx="602.4" cy="359.2" r="4.75"/><circle cx="600.7" cy="362.9" r="4.75"/><circle cx="598.8" cy="365.1" r="4.75"/><circle cx="593.3" cy="367.2" r="4.75"/><circle cx="592.5" cy="367.4" r="4.75"/><circle cx="593.2" cy="371" r="4.75"/><circle cx="590.7" cy="376.6" r="4.75"/><circle cx="591.4" cy="379.2" r="4.75"/></g>
</g>
<clipPath id="c121"><rect x="342.3" y="416.9" width="202.9" height="126.1"/></clipPath>
<g clip-path="url(#c121)">
<path d="M358.3 530.7 361.3 531.5 371.9 530.8 381.3 529.8 387.3 526.7 398 524 401.8 522.6 403.5 519.8 404.8 519 413.3 515.2 424.8 511.2 428.3 510.5 442 509.5 443.5 508.5 443.3 506.5 445.1 505.3 448.7 504.5 461.2 503.6 466.1 501.7 471 498.8 476.5 497.6 477.4 496.9 477.5 495.7 475.3 493.2 476.7 492.2 480.4 491 480.9 489.7 480.4 488.9 475.7 487.6 474 486.3 474.8 485.6 478.4 483.5 479.9 481.4 479.8 480.5 477.2 477.9 470.2 475.5 466.8 473.1 466.3 472.4 468.6 470.5 468.7 469.2 462.5 464.3 455.3 461.7 454.7 461 455.1 459 454.3 458.3 446.7 457 444.9 456.1 443.9 454.6 443.1 454.2 425.4 453.2 420.8 451.9 417.5 447.6 411.6 444.8 409.8 442.4 409.8 441.9 410.6 441.2 413.4 440 413.8 439.2 413.6 438.3 412.6 437.6 408.5 436.8 406.4 435.8 405.8 435.2 405.7 432.5 402.5 430.2 397.1 428.9 394.7 427.8 394.3 427.2 394.9 425.2 394.4 424.3 387.4 421.3 383.6 420.6 375.2 420.6 372 421 367.8 427.3 363.9 434.4 363 438.2 366.5 442.3 363.9 449.1 360 457.2 356.2 467 353.6 477 352.4 496.9 353.1 516.7 354.2 526.4Z"/>
<g class="r"><circle cx="361.1" cy="538.4" r="4.75"/><circle cx="382.9" cy="538.4" r="4.75"/><circle cx="389.4" cy="534.8" r="4.75"/><circle cx="376.5" cy="537.1" r="4.75"/><circle cx="402.8" cy="523.4" r="4.75"/><circle cx="430.5" cy="515.1" r="4.75"/><circle cx="460.1" cy="451.1" r="4.75"/><circle cx="478.1" cy="497.3" r="4.75"/><circle cx="482.8" cy="490" r="4.75"/><circle cx="480.2" cy="481.4" r="4.75"/><circle cx="470.4" cy="469.9" r="4.75"/><circle cx="456.3" cy="459" r="4.75"/><circle cx="446" cy="454" r="4.75"/><circle cx="416.4" cy="439.3" r="4.75"/><circle cx="396.6" cy="424.2" r="4.75"/><circle cx="386.8" cy="421.6" r="4.75"/><circle cx="376.5" cy="421.6" r="4.75"/><circle cx="370.1" cy="421.6" r="4.75"/><circle cx="359.8" cy="437.1" r="4.75"/><circle cx="364.9" cy="428.2" r="4.75"/><circle cx="358.3" cy="527.8" r="4.75"/><circle cx="355" cy="525.7" r="4.75"/><circle cx="354" cy="525" r="4.75"/><circle cx="356.6" cy="522.8" r="4.75"/><circle cx="356.9" cy="520.2" r="4.75"/><circle cx="355.7" cy="518.1" r="4.75"/><circle cx="352" cy="516.5" r="4.75"/><circle cx="353.5" cy="514.6" r="4.75"/><circle cx="356.6" cy="513.1" r="4.75"/><circle cx="355.9" cy="511.7" r="4.75"/><circle cx="354.4" cy="508.6" r="4.75"/><circle cx="352.1" cy="506.8" r="4.75"/><circle cx="355.3" cy="505.6" r="4.75"/><circle cx="356.1" cy="502.5" r="4.75"/><circle cx="354.5" cy="501.8" r="4.75"/><circle cx="354.4" cy="499.6" r="4.75"/><circle cx="353.2" cy="497.4" r="4.75"/><circle cx="355.2" cy="494.7" r="4.75"/><circle cx="354" cy="492.7" r="4.75"/><circle cx="351.8" cy="491.6" r="4.75"/><circle cx="355.8" cy="489.5" r="4.75"/><circle cx="353.5" cy="487.7" r="4.75"/><circle cx="353.1" cy="484.2" r="4.75"/><circle cx="355.6" cy="483.2" r="4.75"/><circle cx="353.9" cy="481.9" r="4.75"/><circle cx="355.5" cy="478.9" r="4.75"/><circle cx="355.3" cy="476.7" r="4.75"/><circle cx="354.5" cy="474.1" r="4.75"/><circle cx="353.9" cy="473.5" r="4.75"/><circle cx="356.1" cy="472" r="4.75"/><circle cx="358.2" cy="469.3" r="4.75"/><circle cx="355.9" cy="467.9" r="4.75"/><circle cx="357.7" cy="466.1" r="4.75"/><circle cx="361.1" cy="462.4" r="4.75"/><circle cx="359.1" cy="461.8" r="4.75"/><circle cx="359.9" cy="459.2" r="4.75"/><circle cx="363.2" cy="456.8" r="4.75"/><circle cx="363.1" cy="455.8" r="4.75"/><circle cx="361" cy="454.1" r="4.75"/><circle cx="363.5" cy="450.8" r="4.75"/><circle cx="363.1" cy="450.3" r="4.75"/><circle cx="366.2" cy="447" r="4.75"/><circle cx="367" cy="445.1" r="4.75"/><circle cx="369" cy="444.2" r="4.75"/><circle cx="370" cy="442.1" r="4.75"/><circle cx="365.2" cy="440.2" r="4.75"/><circle cx="362.5" cy="437.4" r="4.75"/><circle cx="366" cy="435.5" r="4.75"/><circle cx="365.9" cy="433.8" r="4.75"/><circle cx="366.8" cy="431.4" r="4.75"/><circle cx="366.8" cy="430.4" r="4.75"/><circle cx="370.7" cy="427.3" r="4.75"/><circle cx="372.8" cy="425.6" r="4.75"/><circle cx="372.2" cy="424.8" r="4.75"/><circle cx="378.5" cy="422.1" r="4.75"/><circle cx="383.9" cy="422.3" r="4.75"/><circle cx="386.8" cy="421.6" r="4.75"/><circle cx="391.3" cy="424" r="4.75"/><circle cx="395.7" cy="425.9" r="4.75"/><circle cx="394.6" cy="427.3" r="4.75"/><circle cx="396.6" cy="429.1" r="4.75"/><circle cx="399" cy="430.1" r="4.75"/><circle cx="402" cy="432.1" r="4.75"/><circle cx="405" cy="433" r="4.75"/><circle cx="406.6" cy="434.7" r="4.75"/><circle cx="403.6" cy="437.2" r="4.75"/><circle cx="409.9" cy="437.5" r="4.75"/><circle cx="409.9" cy="439.1" r="4.75"/><circle cx="407.1" cy="440.4" r="4.75"/><circle cx="410" cy="443.9" r="4.75"/><circle cx="411.9" cy="445.6" r="4.75"/><circle cx="412.3" cy="446.3" r="4.75"/><circle cx="417.4" cy="448" r="4.75"/><circle cx="420.3" cy="451" r="4.75"/><circle cx="420.5" cy="451.4" r="4.75"/><circle cx="425.2" cy="453.6" r="4.75"/><circle cx="425.1" cy="455" r="4.75"/><circle cx="430.3" cy="455.6" r="4.75"/><circle cx="439.8" cy="454.5" r="4.75"/><circle cx="444.6" cy="455.5" r="4.75"/><circle cx="443.8" cy="457.7" r="4.75"/><circle cx="444.9" cy="458.7" r="4.75"/><circle cx="452.5" cy="459.5" r="4.75"/><circle cx="453.2" cy="460.5" r="4.75"/><circle cx="452.7" cy="462.1" r="4.75"/><circle cx="458.1" cy="463.6" r="4.75"/><circle cx="461" cy="465.5" r="4.75"/><circle cx="465.5" cy="468.1" r="4.75"/><circle cx="468.1" cy="469.8" r="4.75"/><circle cx="466.9" cy="469.9" r="4.75"/><circle cx="466.4" cy="472.6" r="4.75"/><circle cx="467.3" cy="474.2" r="4.75"/><circle cx="468.2" cy="476.8" r="4.75"/><circle cx="473" cy="478.8" r="4.75"/><circle cx="475.9" cy="479.9" r="4.75"/><circle cx="476.3" cy="480.2" r="4.75"/><circle cx="478.4" cy="483.8" r="4.75"/><circle cx="475.7" cy="483.6" r="4.75"/><circle cx="474.2" cy="486.3" r="4.75"/><circle cx="473.3" cy="487.6" r="4.75"/><circle cx="477.9" cy="488.8" r="4.75"/><circle cx="479.5" cy="491" r="4.75"/><circle cx="473.6" cy="491.6" r="4.75"/><circle cx="474.6" cy="494.6" r="4.75"/><circle cx="476" cy="495.2" r="4.75"/><circle cx="475" cy="497.2" r="4.75"/><circle cx="469.5" cy="499.1" r="4.75"/><circle cx="465.3" cy="500.3" r="4.75"/><circle cx="462.7" cy="501.4" r="4.75"/><circle cx="456.1" cy="502" r="4.75"/><circle cx="450.9" cy="502.2" r="4.75"/><circle cx="449.5" cy="502.8" r="4.75"/><circle cx="442.9" cy="505.1" r="4.75"/><circle cx="443.9" cy="506.1" r="4.75"/><circle cx="442" cy="507.7" r="4.75"/><circle cx="437.3" cy="509.1" r="4.75"/><circle cx="431" cy="509.3" r="4.75"/><circle cx="427.6" cy="509" r="4.75"/><circle cx="425.4" cy="510.5" r="4.75"/><circle cx="419.3" cy="512.4" r="4.75"/><circle cx="416.3" cy="512.6" r="4.75"/><circle cx="410.9" cy="515" r="4.75"/><circle cx="409.3" cy="515.4" r="4.75"/><circle cx="402.5" cy="517.9" r="4.75"/><circle cx="401.9" cy="518.5" r="4.75"/><circle cx="402.1" cy="522" r="4.75"/><circle cx="398.1" cy="521.7" r="4.75"/><circle cx="394.4" cy="523.2" r="4.75"/><circle cx="388.4" cy="524.3" r="4.75"/><circle cx="384.9" cy="525.5" r="4.75"/><circle cx="381.5" cy="528.9" r="4.75"/><circle cx="381.2" cy="529.4" r="4.75"/><circle cx="375.4" cy="528.9" r="4.75"/><circle cx="366.4" cy="530.5" r="4.75"/><circle cx="362.3" cy="530.1" r="4.75"/></g>
</g>
<clipPath id="c130"><rect x="798.8" y="265.5" width="202.9" height="126.1"/></clipPath>
<g clip-path="url(#c130)">
<path d="M812.9 384.2 825.2 385.3 853.3 384.2 864.2 382.7 875.9 380.2 901.5 378.6 910.4 378.6 920.5 375.5 927.7 376.6 932.1 373.4 941.4 370.7 943.2 370.9 951 373.4 955.2 371.3 956.9 369.5 957 368.7 953 365.5 950.1 362 947.3 360.2 937.2 357 931.8 354.4 926.5 350.9 920.8 346.5 917.7 347.6 915.6 347.4 909.3 344.7 902.6 340.6 898.6 336.2 887.5 330.4 886.4 328.9 885.4 324.9 883.4 322.5 880.1 320.7 875.2 321.3 873.1 320.6 871.3 318.7 870.3 314.3 869.4 313.8 866.5 314 864.8 313.3 860.8 308.6 857.9 306.1 856.9 306.2 854.4 308.7 852.3 309.3 850.5 308.9 844.3 306.5 843.3 307.5 842.7 311.4 841 313.4 838.5 314.1 834.1 312.9 832.3 313.8 830.4 316.1 830.3 317.3 831.8 321.6 831.6 323.8 830.4 325.7 827.7 327.6 826.8 331.9 823.5 337.4 823.9 343.1 823.6 344.9 819.5 350.3 818.1 357.3 815.7 365.2 813.1 372.3 808.9 378.2 807.5 381.1 807.7 382.6Z"/>
<g class="r"><circle cx="910.6" cy="321.1" r="4.75"/><circle cx="905.8" cy="327.2" r="4.75"/><circle cx="906.6" cy="332.8" r="4.75"/><circle cx="908.2" cy="337.6" r="4.75"/><circle cx="921" cy="344" r="4.75"/><circle cx="941" cy="348.4" r="4.75"/><circle cx="946.1" cy="347.6" r="4.75"/><circle cx="951.4" cy="356.7" r="4.75"/><circle cx="959.4" cy="360.4" r="4.75"/><circle cx="970.2" cy="361.1" r="4.75"/><circle cx="978.2" cy="363.9" r="4.75"/><circle cx="994.1" cy="366" r="4.75"/><circle cx="994.1" cy="371.9" r="4.75"/><circle cx="963.4" cy="371.1" r="4.75"/><circle cx="957.8" cy="371.9" r="4.75"/><circle cx="947.4" cy="377.5" r="4.75"/><circle cx="810.3" cy="357.9" r="4.75"/><circle cx="808.5" cy="367.1" r="4.75"/><circle cx="820.5" cy="336.8" r="4.75"/><circle cx="842.6" cy="304.5" r="4.75"/><circle cx="857.8" cy="305.6" r="4.75"/><circle cx="833.8" cy="312.4" r="4.75"/><circle cx="828.2" cy="316" r="4.75"/><circle cx="870.6" cy="312" r="4.75"/><circle cx="928.2" cy="378.3" r="4.75"/><circle cx="910.6" cy="379.1" r="4.75"/><circle cx="813.9" cy="383.5" r="4.75"/><circle cx="816.9" cy="382.5" r="4.75"/><circle cx="821" cy="382.3" r="4.75"/><circle cx="824" cy="384.9" r="4.75"/><circle cx="828.3" cy="384" r="4.75"/><circle cx="831.3" cy="383.7" r="4.75"/><circle cx="832.9" cy="384.1" r="4.75"/><circle cx="837" cy="384.3" r="4.75"/><circle cx="841.7" cy="383.2" r="4.75"/><circle cx="843.9" cy="384.1" r="4.75"/><circle cx="846.5" cy="382.4" r="4.75"/><circle cx="850.8" cy="384.2" r="4.75"/><circle cx="854.2" cy="383.5" r="4.75"/><circle cx="857.6" cy="382.9" r="4.75"/><circle cx="860" cy="381.9" r="4.75"/><circle cx="862.2" cy="382.1" r="4.75"/><circle cx="864.6" cy="381.1" r="4.75"/><circle cx="870" cy="380.8" r="4.75"/><circle cx="872.4" cy="378.9" r="4.75"/><circle cx="875" cy="379" r="4.75"/><circle cx="878.8" cy="378.5" r="4.75"/><circle cx="882.3" cy="379.9" r="4.75"/><circle cx="883.8" cy="379" r="4.75"/><circle cx="888.9" cy="377.8" r="4.75"/><circle cx="891.3" cy="379.5" r="4.75"/><circle cx="892.9" cy="378" r="4.75"/><circle cx="896.6" cy="378.5" r="4.75"/><circle cx="902.2" cy="377.4" r="4.75"/><circle cx="902.7" cy="377.6" r="4.75"/><circle cx="907.3" cy="378" r="4.75"/><circle cx="910.6" cy="377.8" r="4.75"/><circle cx="914.5" cy="376.1" r="4.75"/><circle cx="916.6" cy="376.7" r="4.75"/><circle cx="918.8" cy="375.2" r="4.75"/><circle cx="922.2" cy="375.1" r="4.75"/><circle cx="924.3" cy="376.2" r="4.75"/><circle cx="927.4" cy="373.6" r="4.75"/><circle cx="930.4" cy="372.5" r="4.75"/><circle cx="932.6" cy="371.6" r="4.75"/><circle cx="937.2" cy="371.1" r="4.75"/><circle cx="939.7" cy="369" r="4.75"/><circle cx="942.5" cy="370.2" r="4.75"/><circle cx="947.8" cy="371.2" r="4.75"/><circle cx="948.4" cy="372.2" r="4.75"/><circle cx="951.8" cy="370.7" r="4.75"/><circle cx="954.9" cy="371.1" r="4.75"/><circle cx="953.3" cy="366.8" r="4.75"/><circle cx="951.7" cy="365.6" r="4.75"/><circle cx="951.1" cy="363" r="4.75"/><circle cx="947.4" cy="361.2" r="4.75"/><circle cx="943" cy="359.2" r="4.75"/><circle cx="940.6" cy="360.1" r="4.75"/><circle cx="937.2" cy="359.5" r="4.75"/><circle cx="933.6" cy="357.2" r="4.75"/><circle cx="930.5" cy="355.9" r="4.75"/><circle cx="929" cy="355" r="4.75"/><circle cx="926.1" cy="353.3" r="4.75"/><circle cx="925.6" cy="350.9" r="4.75"/><circle cx="921.5" cy="349.5" r="4.75"/><circle cx="919.3" cy="348.5" r="4.75"/><circle cx="915.9" cy="348.4" r="4.75"/><circle cx="911.9" cy="347.7" r="4.75"/><circle cx="908.9" cy="344.8" r="4.75"/><circle cx="908.6" cy="344.6" r="4.75"/><circle cx="903.5" cy="341.6" r="4.75"/><circle cx="902.9" cy="341.1" r="4.75"/><circle cx="897.9" cy="339.5" r="4.75"/><circle cx="899.2" cy="336.6" r="4.75"/><circle cx="893.3" cy="335.8" r="4.75"/><circle cx="891.9" cy="335.5" r="4.75"/><circle cx="889.5" cy="332.1" r="4.75"/><circle cx="885.4" cy="331.6" r="4.75"/><circle cx="885.4" cy="326.1" r="4.75"/><circle cx="885.2" cy="324.8" r="4.75"/><circle cx="881.3" cy="321.8" r="4.75"/><circle cx="877.5" cy="321.1" r="4.75"/><circle cx="874.4" cy="321.4" r="4.75"/><circle cx="873.2" cy="321.4" r="4.75"/><circle cx="870.7" cy="318.6" r="4.75"/><circle cx="870.6" cy="315.9" r="4.75"/><circle cx="866.7" cy="316" r="4.75"/><circle cx="864.2" cy="315.6" r="4.75"/><circle cx="860.8" cy="312.7" r="4.75"/><circle cx="859.2" cy="310.2" r="4.75"/><circle cx="857.5" cy="307.3" r="4.75"/><circle cx="854.6" cy="308.7" r="4.75"/><circle cx="853.5" cy="309.3" r="4.75"/><circle cx="849.3" cy="309.6" r="4.75"/><circle cx="846.2" cy="307.4" r="4.75"/><circle cx="844.7" cy="308.7" r="4.75"/><circle cx="843.8" cy="314.2" r="4.75"/><circle cx="841" cy="314.3" r="4.75"/><circle cx="840" cy="314.8" r="4.75"/><circle cx="835.3" cy="313.2" r="4.75"/><circle cx="832" cy="313.8" r="4.75"/><circle cx="831.9" cy="317.9" r="4.75"/><circle cx="834.5" cy="322.2" r="4.75"/><circle cx="832.3" cy="324.6" r="4.75"/><circle cx="830.8" cy="325.6" r="4.75"/><circle cx="828.9" cy="328.2" r="4.75"/><circle cx="827.4" cy="331.6" r="4.75"/><circle cx="827.4" cy="333.9" r="4.75"/><circle cx="825" cy="337" r="4.75"/><circle cx="825.6" cy="341.3" r="4.75"/><circle cx="825.2" cy="344.6" r="4.75"/><circle cx="824.6" cy="346.9" r="4.75"/><circle cx="820.9" cy="348.1" r="4.75"/><circle cx="819.6" cy="352" r="4.75"/><circle cx="820.5" cy="354.4" r="4.75"/><circle cx="819.1" cy="357.3" r="4.75"/><circle cx="817.3" cy="361.2" r="4.75"/><circle cx="817.1" cy="362.5" r="4.75"/><circle cx="815.8" cy="368.2" r="4.75"/><circle cx="816.3" cy="369" r="4.75"/><circle cx="815.5" cy="371.9" r="4.75"/><circle cx="811.2" cy="376.6" r="4.75"/><circle cx="809.3" cy="378.3" r="4.75"/><circle cx="809.2" cy="382.2" r="4.75"/><circle cx="811.3" cy="382.9" r="4.75"/></g>
</g>
<clipPath id="c131"><rect x="342.3" y="568.4" width="202.9" height="126.1"/></clipPath>
<g clip-path="url(#c131)">
<path d="M355.1 686.3 357.3 689.2 358.6 689.7 372.8 686.2 397.1 683 408.5 682.1 417 679.6 420.4 679.4 428.7 679.7 437.8 677.6 444.2 677.2 447.4 675.5 450.8 674.6 455.1 674.4 463 675.4 466.1 674.5 468 673.1 468.1 672.1 466.3 669.8 467.1 668.9 470.8 667.7 477.4 667.3 478.2 666.9 478.6 666.1 478.3 665.3 474 661.3 475.1 660.3 478.8 659 479.1 657.6 478.5 656.9 474.8 655.3 467.3 652.8 466.3 651.9 466.8 650.7 466.1 649.6 458.9 648.9 455.4 647.7 454.7 646.9 455.6 644.6 455.5 643.5 452.4 641.3 448.8 640.1 442.6 639.5 439.8 638.8 430.4 631.8 423.3 629.3 416.7 625.2 412.4 621.3 412.5 620.7 413.9 619.5 413.8 618.1 401.1 611.2 396.9 607.9 391.8 601.6 389.1 599.9 383.3 598.1 379.3 595.9 378.2 595.8 375.6 596.8 372.5 599.3 372.7 600.8 376.8 605.7 372.6 611.1 367.5 613.7 367.3 615.1 369.1 618.6 364 624.7 363.9 630.6 361.4 646.4 357.4 653.6 354.9 660.5 353.2 678Z"/>
<g class="r"><circle cx="455.8" cy="625" r="4.75"/><circle cx="446" cy="628" r="4.75"/><circle cx="437" cy="627.5" r="4.75"/><circle cx="429.3" cy="626.5" r="4.75"/><circle cx="419" cy="618.6" r="4.75"/><circle cx="411.8" cy="606.1" r="4.75"/><circle cx="413.1" cy="603" r="4.75"/><circle cx="398.4" cy="599.7" r="4.75"/><circle cx="392.5" cy="594.7" r="4.75"/><circle cx="391.4" cy="587.9" r="4.75"/><circle cx="386.8" cy="583" r="4.75"/><circle cx="383.5" cy="573.1" r="4.75"/><circle cx="373.9" cy="573.1" r="4.75"/><circle cx="375.2" cy="592.2" r="4.75"/><circle cx="373.9" cy="595.7" r="4.75"/><circle cx="364.9" cy="602.2" r="4.75"/><circle cx="396.6" cy="687.4" r="4.75"/><circle cx="381.7" cy="688.5" r="4.75"/><circle cx="430.5" cy="681" r="4.75"/><circle cx="482.5" cy="667.3" r="4.75"/><circle cx="480.7" cy="657.8" r="4.75"/><circle cx="469.7" cy="672.8" r="4.75"/><circle cx="464" cy="676.2" r="4.75"/><circle cx="470.4" cy="649.9" r="4.75"/><circle cx="363.7" cy="614.1" r="4.75"/><circle cx="362.4" cy="625" r="4.75"/><circle cx="355.3" cy="685.1" r="4.75"/><circle cx="357" cy="683.3" r="4.75"/><circle cx="357.2" cy="680.7" r="4.75"/><circle cx="353.1" cy="678.8" r="4.75"/><circle cx="354.6" cy="676.2" r="4.75"/><circle cx="355" cy="674.3" r="4.75"/><circle cx="354.4" cy="673.3" r="4.75"/><circle cx="354" cy="670.8" r="4.75"/><circle cx="355.8" cy="667.8" r="4.75"/><circle cx="354.4" cy="666.5" r="4.75"/><circle cx="357.1" cy="664.8" r="4.75"/><circle cx="354.2" cy="662.2" r="4.75"/><circle cx="355.4" cy="660.1" r="4.75"/><circle cx="356.3" cy="658" r="4.75"/><circle cx="357.9" cy="656.5" r="4.75"/><circle cx="357.6" cy="655.1" r="4.75"/><circle cx="359.2" cy="653.6" r="4.75"/><circle cx="359.6" cy="650.2" r="4.75"/><circle cx="362.7" cy="648.8" r="4.75"/><circle cx="362.6" cy="647.1" r="4.75"/><circle cx="363.3" cy="644.8" r="4.75"/><circle cx="361.2" cy="642.6" r="4.75"/><circle cx="362.7" cy="641.6" r="4.75"/><circle cx="364.4" cy="638.5" r="4.75"/><circle cx="361.9" cy="637" r="4.75"/><circle cx="364.1" cy="636" r="4.75"/><circle cx="363.3" cy="633.7" r="4.75"/><circle cx="365.1" cy="630.2" r="4.75"/><circle cx="364.8" cy="629.9" r="4.75"/><circle cx="364.1" cy="627" r="4.75"/><circle cx="364.5" cy="625" r="4.75"/><circle cx="367.2" cy="622.6" r="4.75"/><circle cx="366.2" cy="621.3" r="4.75"/><circle cx="368.7" cy="619.9" r="4.75"/><circle cx="368.8" cy="617.8" r="4.75"/><circle cx="367" cy="616.5" r="4.75"/><circle cx="371.2" cy="614.6" r="4.75"/><circle cx="373" cy="612.7" r="4.75"/><circle cx="374.5" cy="611.3" r="4.75"/><circle cx="375.2" cy="608.5" r="4.75"/><circle cx="378.6" cy="606.9" r="4.75"/><circle cx="376.8" cy="605.2" r="4.75"/><circle cx="375.2" cy="601.9" r="4.75"/><circle cx="373.5" cy="601.5" r="4.75"/><circle cx="375.9" cy="599.4" r="4.75"/><circle cx="375.4" cy="597.5" r="4.75"/><circle cx="382.2" cy="598.5" r="4.75"/><circle cx="384.1" cy="599.5" r="4.75"/><circle cx="388.4" cy="599.9" r="4.75"/><circle cx="391.1" cy="602.1" r="4.75"/><circle cx="394.4" cy="604.9" r="4.75"/><circle cx="392.9" cy="606.4" r="4.75"/><circle cx="393.9" cy="608.5" r="4.75"/><circle cx="397.7" cy="610.7" r="4.75"/><circle cx="399.8" cy="612.6" r="4.75"/><circle cx="401.2" cy="613.6" r="4.75"/><circle cx="403.9" cy="615.4" r="4.75"/><circle cx="407.7" cy="615.7" r="4.75"/><circle cx="410" cy="618.3" r="4.75"/><circle cx="411.7" cy="619.6" r="4.75"/><circle cx="411.9" cy="621.8" r="4.75"/><circle cx="412.9" cy="624.2" r="4.75"/><circle cx="417.7" cy="626" r="4.75"/><circle cx="417.9" cy="626.3" r="4.75"/><circle cx="422.8" cy="629.4" r="4.75"/><circle cx="423.6" cy="629.8" r="4.75"/><circle cx="426.2" cy="632.9" r="4.75"/><circle cx="430.8" cy="632.1" r="4.75"/><circle cx="432.1" cy="635.7" r="4.75"/><circle cx="432.6" cy="636.6" r="4.75"/><circle cx="438" cy="638.1" r="4.75"/><circle cx="438.9" cy="640.7" r="4.75"/><circle cx="447.7" cy="640.7" r="4.75"/><circle cx="449.8" cy="640.8" r="4.75"/><circle cx="454.6" cy="643.2" r="4.75"/><circle cx="455.8" cy="645.6" r="4.75"/><circle cx="455.3" cy="647.5" r="4.75"/><circle cx="455.2" cy="648.3" r="4.75"/><circle cx="459.7" cy="649.8" r="4.75"/><circle cx="464.2" cy="649.9" r="4.75"/><circle cx="464" cy="652.3" r="4.75"/><circle cx="464.6" cy="653.9" r="4.75"/><circle cx="469.2" cy="655.9" r="4.75"/><circle cx="473.2" cy="657" r="4.75"/><circle cx="477.9" cy="658" r="4.75"/><circle cx="475.6" cy="659.8" r="4.75"/><circle cx="474.7" cy="660.5" r="4.75"/><circle cx="474.2" cy="663.1" r="4.75"/><circle cx="477.7" cy="665.1" r="4.75"/><circle cx="475.7" cy="666" r="4.75"/><circle cx="466.8" cy="666.5" r="4.75"/><circle cx="466.7" cy="668.2" r="4.75"/><circle cx="465.9" cy="668.9" r="4.75"/><circle cx="468.5" cy="671.8" r="4.75"/><circle cx="467.5" cy="673.9" r="4.75"/><circle cx="460.8" cy="673.9" r="4.75"/><circle cx="454" cy="672.3" r="4.75"/><circle cx="450.2" cy="673.7" r="4.75"/><circle cx="448.5" cy="674.6" r="4.75"/><circle cx="444.2" cy="675.8" r="4.75"/><circle cx="438.9" cy="676.7" r="4.75"/><circle cx="435.1" cy="676.7" r="4.75"/><circle cx="430.2" cy="678.2" r="4.75"/><circle cx="423.2" cy="677.9" r="4.75"/><circle cx="417.9" cy="678.1" r="4.75"/><circle cx="414.2" cy="678.5" r="4.75"/><circle cx="412.3" cy="680.7" r="4.75"/><circle cx="406" cy="681.6" r="4.75"/><circle cx="402.2" cy="681" r="4.75"/><circle cx="397.6" cy="681.9" r="4.75"/><circle cx="391.3" cy="683" r="4.75"/><circle cx="389.2" cy="683.1" r="4.75"/><circle cx="379.9" cy="683.9" r="4.75"/><circle cx="378.7" cy="683.6" r="4.75"/><circle cx="373.9" cy="684.1" r="4.75"/><circle cx="366.4" cy="686.8" r="4.75"/><circle cx="363.7" cy="688" r="4.75"/><circle cx="357.5" cy="688.1" r="4.75"/><circle cx="356.4" cy="686.7" r="4.75"/></g>
</g>
<clipPath id="c230"><rect x="798.8" y="416.9" width="202.9" height="126.1"/></clipPath>
<g clip-path="url(#c230)">
<path d="M807.1 530.6 807.8 531.7 810.4 532.8 817.4 532.9 824.8 534.3 832.4 533.1 843 522.6 850 518.3 853.2 512.5 854.9 511 864.1 508.1 872.8 508.7 880.7 506.5 881.4 505.9 884 501.6 885.3 500.6 894.3 499.2 908.5 492.1 913.3 487.5 918.9 483.8 941.9 474.6 945.8 469.6 945.3 466 941.5 461 935 453.8 922.5 437.7 921.7 436.1 920.7 429.3 917.7 426.7 916.7 426.9 910.1 431.1 908.5 431.5 906.8 431.3 905.3 430.4 902.5 426.5 901.3 426 898.6 427.2 897 427.5 884.4 425.9 883.6 426.5 882 429.2 880.1 430.4 878.4 430.7 874.5 430.2 873.7 430.4 871.5 432 868 438.3 861 442.8 858.1 443.5 853.1 442.2 852.2 442.8 850 445.8 844 448.7 842.8 452.6 841.5 454.4 840 455.3 836 456.2 835.3 456.7 833.6 463 828.2 467.8 825.1 474.8 819.4 479.2 817.9 484.9 814.5 489.6 815.7 492.9 815.8 495.1 812.9 500.1 813.4 507.7 811.6 514.9 807.8 522.8Z"/>
<g class="r"><circle cx="809" cy="472.1" r="4.75"/><circle cx="810.6" cy="488.9" r="4.75"/><circle cx="817.8" cy="479.8" r="4.75"/><circle cx="810.6" cy="498.9" r="4.75"/><circle cx="809.8" cy="510.1" r="4.75"/><circle cx="833.8" cy="453.9" r="4.75"/><circle cx="841.8" cy="436.6" r="4.75"/><circle cx="853" cy="436.6" r="4.75"/><circle cx="844.2" cy="448.6" r="4.75"/><circle cx="882.6" cy="424.6" r="4.75"/><circle cx="903.1" cy="424.6" r="4.75"/><circle cx="921.8" cy="421.6" r="4.75"/><circle cx="916.2" cy="427" r="4.75"/><circle cx="921.8" cy="431" r="4.75"/><circle cx="873" cy="429.4" r="4.75"/><circle cx="936.2" cy="443.8" r="4.75"/><circle cx="943.5" cy="436.6" r="4.75"/><circle cx="941" cy="441.4" r="4.75"/><circle cx="937.8" cy="439.8" r="4.75"/><circle cx="942.6" cy="447" r="4.75"/><circle cx="946.6" cy="451.8" r="4.75"/><circle cx="951.1" cy="448.9" r="4.75"/><circle cx="950.3" cy="452.1" r="4.75"/><circle cx="933.8" cy="436.6" r="4.75"/><circle cx="930.6" cy="433.4" r="4.75"/><circle cx="962.6" cy="457.1" r="4.75"/><circle cx="970.6" cy="452.3" r="4.75"/><circle cx="978.2" cy="452.3" r="4.75"/><circle cx="957.8" cy="463.8" r="4.75"/><circle cx="961" cy="467.8" r="4.75"/><circle cx="959.4" cy="466.2" r="4.75"/><circle cx="994.2" cy="472.1" r="4.75"/><circle cx="955.4" cy="480.9" r="4.75"/><circle cx="949" cy="473.4" r="4.75"/><circle cx="941.8" cy="484.2" r="4.75"/><circle cx="935.4" cy="484.6" r="4.75"/><circle cx="928.2" cy="483" r="4.75"/><circle cx="917" cy="493.8" r="4.75"/><circle cx="910.6" cy="494.2" r="4.75"/><circle cx="898.6" cy="499.7" r="4.75"/><circle cx="897" cy="498.1" r="4.75"/><circle cx="881" cy="509.3" r="4.75"/><circle cx="871.4" cy="510.1" r="4.75"/><circle cx="863.4" cy="510.9" r="4.75"/><circle cx="850.6" cy="522.9" r="4.75"/><circle cx="847.4" cy="525.3" r="4.75"/><circle cx="855.4" cy="537" r="4.75"/><circle cx="848.2" cy="534.9" r="4.75"/><circle cx="842.6" cy="538.1" r="4.75"/><circle cx="832.2" cy="535.7" r="4.75"/><circle cx="822.6" cy="538.1" r="4.75"/><circle cx="806.3" cy="528.5" r="4.75"/><circle cx="810.3" cy="531.9" r="4.75"/><circle cx="813.5" cy="530.7" r="4.75"/><circle cx="816.6" cy="531.5" r="4.75"/><circle cx="820.3" cy="530.9" r="4.75"/><circle cx="821.7" cy="531" r="4.75"/><circle cx="826.6" cy="534.1" r="4.75"/><circle cx="829.1" cy="532" r="4.75"/><circle cx="833.2" cy="531.8" r="4.75"/><circle cx="833.8" cy="529" r="4.75"/><circle cx="835.8" cy="527.7" r="4.75"/><circle cx="838.1" cy="525.4" r="4.75"/><circle cx="842.2" cy="523.5" r="4.75"/><circle cx="842.3" cy="521.8" r="4.75"/><circle cx="844.3" cy="519" r="4.75"/><circle cx="849.8" cy="517" r="4.75"/><circle cx="851" cy="513.7" r="4.75"/><circle cx="851" cy="513.3" r="4.75"/><circle cx="855" cy="511" r="4.75"/><circle cx="858.7" cy="508.3" r="4.75"/><circle cx="859.7" cy="506.9" r="4.75"/><circle cx="863.7" cy="506.1" r="4.75"/><circle cx="865.6" cy="505.4" r="4.75"/><circle cx="868.1" cy="507.6" r="4.75"/><circle cx="871.6" cy="508.8" r="4.75"/><circle cx="875" cy="507.9" r="4.75"/><circle cx="877.6" cy="504.6" r="4.75"/><circle cx="881" cy="502.6" r="4.75"/><circle cx="882.8" cy="499.6" r="4.75"/><circle cx="884.7" cy="500.4" r="4.75"/><circle cx="889.5" cy="499.6" r="4.75"/><circle cx="892.5" cy="497" r="4.75"/><circle cx="895.6" cy="497.9" r="4.75"/><circle cx="898.3" cy="497.3" r="4.75"/><circle cx="900.6" cy="496.3" r="4.75"/><circle cx="903.5" cy="491.6" r="4.75"/><circle cx="905.2" cy="492.9" r="4.75"/><circle cx="908.8" cy="488.4" r="4.75"/><circle cx="911.3" cy="488.7" r="4.75"/><circle cx="913.4" cy="487.2" r="4.75"/><circle cx="915.6" cy="482.8" r="4.75"/><circle cx="918.8" cy="482.7" r="4.75"/><circle cx="922.1" cy="481.6" r="4.75"/><circle cx="924.3" cy="481.1" r="4.75"/><circle cx="927.7" cy="479.2" r="4.75"/><circle cx="931.3" cy="477.1" r="4.75"/><circle cx="933.9" cy="477.3" r="4.75"/><circle cx="938.6" cy="475.4" r="4.75"/><circle cx="939.9" cy="473.3" r="4.75"/><circle cx="942.6" cy="474.1" r="4.75"/><circle cx="945.5" cy="468.9" r="4.75"/><circle cx="944.6" cy="466.9" r="4.75"/><circle cx="942" cy="462.2" r="4.75"/><circle cx="939.6" cy="461.6" r="4.75"/><circle cx="939.1" cy="458.5" r="4.75"/><circle cx="936.6" cy="456.6" r="4.75"/><circle cx="934.6" cy="453.3" r="4.75"/><circle cx="930.7" cy="451.4" r="4.75"/><circle cx="930.3" cy="451" r="4.75"/><circle cx="928.2" cy="446.8" r="4.75"/><circle cx="926.2" cy="442.7" r="4.75"/><circle cx="925.7" cy="442.3" r="4.75"/><circle cx="922.4" cy="437.7" r="4.75"/><circle cx="919.8" cy="436.3" r="4.75"/><circle cx="920.8" cy="432" r="4.75"/><circle cx="920.1" cy="428.7" r="4.75"/><circle cx="917.2" cy="429.3" r="4.75"/><circle cx="914" cy="429.1" r="4.75"/><circle cx="912.3" cy="430.3" r="4.75"/><circle cx="907.5" cy="433.5" r="4.75"/><circle cx="905.8" cy="431.6" r="4.75"/><circle cx="902.8" cy="430.8" r="4.75"/><circle cx="902.7" cy="427.8" r="4.75"/><circle cx="898" cy="428.8" r="4.75"/><circle cx="897.1" cy="427.8" r="4.75"/><circle cx="891.6" cy="429" r="4.75"/><circle cx="889.2" cy="426.8" r="4.75"/><circle cx="885" cy="427.1" r="4.75"/><circle cx="883.7" cy="428.3" r="4.75"/><circle cx="883.2" cy="431" r="4.75"/><circle cx="879.7" cy="431.2" r="4.75"/><circle cx="876.1" cy="431.5" r="4.75"/><circle cx="873" cy="432.2" r="4.75"/><circle cx="873" cy="434.8" r="4.75"/><circle cx="869" cy="439.6" r="4.75"/><circle cx="868.3" cy="439.2" r="4.75"/><circle cx="864.5" cy="443.3" r="4.75"/><circle cx="862" cy="444.2" r="4.75"/><circle cx="859.1" cy="446.2" r="4.75"/><circle cx="857.8" cy="443.2" r="4.75"/><circle cx="852.5" cy="444.8" r="4.75"/><circle cx="851.6" cy="447.1" r="4.75"/><circle cx="847.8" cy="448.5" r="4.75"/><circle cx="844" cy="450.1" r="4.75"/><circle cx="842.7" cy="452.4" r="4.75"/><circle cx="844.5" cy="455" r="4.75"/><circle cx="841.5" cy="457" r="4.75"/><circle cx="838.7" cy="458.2" r="4.75"/><circle cx="834.7" cy="459.7" r="4.75"/><circle cx="833.9" cy="462.2" r="4.75"/><circle cx="833" cy="467.2" r="4.75"/><circle cx="830.6" cy="467.8" r="4.75"/><circle cx="828" cy="468" r="4.75"/><circle cx="827.6" cy="472" r="4.75"/><circle cx="824.9" cy="474.9" r="4.75"/><circle cx="823.4" cy="478.2" r="4.75"/><circle cx="821.8" cy="480.2" r="4.75"/><circle cx="818.1" cy="483.4" r="4.75"/><circle cx="820.6" cy="485" r="4.75"/><circle cx="818" cy="487.7" r="4.75"/><circle cx="815.5" cy="492.3" r="4.75"/><circle cx="818.5" cy="495" r="4.75"/><circle cx="815.5" cy="497.2" r="4.75"/><circle cx="813.3" cy="499.1" r="4.75"/><circle cx="815.2" cy="500.9" r="4.75"/><circle cx="813.4" cy="506.5" r="4.75"/><circle cx="814.9" cy="509.5" r="4.75"/><circle cx="812.9" cy="512" r="4.75"/><circle cx="813.7" cy="513.9" r="4.75"/><circle cx="812.9" cy="517.7" r="4.75"/><circle cx="811" cy="521.2" r="4.75"/><circle cx="810.1" cy="523" r="4.75"/><circle cx="810.1" cy="527.6" r="4.75"/></g>
</g>
<clipPath id="c231"><rect x="570.5" y="568.4" width="202.9" height="126.1"/></clipPath>
<g clip-path="url(#c231)">
<path d="M590.6 689.8 603 689.4 615.3 687 627.3 685.9 639.1 686.2 647.4 684.4 650.8 684.4 656.3 685.2 663.5 683.2 672.2 682.3 679.4 678.7 690.2 676.9 698.5 673.5 709.1 672.3 710.9 669.5 712.2 668.6 714.7 667.8 721.5 666.9 726 663.3 731.6 661.6 732.1 660.3 730 657.5 730.5 656.7 738.6 651.9 749 649.7 751.4 648 750.6 644.9 751 644.3 752.9 643.4 757.3 642.4 758.1 641.8 758.3 640.9 757 638.4 755.7 633.5 758 631.4 758 630 757.3 629.5 751.2 627.9 749.3 626.5 750.1 625.7 756.7 621.6 756.9 620.3 756.3 619.7 752.7 618.2 742.3 617.6 739.2 617 693.6 602.9 688.8 602.7 682.3 604.7 666.9 619.2 661 622.7 653.5 625.7 642.1 634.5 640.5 639.4 640 640.1 637.5 641.2 630.7 642.8 626.5 648.5 627.6 653.5 623.2 659 620.4 660.1 611.8 661.8 604.5 666.4 587.5 673.1 585.3 678.2 587.7 683.1 587.9 687.9Z"/>
<g class="r"><circle cx="684.7" cy="688.2" r="4.75"/><circle cx="657.7" cy="687.2" r="4.75"/><circle cx="672.4" cy="682.7" r="4.75"/><circle cx="641.5" cy="687.2" r="4.75"/><circle cx="623.5" cy="687.7" r="4.75"/><circle cx="714.1" cy="672.8" r="4.75"/><circle cx="741.9" cy="667.8" r="4.75"/><circle cx="741.9" cy="660.8" r="4.75"/><circle cx="722.6" cy="666.3" r="4.75"/><circle cx="761.2" cy="642.4" r="4.75"/><circle cx="761.2" cy="629.7" r="4.75"/><circle cx="765.9" cy="618.1" r="4.75"/><circle cx="757.3" cy="621.6" r="4.75"/><circle cx="750.9" cy="618.1" r="4.75"/><circle cx="753.4" cy="648.4" r="4.75"/><circle cx="730.3" cy="609.1" r="4.75"/><circle cx="741.9" cy="604.5" r="4.75"/><circle cx="734.1" cy="606.1" r="4.75"/><circle cx="736.7" cy="608.1" r="4.75"/><circle cx="725.1" cy="605.1" r="4.75"/><circle cx="717.4" cy="602.7" r="4.75"/><circle cx="722" cy="599.9" r="4.75"/><circle cx="716.9" cy="600.4" r="4.75"/><circle cx="741.9" cy="610.6" r="4.75"/><circle cx="747" cy="612.6" r="4.75"/><circle cx="708.9" cy="592.7" r="4.75"/><circle cx="716.6" cy="587.7" r="4.75"/><circle cx="716.6" cy="583" r="4.75"/><circle cx="698.1" cy="595.7" r="4.75"/><circle cx="691.7" cy="593.7" r="4.75"/><circle cx="694.3" cy="594.7" r="4.75"/><circle cx="684.7" cy="573.1" r="4.75"/><circle cx="670.6" cy="597.2" r="4.75"/><circle cx="682.7" cy="601.2" r="4.75"/><circle cx="665.2" cy="605.6" r="4.75"/><circle cx="664.7" cy="609.6" r="4.75"/><circle cx="667.2" cy="614.1" r="4.75"/><circle cx="649.7" cy="621.1" r="4.75"/><circle cx="649.2" cy="625" r="4.75"/><circle cx="640.2" cy="632.5" r="4.75"/><circle cx="642.8" cy="633.5" r="4.75"/><circle cx="624.8" cy="643.4" r="4.75"/><circle cx="623.5" cy="649.4" r="4.75"/><circle cx="622.2" cy="654.4" r="4.75"/><circle cx="602.9" cy="662.3" r="4.75"/><circle cx="599.1" cy="664.3" r="4.75"/><circle cx="580.3" cy="659.3" r="4.75"/><circle cx="583.6" cy="663.8" r="4.75"/><circle cx="578.5" cy="667.3" r="4.75"/><circle cx="582.3" cy="673.7" r="4.75"/><circle cx="578.5" cy="679.7" r="4.75"/><circle cx="593.9" cy="689.8" r="4.75"/><circle cx="588.6" cy="687.3" r="4.75"/><circle cx="590.4" cy="685.4" r="4.75"/><circle cx="589.2" cy="683.4" r="4.75"/><circle cx="590.1" cy="681.1" r="4.75"/><circle cx="590" cy="680.3" r="4.75"/><circle cx="585" cy="677.2" r="4.75"/><circle cx="588.3" cy="675.6" r="4.75"/><circle cx="588.6" cy="673.1" r="4.75"/><circle cx="593.1" cy="672.8" r="4.75"/><circle cx="595.3" cy="671.5" r="4.75"/><circle cx="598.9" cy="670.1" r="4.75"/><circle cx="602" cy="667.6" r="4.75"/><circle cx="604.7" cy="667.5" r="4.75"/><circle cx="609.2" cy="666.2" r="4.75"/><circle cx="612.4" cy="662.8" r="4.75"/><circle cx="617.8" cy="662.1" r="4.75"/><circle cx="618.4" cy="662.1" r="4.75"/><circle cx="622.2" cy="659.6" r="4.75"/><circle cx="626.4" cy="657.3" r="4.75"/><circle cx="628.8" cy="656.6" r="4.75"/><circle cx="630.1" cy="654.1" r="4.75"/><circle cx="631.2" cy="653" r="4.75"/><circle cx="627.5" cy="651.4" r="4.75"/><circle cx="625.6" cy="649.3" r="4.75"/><circle cx="627.1" cy="647.1" r="4.75"/><circle cx="632.5" cy="645.6" r="4.75"/><circle cx="635.6" cy="643.4" r="4.75"/><circle cx="640.4" cy="642.3" r="4.75"/><circle cx="639.1" cy="641.1" r="4.75"/><circle cx="640.4" cy="638.1" r="4.75"/><circle cx="644.6" cy="636.3" r="4.75"/><circle cx="643.2" cy="634.3" r="4.75"/><circle cx="644.1" cy="632.7" r="4.75"/><circle cx="645.8" cy="631.2" r="4.75"/><circle cx="653.3" cy="629.4" r="4.75"/><circle cx="651.2" cy="628.4" r="4.75"/><circle cx="658.5" cy="626.1" r="4.75"/><circle cx="658.1" cy="624.6" r="4.75"/><circle cx="660.4" cy="623.3" r="4.75"/><circle cx="667.4" cy="621.9" r="4.75"/><circle cx="667.7" cy="619.9" r="4.75"/><circle cx="669.4" cy="617.9" r="4.75"/><circle cx="670.2" cy="616.5" r="4.75"/><circle cx="673.3" cy="614.4" r="4.75"/><circle cx="676.7" cy="612.2" r="4.75"/><circle cx="676.4" cy="610.5" r="4.75"/><circle cx="679.3" cy="607.6" r="4.75"/><circle cx="682.7" cy="606.8" r="4.75"/><circle cx="681.5" cy="605.1" r="4.75"/><circle cx="689.8" cy="603.3" r="4.75"/><circle cx="693" cy="603.9" r="4.75"/><circle cx="700.7" cy="605.5" r="4.75"/><circle cx="701.6" cy="607" r="4.75"/><circle cx="706.6" cy="607.3" r="4.75"/><circle cx="709.6" cy="608.8" r="4.75"/><circle cx="715" cy="610.1" r="4.75"/><circle cx="718" cy="612.5" r="4.75"/><circle cx="718.7" cy="612.8" r="4.75"/><circle cx="725.4" cy="614.1" r="4.75"/><circle cx="732" cy="615.3" r="4.75"/><circle cx="732.7" cy="615.7" r="4.75"/><circle cx="740" cy="617.7" r="4.75"/><circle cx="742.4" cy="619.3" r="4.75"/><circle cx="749.3" cy="618.7" r="4.75"/><circle cx="754.6" cy="619.1" r="4.75"/><circle cx="753.5" cy="620.9" r="4.75"/><circle cx="753.8" cy="622.9" r="4.75"/><circle cx="751.9" cy="623.9" r="4.75"/><circle cx="746.8" cy="627" r="4.75"/><circle cx="749.8" cy="628" r="4.75"/><circle cx="751.1" cy="629.9" r="4.75"/><circle cx="756" cy="629.9" r="4.75"/><circle cx="754.4" cy="632.8" r="4.75"/><circle cx="756" cy="633.4" r="4.75"/><circle cx="754" cy="636.8" r="4.75"/><circle cx="757.6" cy="638.3" r="4.75"/><circle cx="757.1" cy="640.9" r="4.75"/><circle cx="755.2" cy="641.7" r="4.75"/><circle cx="750.9" cy="642" r="4.75"/><circle cx="750.5" cy="644.2" r="4.75"/><circle cx="750.1" cy="646.4" r="4.75"/><circle cx="748.9" cy="648.4" r="4.75"/><circle cx="744.7" cy="648.4" r="4.75"/><circle cx="737" cy="650.8" r="4.75"/><circle cx="737.7" cy="651.3" r="4.75"/><circle cx="731.1" cy="653.6" r="4.75"/><circle cx="729.7" cy="655.2" r="4.75"/><circle cx="726.5" cy="657" r="4.75"/><circle cx="731.2" cy="657.9" r="4.75"/><circle cx="728.6" cy="661.1" r="4.75"/><circle cx="724.9" cy="661.7" r="4.75"/><circle cx="722.6" cy="664.1" r="4.75"/><circle cx="720.2" cy="666.4" r="4.75"/><circle cx="716.4" cy="667.2" r="4.75"/><circle cx="712.2" cy="666.1" r="4.75"/><circle cx="709" cy="668" r="4.75"/><circle cx="707" cy="669.7" r="4.75"/><circle cx="704.7" cy="672.2" r="4.75"/><circle cx="700.7" cy="672.7" r="4.75"/><circle cx="692.7" cy="673.3" r="4.75"/><circle cx="691.6" cy="674.7" r="4.75"/><circle cx="691.3" cy="676.4" r="4.75"/><circle cx="684.9" cy="676.6" r="4.75"/><circle cx="680.2" cy="678.3" r="4.75"/><circle cx="674.9" cy="679.2" r="4.75"/><circle cx="671.6" cy="680.2" r="4.75"/><circle cx="666.5" cy="682.5" r="4.75"/><circle cx="663.9" cy="680.9" r="4.75"/><circle cx="659.6" cy="682.6" r="4.75"/><circle cx="652.2" cy="684.1" r="4.75"/><circle cx="647.9" cy="682.3" r="4.75"/><circle cx="644.3" cy="684.1" r="4.75"/><circle cx="641.3" cy="685.5" r="4.75"/><circle cx="638.3" cy="684.3" r="4.75"/><circle cx="629.3" cy="685.4" r="4.75"/><circle cx="624.5" cy="684.5" r="4.75"/><circle cx="620.5" cy="685.8" r="4.75"/><circle cx="617.4" cy="685.2" r="4.75"/><circle cx="611.3" cy="685.7" r="4.75"/><circle cx="605.8" cy="686.9" r="4.75"/><circle cx="602.8" cy="687.5" r="4.75"/><circle cx="595.4" cy="687.5" r="4.75"/></g>
</g>
<clipPath id="c140"><rect x="1027" y="265.5" width="202.9" height="126.1"/></clipPath>
<g clip-path="url(#c140)">
<path d="M1119.1 389.3 1122 390.2 1123.7 390 1125.4 389.3 1128.2 390.2 1130 390 1131.6 389.3 1134.5 390.2 1136.2 390 1137.9 389.3 1140.7 390.2 1143.6 389.6 1145.3 390.5 1147 390.9 1149.3 390.5 1151 389.6 1153.9 390.2 1156.7 389.3 1159.5 390.2 1161.3 390 1162.9 389.3 1165.8 390.2 1167.5 390 1169.2 389.3 1170.9 390 1172.6 390.2 1175.5 389.3 1178.3 390.2 1180.1 390 1181.7 389.3 1183.4 390 1185.2 390.2 1188 389.3 1190.8 390.2 1192.6 390 1194.3 389.3 1195.9 390 1197.7 390.2 1199.4 389.8 1201.1 388.9 1202.8 389.5 1205.1 389.4 1207.8 387.8 1210.8 388.1 1213 387.3 1214.7 388 1216.5 388.2 1219.3 387.3 1222.2 388.2 1224.4 387.8 1226.4 386.6 1227.7 384.7 1228.2 382.4 1228.2 323.7 1227.7 321.4 1226.4 319.5 1224.4 318.3 1222.2 317.9 1220.4 318.3 1218.7 317.1 1216.5 316.6 1214.2 316.9 1212 318.3 1209 318 1206.8 318.8 1204 317.9 1202.2 318.1 1200.5 318.8 1197.7 317.9 1195.9 318.1 1194.3 318.8 1192.6 318.1 1190.3 318 1188.6 318.5 1186.9 319.6 1185.1 319.3 1182.9 319.6 1180.7 321 1178.9 320.6 1177.1 320.8 1174.4 322.3 1172 321.9 1171.5 320 1170.5 318.5 1168.6 317.1 1166.9 316.6 1164.6 316.7 1162.9 317.5 1161.3 316.7 1159.5 316.6 1156.7 317.5 1155 316.7 1153.2 316.6 1150.4 317.5 1148.7 316.7 1147 316.6 1144.2 317.5 1142.5 316.7 1140.7 316.6 1137.9 317.5 1135.6 316.6 1133.6 316.7 1132 315 1129.9 314.1 1127.6 313.9 1125.4 314.8 1123.7 314.1 1121.9 313.9 1121.9 305.5 1120.8 302.9 1119 301.3 1116.9 300.5 1114.5 300.6 1112.9 301.3 1110.9 303.4 1110 306.1 1110 384.6 1110.4 386.2 1111.2 387.8 1113.4 389.6 1116.3 390.2ZM1072.4 312.5 1070.1 312.9 1068.1 314.1 1066.8 315.9 1066.2 318.2 1066.2 384.2 1066.5 386.2 1067.4 387.8 1068.6 389 1071.3 390.1 1073.6 390 1075.3 389.3 1078.1 390.2 1081 389.6 1082.6 390.5 1084.4 390.9 1086.1 390.7 1087.8 390 1089.5 390.7 1091.2 390.9 1092.9 390.5 1094.6 389.6 1096.9 390.2 1099.2 389.9 1100.7 389 1102 387.8 1102.8 386.2 1103.1 384.5 1103.1 307.7 1102.8 305.8 1102 304.2 1100.3 302.6 1098.1 301.9 1096 301.9 1094.5 300.3 1092.4 299.3 1089.5 299.3 1086.7 300.8 1085 300.5 1083.2 300.6 1081.1 301.6 1079.6 303.3 1076.4 303.5 1074 305.1 1072.6 307.7ZM1034.9 344.8 1032.6 345.1 1030.6 346.3 1029.3 348.2 1028.8 350.5 1028.8 376.4 1029.3 378.7 1030.6 380.6 1032.6 381.8 1034.9 382.1 1035.4 384.1 1036.4 385.6 1037.8 386.7 1039.4 387.3 1041.7 387.4 1044 386.6 1046.8 387.5 1053.7 387.5 1055.9 386.9 1057.6 387.8 1059.3 388.2 1061.1 388 1062.7 387.3 1064.7 385.3 1065.6 382.2 1065.6 321.2 1065.2 319.2 1064 317.2 1062.2 315.8 1060.5 315.3 1058.7 315.3 1057.1 315.8 1055.6 316.8 1054.5 318.1 1053.8 319.7 1053.7 321.9 1052.7 322 1051.9 320.3 1050.6 319.1 1047.9 318 1045.7 318.1 1044 318.8 1042.3 318.1 1040 318 1038.3 318.5 1036.8 319.5 1035.4 321.3 1034.9 323.6Z"/>
<g class="r"><circle cx="1034.6" cy="386.9" r="4.75"/><circle cx="1034.6" cy="348.7" r="4.75"/><circle cx="1034.6" cy="346.7" r="4.75"/><circle cx="1034.6" cy="377.9" r="4.75"/><circle cx="1040.8" cy="321.2" r="4.75"/><circle cx="1040.8" cy="319.2" r="4.75"/><circle cx="1040.8" cy="317.1" r="4.75"/><circle cx="1040.8" cy="315.1" r="4.75"/><circle cx="1040.8" cy="313.1" r="4.75"/><circle cx="1040.8" cy="311.1" r="4.75"/><circle cx="1040.8" cy="309.1" r="4.75"/><circle cx="1040.8" cy="307.1" r="4.75"/><circle cx="1040.8" cy="305.1" r="4.75"/><circle cx="1040.8" cy="383.2" r="4.75"/><circle cx="1047.1" cy="321.2" r="4.75"/><circle cx="1047.1" cy="319.2" r="4.75"/><circle cx="1047.1" cy="317.1" r="4.75"/><circle cx="1047.1" cy="315.1" r="4.75"/><circle cx="1047.1" cy="313.1" r="4.75"/><circle cx="1047.1" cy="311.1" r="4.75"/><circle cx="1047.1" cy="309.1" r="4.75"/><circle cx="1047.1" cy="307.1" r="4.75"/><circle cx="1047.1" cy="305.1" r="4.75"/><circle cx="1047.1" cy="383.1" r="4.75"/><circle cx="1050.2" cy="327.9" r="4.75"/><circle cx="1050.2" cy="325.2" r="4.75"/><circle cx="1050.2" cy="322.5" r="4.75"/><circle cx="1050.2" cy="319.8" r="4.75"/><circle cx="1050.2" cy="383.1" r="4.75"/><circle cx="1053.3" cy="325.2" r="4.75"/><circle cx="1053.3" cy="322.5" r="4.75"/><circle cx="1053.3" cy="319.8" r="4.75"/><circle cx="1053.3" cy="318.5" r="4.75"/><circle cx="1053.3" cy="382.6" r="4.75"/><circle cx="1059.6" cy="318.5" r="4.75"/><circle cx="1059.6" cy="316.5" r="4.75"/><circle cx="1059.6" cy="314.5" r="4.75"/><circle cx="1059.6" cy="312.4" r="4.75"/><circle cx="1059.6" cy="310.4" r="4.75"/><circle cx="1059.6" cy="383.6" r="4.75"/><circle cx="1072.1" cy="315.8" r="4.75"/><circle cx="1072.1" cy="313.8" r="4.75"/><circle cx="1072.1" cy="311.8" r="4.75"/><circle cx="1072.1" cy="309.1" r="4.75"/><circle cx="1072.1" cy="303.7" r="4.75"/><circle cx="1072.1" cy="385.5" r="4.75"/><circle cx="1078.4" cy="306.4" r="4.75"/><circle cx="1078.4" cy="305.1" r="4.75"/><circle cx="1078.4" cy="303.7" r="4.75"/><circle cx="1078.4" cy="302.4" r="4.75"/><circle cx="1078.4" cy="301" r="4.75"/><circle cx="1078.4" cy="291.6" r="4.75"/><circle cx="1078.4" cy="385.1" r="4.75"/><circle cx="1084.7" cy="303.7" r="4.75"/><circle cx="1084.7" cy="302.4" r="4.75"/><circle cx="1084.7" cy="301" r="4.75"/><circle cx="1084.7" cy="298.4" r="4.75"/><circle cx="1084.7" cy="291.6" r="4.75"/><circle cx="1084.7" cy="270.2" r="4.75"/><circle cx="1084.7" cy="386.5" r="4.75"/><circle cx="1090.9" cy="302.4" r="4.75"/><circle cx="1090.9" cy="301" r="4.75"/><circle cx="1090.9" cy="299.7" r="4.75"/><circle cx="1090.9" cy="298.4" r="4.75"/><circle cx="1090.9" cy="295.7" r="4.75"/><circle cx="1090.9" cy="293" r="4.75"/><circle cx="1090.9" cy="282.2" r="4.75"/><circle cx="1090.9" cy="271.5" r="4.75"/><circle cx="1090.9" cy="386.2" r="4.75"/><circle cx="1097.2" cy="305.1" r="4.75"/><circle cx="1097.2" cy="303.7" r="4.75"/><circle cx="1097.2" cy="302.4" r="4.75"/><circle cx="1097.2" cy="301" r="4.75"/><circle cx="1097.2" cy="385.9" r="4.75"/><circle cx="1116" cy="303.7" r="4.75"/><circle cx="1116" cy="302.4" r="4.75"/><circle cx="1116" cy="301" r="4.75"/><circle cx="1116" cy="297.7" r="4.75"/><circle cx="1116" cy="292.3" r="4.75"/><circle cx="1116" cy="287.6" r="4.75"/><circle cx="1116" cy="385.3" r="4.75"/><circle cx="1122.2" cy="317.1" r="4.75"/><circle cx="1122.2" cy="315.1" r="4.75"/><circle cx="1122.2" cy="313.1" r="4.75"/><circle cx="1122.2" cy="311.1" r="4.75"/><circle cx="1122.2" cy="386.1" r="4.75"/><circle cx="1128.5" cy="317.1" r="4.75"/><circle cx="1128.5" cy="315.1" r="4.75"/><circle cx="1128.5" cy="313.1" r="4.75"/><circle cx="1128.5" cy="310.4" r="4.75"/><circle cx="1128.5" cy="385.3" r="4.75"/><circle cx="1134.8" cy="319.8" r="4.75"/><circle cx="1134.8" cy="317.8" r="4.75"/><circle cx="1134.8" cy="315.8" r="4.75"/><circle cx="1134.8" cy="313.1" r="4.75"/><circle cx="1134.8" cy="385.3" r="4.75"/><circle cx="1141" cy="319.8" r="4.75"/><circle cx="1141" cy="317.8" r="4.75"/><circle cx="1141" cy="315.8" r="4.75"/><circle cx="1141" cy="314.5" r="4.75"/><circle cx="1141" cy="385.3" r="4.75"/><circle cx="1147.3" cy="319.8" r="4.75"/><circle cx="1147.3" cy="317.8" r="4.75"/><circle cx="1147.3" cy="315.8" r="4.75"/><circle cx="1147.3" cy="313.1" r="4.75"/><circle cx="1147.3" cy="309.1" r="4.75"/><circle cx="1147.3" cy="386.7" r="4.75"/><circle cx="1153.5" cy="319.8" r="4.75"/><circle cx="1153.5" cy="317.8" r="4.75"/><circle cx="1153.5" cy="315.8" r="4.75"/><circle cx="1153.5" cy="313.1" r="4.75"/><circle cx="1153.5" cy="310.4" r="4.75"/><circle cx="1153.5" cy="307.7" r="4.75"/><circle cx="1153.5" cy="385.8" r="4.75"/><circle cx="1159.8" cy="319.8" r="4.75"/><circle cx="1159.8" cy="317.8" r="4.75"/><circle cx="1159.8" cy="315.8" r="4.75"/><circle cx="1159.8" cy="313.1" r="4.75"/><circle cx="1159.8" cy="310.4" r="4.75"/><circle cx="1159.8" cy="307.1" r="4.75"/><circle cx="1159.8" cy="305.7" r="4.75"/><circle cx="1159.8" cy="385.4" r="4.75"/><circle cx="1166.1" cy="319.8" r="4.75"/><circle cx="1166.1" cy="317.8" r="4.75"/><circle cx="1166.1" cy="315.8" r="4.75"/><circle cx="1166.1" cy="313.1" r="4.75"/><circle cx="1166.1" cy="310.4" r="4.75"/><circle cx="1166.1" cy="306.4" r="4.75"/><circle cx="1166.1" cy="386" r="4.75"/><circle cx="1172.3" cy="325.2" r="4.75"/><circle cx="1172.3" cy="323.2" r="4.75"/><circle cx="1172.3" cy="321.2" r="4.75"/><circle cx="1172.3" cy="319.8" r="4.75"/><circle cx="1172.3" cy="385.6" r="4.75"/><circle cx="1178.6" cy="323.9" r="4.75"/><circle cx="1178.6" cy="321.8" r="4.75"/><circle cx="1178.6" cy="319.8" r="4.75"/><circle cx="1178.6" cy="318.5" r="4.75"/><circle cx="1178.6" cy="306.4" r="4.75"/><circle cx="1178.6" cy="385.6" r="4.75"/><circle cx="1184.9" cy="322.5" r="4.75"/><circle cx="1184.9" cy="320.5" r="4.75"/><circle cx="1184.9" cy="318.5" r="4.75"/><circle cx="1184.9" cy="317.1" r="4.75"/><circle cx="1184.9" cy="385.2" r="4.75"/><circle cx="1188" cy="333.2" r="4.75"/><circle cx="1188" cy="330.6" r="4.75"/><circle cx="1188" cy="382.8" r="4.75"/><circle cx="1191.1" cy="321.2" r="4.75"/><circle cx="1191.1" cy="319.2" r="4.75"/><circle cx="1191.1" cy="317.1" r="4.75"/><circle cx="1191.1" cy="385.3" r="4.75"/><circle cx="1194.3" cy="333.2" r="4.75"/><circle cx="1194.3" cy="330.6" r="4.75"/><circle cx="1194.3" cy="383.1" r="4.75"/><circle cx="1197.4" cy="321.2" r="4.75"/><circle cx="1197.4" cy="319.2" r="4.75"/><circle cx="1197.4" cy="317.1" r="4.75"/><circle cx="1197.4" cy="315.8" r="4.75"/><circle cx="1197.4" cy="385.3" r="4.75"/><circle cx="1200.5" cy="333.2" r="4.75"/><circle cx="1200.5" cy="330.6" r="4.75"/><circle cx="1200.5" cy="381.6" r="4.75"/><circle cx="1203.6" cy="321.2" r="4.75"/><circle cx="1203.6" cy="319.2" r="4.75"/><circle cx="1203.6" cy="317.1" r="4.75"/><circle cx="1203.6" cy="384.5" r="4.75"/><circle cx="1206.8" cy="333.2" r="4.75"/><circle cx="1206.8" cy="330.6" r="4.75"/><circle cx="1206.8" cy="381.9" r="4.75"/><circle cx="1209.9" cy="321.2" r="4.75"/><circle cx="1209.9" cy="319.2" r="4.75"/><circle cx="1209.9" cy="317.1" r="4.75"/><circle cx="1209.9" cy="315.8" r="4.75"/><circle cx="1209.9" cy="311" r="4.75"/><circle cx="1209.9" cy="383.3" r="4.75"/><circle cx="1213" cy="333.2" r="4.75"/><circle cx="1213" cy="330.6" r="4.75"/><circle cx="1213" cy="381.8" r="4.75"/><circle cx="1216.2" cy="319.8" r="4.75"/><circle cx="1216.2" cy="317.8" r="4.75"/><circle cx="1216.2" cy="315.8" r="4.75"/><circle cx="1216.2" cy="313.1" r="4.75"/><circle cx="1216.2" cy="305.1" r="4.75"/><circle cx="1216.2" cy="383.5" r="4.75"/><circle cx="1219.3" cy="330.6" r="4.75"/><circle cx="1219.3" cy="327.9" r="4.75"/><circle cx="1219.3" cy="381.5" r="4.75"/><circle cx="1222.4" cy="321.2" r="4.75"/><circle cx="1222.4" cy="319.2" r="4.75"/><circle cx="1222.4" cy="317.1" r="4.75"/><circle cx="1222.4" cy="383.9" r="4.75"/></g>
</g>
<clipPath id="c141"><rect x="342.3" y="719.8" width="202.9" height="126.1"/></clipPath>
<g clip-path="url(#c141)">
<path d="M347 808.2 346.7 810.9 347.8 813.7 348.1 816 347.8 818.7 348.2 820.1 349.4 822.1 351.4 823.5 351 826.5 352.1 829.2 352.4 835.4 352.1 838.2 353.1 840.7 354.9 842.5 357.5 843.5 361.3 843.6 362.2 845.3 364.3 846.8 366.8 847.3 408.4 847.3 410.9 846.8 413 845.3 413.9 843.6 451.4 843.6 454.4 842.8 456.1 841.5 457.3 839.6 457.6 838.2 457.4 831.7 459.2 830.9 461 829 461.9 826.5 461.7 823.9 464.1 822.7 465.9 820.2 475.7 820.2 478.6 819.2 479.8 818.2 481.1 816.1 482.9 815.3 484.8 813.5 485.7 811 487.5 808.4 487.9 805.5 487.5 804.1 486.3 802.1 485.1 801.1 483.2 800.3 482 798.2 480.1 796.8 482 796.3 483.5 795.4 485.3 792.9 485.7 789.9 485.3 788.5 484.1 786.5 482.4 785.2 480.1 784.5 463.9 784.5 464.1 782.1 463.2 779.6 461.3 777.8 459.5 777 459.8 762.7 459.5 761.5 459.8 758.8 459.4 757.4 458.2 755.4 457 754.4 455.3 753.6 453.1 753.4 455.1 750.1 455.5 748.7 457.3 746.2 457.6 744.7 457.3 738.1 457.6 735.4 457.3 734.2 457.6 733.1 459.4 730.6 459.8 727.6 459.4 726.2 457.5 723.6 457.4 722.7 456.2 720.5 454.1 719 451.6 718.5 357 718.5 354.6 719 352.5 720.5 351.3 722.7 351 729.2 351.3 730.4 351.1 731.5 349.2 734 348.9 736.6 347.8 739.3 348.1 745.9 347.8 747.1 348.1 749.8 347.8 751 348.1 753.7 347.8 760.3 348.1 761.5 347.8 764.2 348.1 765.4 347.8 767.7 346.7 770.5 346.7 772 347.8 774.7 348.1 777.1 347.8 778.2 348.1 784.8 347.8 791.4 348.2 792.9 349.4 794.8 352 796.5 349.4 798.2 348.2 800.2 347.8 802.7 346.7 805.5Z"/>
<g class="r"><circle cx="349.8" cy="841.3" r="4.75"/><circle cx="411.4" cy="841.3" r="4.75"/><circle cx="414.6" cy="841.3" r="4.75"/><circle cx="364.4" cy="841.3" r="4.75"/><circle cx="455.6" cy="837.4" r="4.75"/><circle cx="458.9" cy="837.4" r="4.75"/><circle cx="462.1" cy="837.4" r="4.75"/><circle cx="465.3" cy="837.4" r="4.75"/><circle cx="468.6" cy="837.4" r="4.75"/><circle cx="471.8" cy="837.4" r="4.75"/><circle cx="475.1" cy="837.4" r="4.75"/><circle cx="478.3" cy="837.4" r="4.75"/><circle cx="481.5" cy="837.4" r="4.75"/><circle cx="355.8" cy="837.4" r="4.75"/><circle cx="455.6" cy="833.5" r="4.75"/><circle cx="458.9" cy="833.5" r="4.75"/><circle cx="462.1" cy="833.5" r="4.75"/><circle cx="465.3" cy="833.5" r="4.75"/><circle cx="468.6" cy="833.5" r="4.75"/><circle cx="471.8" cy="833.5" r="4.75"/><circle cx="475.1" cy="833.5" r="4.75"/><circle cx="478.3" cy="833.5" r="4.75"/><circle cx="481.5" cy="833.5" r="4.75"/><circle cx="356" cy="833.5" r="4.75"/><circle cx="444.8" cy="831.6" r="4.75"/><circle cx="449.1" cy="831.6" r="4.75"/><circle cx="453.5" cy="831.6" r="4.75"/><circle cx="457.8" cy="831.6" r="4.75"/><circle cx="355.9" cy="831.6" r="4.75"/><circle cx="449.1" cy="829.6" r="4.75"/><circle cx="453.5" cy="829.6" r="4.75"/><circle cx="457.8" cy="829.6" r="4.75"/><circle cx="459.9" cy="829.6" r="4.75"/><circle cx="356.8" cy="829.6" r="4.75"/><circle cx="459.9" cy="825.7" r="4.75"/><circle cx="463.2" cy="825.7" r="4.75"/><circle cx="466.4" cy="825.7" r="4.75"/><circle cx="469.7" cy="825.7" r="4.75"/><circle cx="472.9" cy="825.7" r="4.75"/><circle cx="355.2" cy="825.7" r="4.75"/><circle cx="464.3" cy="817.9" r="4.75"/><circle cx="467.5" cy="817.9" r="4.75"/><circle cx="470.7" cy="817.9" r="4.75"/><circle cx="475.1" cy="817.9" r="4.75"/><circle cx="483.7" cy="817.9" r="4.75"/><circle cx="352.2" cy="817.9" r="4.75"/><circle cx="479.4" cy="814" r="4.75"/><circle cx="481.5" cy="814" r="4.75"/><circle cx="483.7" cy="814" r="4.75"/><circle cx="485.9" cy="814" r="4.75"/><circle cx="488" cy="814" r="4.75"/><circle cx="503.1" cy="814" r="4.75"/><circle cx="352.7" cy="814" r="4.75"/><circle cx="483.7" cy="810.1" r="4.75"/><circle cx="485.9" cy="810.1" r="4.75"/><circle cx="488" cy="810.1" r="4.75"/><circle cx="492.3" cy="810.1" r="4.75"/><circle cx="503.1" cy="810.1" r="4.75"/><circle cx="537.7" cy="810.1" r="4.75"/><circle cx="350.5" cy="810.1" r="4.75"/><circle cx="485.9" cy="806.3" r="4.75"/><circle cx="488" cy="806.3" r="4.75"/><circle cx="490.2" cy="806.3" r="4.75"/><circle cx="492.3" cy="806.3" r="4.75"/><circle cx="496.7" cy="806.3" r="4.75"/><circle cx="501" cy="806.3" r="4.75"/><circle cx="518.3" cy="806.3" r="4.75"/><circle cx="535.5" cy="806.3" r="4.75"/><circle cx="350.9" cy="806.3" r="4.75"/><circle cx="481.5" cy="802.4" r="4.75"/><circle cx="483.7" cy="802.4" r="4.75"/><circle cx="485.9" cy="802.4" r="4.75"/><circle cx="488" cy="802.4" r="4.75"/><circle cx="351.4" cy="802.4" r="4.75"/><circle cx="483.7" cy="790.7" r="4.75"/><circle cx="485.9" cy="790.7" r="4.75"/><circle cx="488" cy="790.7" r="4.75"/><circle cx="493.4" cy="790.7" r="4.75"/><circle cx="502.1" cy="790.7" r="4.75"/><circle cx="509.6" cy="790.7" r="4.75"/><circle cx="352.4" cy="790.7" r="4.75"/><circle cx="462.1" cy="786.8" r="4.75"/><circle cx="465.3" cy="786.8" r="4.75"/><circle cx="468.6" cy="786.8" r="4.75"/><circle cx="471.8" cy="786.8" r="4.75"/><circle cx="351.2" cy="786.8" r="4.75"/><circle cx="462.1" cy="782.9" r="4.75"/><circle cx="465.3" cy="782.9" r="4.75"/><circle cx="468.6" cy="782.9" r="4.75"/><circle cx="472.9" cy="782.9" r="4.75"/><circle cx="352.5" cy="782.9" r="4.75"/><circle cx="457.8" cy="779" r="4.75"/><circle cx="461" cy="779" r="4.75"/><circle cx="464.3" cy="779" r="4.75"/><circle cx="468.6" cy="779" r="4.75"/><circle cx="352.5" cy="779" r="4.75"/><circle cx="457.8" cy="775.1" r="4.75"/><circle cx="461" cy="775.1" r="4.75"/><circle cx="464.3" cy="775.1" r="4.75"/><circle cx="466.4" cy="775.1" r="4.75"/><circle cx="352.5" cy="775.1" r="4.75"/><circle cx="457.8" cy="771.2" r="4.75"/><circle cx="461" cy="771.2" r="4.75"/><circle cx="464.3" cy="771.2" r="4.75"/><circle cx="468.6" cy="771.2" r="4.75"/><circle cx="475.1" cy="771.2" r="4.75"/><circle cx="350.3" cy="771.2" r="4.75"/><circle cx="457.8" cy="767.3" r="4.75"/><circle cx="461" cy="767.3" r="4.75"/><circle cx="464.3" cy="767.3" r="4.75"/><circle cx="468.6" cy="767.3" r="4.75"/><circle cx="472.9" cy="767.3" r="4.75"/><circle cx="477.2" cy="767.3" r="4.75"/><circle cx="351.6" cy="767.3" r="4.75"/><circle cx="457.8" cy="763.4" r="4.75"/><circle cx="461" cy="763.4" r="4.75"/><circle cx="464.3" cy="763.4" r="4.75"/><circle cx="468.6" cy="763.4" r="4.75"/><circle cx="472.9" cy="763.4" r="4.75"/><circle cx="478.3" cy="763.4" r="4.75"/><circle cx="480.5" cy="763.4" r="4.75"/><circle cx="352.3" cy="763.4" r="4.75"/><circle cx="457.8" cy="759.5" r="4.75"/><circle cx="461" cy="759.5" r="4.75"/><circle cx="464.3" cy="759.5" r="4.75"/><circle cx="468.6" cy="759.5" r="4.75"/><circle cx="472.9" cy="759.5" r="4.75"/><circle cx="479.4" cy="759.5" r="4.75"/><circle cx="351.4" cy="759.5" r="4.75"/><circle cx="449.1" cy="755.7" r="4.75"/><circle cx="452.4" cy="755.7" r="4.75"/><circle cx="455.6" cy="755.7" r="4.75"/><circle cx="457.8" cy="755.7" r="4.75"/><circle cx="351.9" cy="755.7" r="4.75"/><circle cx="451.3" cy="751.8" r="4.75"/><circle cx="454.5" cy="751.8" r="4.75"/><circle cx="457.8" cy="751.8" r="4.75"/><circle cx="459.9" cy="751.8" r="4.75"/><circle cx="479.4" cy="751.8" r="4.75"/><circle cx="351.9" cy="751.8" r="4.75"/><circle cx="453.5" cy="747.9" r="4.75"/><circle cx="456.7" cy="747.9" r="4.75"/><circle cx="459.9" cy="747.9" r="4.75"/><circle cx="462.1" cy="747.9" r="4.75"/><circle cx="352.7" cy="747.9" r="4.75"/><circle cx="436.2" cy="745.9" r="4.75"/><circle cx="440.5" cy="745.9" r="4.75"/><circle cx="356.4" cy="745.9" r="4.75"/><circle cx="455.6" cy="744" r="4.75"/><circle cx="458.9" cy="744" r="4.75"/><circle cx="462.1" cy="744" r="4.75"/><circle cx="352.5" cy="744" r="4.75"/><circle cx="436.2" cy="742" r="4.75"/><circle cx="440.5" cy="742" r="4.75"/><circle cx="356" cy="742" r="4.75"/><circle cx="455.6" cy="740.1" r="4.75"/><circle cx="458.9" cy="740.1" r="4.75"/><circle cx="462.1" cy="740.1" r="4.75"/><circle cx="464.3" cy="740.1" r="4.75"/><circle cx="352.4" cy="740.1" r="4.75"/><circle cx="436.2" cy="738.1" r="4.75"/><circle cx="440.5" cy="738.1" r="4.75"/><circle cx="358.3" cy="738.1" r="4.75"/><circle cx="455.6" cy="736.2" r="4.75"/><circle cx="458.9" cy="736.2" r="4.75"/><circle cx="462.1" cy="736.2" r="4.75"/><circle cx="353.7" cy="736.2" r="4.75"/><circle cx="436.2" cy="734.2" r="4.75"/><circle cx="440.5" cy="734.2" r="4.75"/><circle cx="357.8" cy="734.2" r="4.75"/><circle cx="455.6" cy="732.3" r="4.75"/><circle cx="458.9" cy="732.3" r="4.75"/><circle cx="462.1" cy="732.3" r="4.75"/><circle cx="464.3" cy="732.3" r="4.75"/><circle cx="472" cy="732.3" r="4.75"/><circle cx="355.7" cy="732.3" r="4.75"/><circle cx="436.2" cy="730.4" r="4.75"/><circle cx="440.5" cy="730.4" r="4.75"/><circle cx="358" cy="730.4" r="4.75"/><circle cx="457.8" cy="728.4" r="4.75"/><circle cx="461" cy="728.4" r="4.75"/><circle cx="464.3" cy="728.4" r="4.75"/><circle cx="468.6" cy="728.4" r="4.75"/><circle cx="481.5" cy="728.4" r="4.75"/><circle cx="355.3" cy="728.4" r="4.75"/><circle cx="440.5" cy="726.5" r="4.75"/><circle cx="444.8" cy="726.5" r="4.75"/><circle cx="358.5" cy="726.5" r="4.75"/><circle cx="455.6" cy="724.5" r="4.75"/><circle cx="458.9" cy="724.5" r="4.75"/><circle cx="462.1" cy="724.5" r="4.75"/><circle cx="354.7" cy="724.5" r="4.75"/></g>
</g>
<clipPath id="c240"><rect x="1027" y="416.9" width="202.9" height="126.1"/></clipPath>
<g clip-path="url(#c240)">
<path d="M1116.3 511.3 1116.6 513.3 1117.8 515.3 1120.2 516.9 1122.7 517.2 1123.7 519.5 1125.4 521.1 1127.6 521.9 1129.9 521.8 1131.2 523.1 1133.3 524.1 1136.2 524.1 1138.5 526.1 1141.8 526.6 1142.9 528.2 1144.7 529.6 1146.4 530.1 1148.7 530 1150.5 531.7 1152.7 532.5 1154.4 532.5 1156.2 531.9 1157.8 532.8 1159.5 533.1 1162.5 532.5 1164.1 533.4 1165.8 533.7 1167.5 533.5 1169.2 532.8 1170.9 533.5 1172.6 533.7 1175.5 532.8 1178.3 533.7 1180.1 533.5 1181.7 532.8 1183.4 533.5 1185.2 533.7 1188 532.8 1190.8 533.7 1192.6 533.5 1194.3 532.8 1195.9 533.5 1197.7 533.7 1200.5 532.8 1202.2 533.5 1203.9 533.7 1206.2 533.1 1207.7 532.1 1209.6 532.5 1211.4 532.4 1214 530.9 1216.5 531.4 1219.3 530.5 1222.2 531.4 1224.4 531 1226.4 529.8 1227.7 527.9 1228.2 525.6 1228.2 436.8 1227.7 434.5 1226.4 432.6 1224.4 431.4 1221 431.2 1219.2 429.5 1216.5 428.6 1214.7 428.8 1213 429.5 1210.2 428.6 1208.5 428.8 1206.8 429.5 1204 428.6 1202.2 428.8 1200.5 429.5 1198.8 428.8 1197.1 428.6 1194.9 429.2 1193.3 430.2 1190.8 429.8 1188 430.7 1186.3 430 1184 429.9 1182.3 430.4 1180.8 431.4 1177.7 431.1 1176 431.6 1174.5 432.6 1172 432.2 1169.2 433.1 1166.4 432.2 1164.6 432.4 1162.9 433.1 1161.2 432.4 1158.9 432.2 1156.7 433 1155 434.7 1152.1 434.7 1149.5 436.1 1147.6 435.7 1145.8 435.9 1143.8 436.9 1142.4 438.2 1140.2 438.1 1138.5 438.7 1136.2 440.6 1133.9 440.5 1132.2 441 1129.9 443 1128.2 442.8 1126.5 443.1 1124.5 444.3 1123 446.4 1120.8 446.5 1118.7 447.5 1117.1 449.2 1116.4 451.1 1114 451.4 1111.6 453 1110.6 454.5 1110 456.7 1110.1 506.2 1110.9 508.4 1112.4 510.1 1114.5 511.1ZM1074.3 455 1071.8 454.6 1069.1 455.4 1067.4 457 1066.2 459.7 1066.2 508.9 1066.5 510.9 1068.1 513.3 1070.7 514.7 1073 514.8 1075.3 514 1077.5 514.8 1079.5 514.7 1081.1 516.6 1083.8 517.7 1086.1 517.6 1088.3 516.6 1090.6 517.2 1092.7 516.9 1094.1 518.1 1096.3 518.9 1099.2 518.6 1100.7 517.8 1102 516.6 1102.8 515 1103.1 513.3 1103.1 457 1102.8 455 1102 453.4 1100.3 451.9 1098.6 451.2 1096.9 451.1 1094.7 451.6 1093.1 452.7 1090.6 452.2 1087.8 453.1 1086.1 452.4 1083.8 452.3 1082.1 452.8 1080.6 453.8 1078.7 453.4 1076.9 453.6ZM1042.2 461.8 1039.4 461.8 1037.3 462.8 1035.7 464.5 1034.9 466.7 1034.9 497.1 1035.4 499.6 1036.4 501.1 1037.8 502.2 1039.9 503 1042.2 502.9 1043.6 504.2 1045.6 505.2 1049.8 505.4 1051.3 506.2 1053 506.6 1055.5 506.2 1057.1 507.2 1058.7 507.7 1060.5 507.7 1062.1 507.2 1064.4 505.4 1065.2 503.8 1065.6 502.1 1065.6 461.7 1065 459.2 1063.6 457.3 1061 455.9 1058.2 455.9 1055.5 457.4 1051.7 455.9 1049.4 455.8 1047.7 456.3 1046.2 457.3 1044.6 459.9Z"/>
<g class="r"><circle cx="1034.6" cy="506" r="4.75"/><circle cx="1034.6" cy="504.5" r="4.75"/><circle cx="1034.6" cy="502.1" r="4.75"/><circle cx="1034.6" cy="500.2" r="4.75"/><circle cx="1034.6" cy="497.4" r="4.75"/><circle cx="1034.6" cy="494.8" r="4.75"/><circle cx="1034.6" cy="492" r="4.75"/><circle cx="1034.6" cy="490.3" r="4.75"/><circle cx="1034.6" cy="487.4" r="4.75"/><circle cx="1034.6" cy="467.1" r="4.75"/><circle cx="1034.6" cy="469" r="4.75"/><circle cx="1034.6" cy="471.2" r="4.75"/><circle cx="1034.6" cy="472.7" r="4.75"/><circle cx="1034.6" cy="475.3" r="4.75"/><circle cx="1034.6" cy="478" r="4.75"/><circle cx="1034.6" cy="481.4" r="4.75"/><circle cx="1034.6" cy="483.2" r="4.75"/><circle cx="1040.8" cy="507.1" r="4.75"/><circle cx="1040.8" cy="503.8" r="4.75"/><circle cx="1040.8" cy="502.3" r="4.75"/><circle cx="1040.8" cy="499.4" r="4.75"/><circle cx="1040.8" cy="463" r="4.75"/><circle cx="1040.8" cy="466.1" r="4.75"/><circle cx="1047.1" cy="506.5" r="4.75"/><circle cx="1047.1" cy="503.4" r="4.75"/><circle cx="1047.1" cy="501.3" r="4.75"/><circle cx="1047.1" cy="461" r="4.75"/><circle cx="1047.1" cy="462.7" r="4.75"/><circle cx="1050.2" cy="450.3" r="4.75"/><circle cx="1050.2" cy="505.4" r="4.75"/><circle cx="1050.2" cy="504.5" r="4.75"/><circle cx="1050.2" cy="502" r="4.75"/><circle cx="1050.2" cy="456.9" r="4.75"/><circle cx="1050.2" cy="459.7" r="4.75"/><circle cx="1053.3" cy="452.3" r="4.75"/><circle cx="1053.3" cy="505.6" r="4.75"/><circle cx="1053.3" cy="503.2" r="4.75"/><circle cx="1053.3" cy="457.9" r="4.75"/><circle cx="1053.3" cy="460.9" r="4.75"/><circle cx="1059.6" cy="453.5" r="4.75"/><circle cx="1059.6" cy="505.9" r="4.75"/><circle cx="1059.6" cy="502.6" r="4.75"/><circle cx="1059.6" cy="457.3" r="4.75"/><circle cx="1059.6" cy="458.6" r="4.75"/><circle cx="1072.1" cy="520.7" r="4.75"/><circle cx="1072.1" cy="513.5" r="4.75"/><circle cx="1072.1" cy="510.9" r="4.75"/><circle cx="1072.1" cy="456.1" r="4.75"/><circle cx="1072.1" cy="457.6" r="4.75"/><circle cx="1078.4" cy="520.7" r="4.75"/><circle cx="1078.4" cy="452.3" r="4.75"/><circle cx="1078.4" cy="514.3" r="4.75"/><circle cx="1078.4" cy="511.8" r="4.75"/><circle cx="1078.4" cy="455.3" r="4.75"/><circle cx="1078.4" cy="456.7" r="4.75"/><circle cx="1084.7" cy="449.9" r="4.75"/><circle cx="1084.7" cy="439.3" r="4.75"/><circle cx="1084.7" cy="515.6" r="4.75"/><circle cx="1084.7" cy="514.1" r="4.75"/><circle cx="1084.7" cy="453.6" r="4.75"/><circle cx="1084.7" cy="455.3" r="4.75"/><circle cx="1090.9" cy="449.9" r="4.75"/><circle cx="1090.9" cy="515.8" r="4.75"/><circle cx="1090.9" cy="514.3" r="4.75"/><circle cx="1090.9" cy="453.9" r="4.75"/><circle cx="1090.9" cy="456.4" r="4.75"/><circle cx="1097.2" cy="448.7" r="4.75"/><circle cx="1097.2" cy="446.4" r="4.75"/><circle cx="1097.2" cy="517.8" r="4.75"/><circle cx="1097.2" cy="514.9" r="4.75"/><circle cx="1097.2" cy="453" r="4.75"/><circle cx="1097.2" cy="453.9" r="4.75"/><circle cx="1116" cy="523" r="4.75"/><circle cx="1116" cy="437" r="4.75"/><circle cx="1116" cy="509" r="4.75"/><circle cx="1116" cy="506.5" r="4.75"/><circle cx="1116" cy="452" r="4.75"/><circle cx="1116" cy="454.2" r="4.75"/><circle cx="1122.2" cy="441.7" r="4.75"/><circle cx="1122.2" cy="437.3" r="4.75"/><circle cx="1122.2" cy="515.4" r="4.75"/><circle cx="1122.2" cy="513.8" r="4.75"/><circle cx="1122.2" cy="446.7" r="4.75"/><circle cx="1122.2" cy="448.9" r="4.75"/><circle cx="1122.2" cy="451.9" r="4.75"/><circle cx="1128.5" cy="526.6" r="4.75"/><circle cx="1128.5" cy="437" r="4.75"/><circle cx="1128.5" cy="431.1" r="4.75"/><circle cx="1128.5" cy="522" r="4.75"/><circle cx="1128.5" cy="519.2" r="4.75"/><circle cx="1128.5" cy="516.4" r="4.75"/><circle cx="1128.5" cy="442.4" r="4.75"/><circle cx="1128.5" cy="444.9" r="4.75"/><circle cx="1128.5" cy="447.4" r="4.75"/><circle cx="1134.8" cy="526.6" r="4.75"/><circle cx="1134.8" cy="435.8" r="4.75"/><circle cx="1134.8" cy="431.1" r="4.75"/><circle cx="1134.8" cy="523.8" r="4.75"/><circle cx="1134.8" cy="521" r="4.75"/><circle cx="1134.8" cy="440.7" r="4.75"/><circle cx="1134.8" cy="442.6" r="4.75"/><circle cx="1134.8" cy="445.9" r="4.75"/><circle cx="1141" cy="526.6" r="4.75"/><circle cx="1141" cy="434.6" r="4.75"/><circle cx="1141" cy="431.1" r="4.75"/><circle cx="1141" cy="525.6" r="4.75"/><circle cx="1141" cy="523" r="4.75"/><circle cx="1141" cy="437.7" r="4.75"/><circle cx="1141" cy="440" r="4.75"/><circle cx="1141" cy="442.7" r="4.75"/><circle cx="1147.3" cy="538.4" r="4.75"/><circle cx="1147.3" cy="533.7" r="4.75"/><circle cx="1147.3" cy="433.4" r="4.75"/><circle cx="1147.3" cy="530.7" r="4.75"/><circle cx="1147.3" cy="527.3" r="4.75"/><circle cx="1147.3" cy="524.7" r="4.75"/><circle cx="1147.3" cy="435.7" r="4.75"/><circle cx="1147.3" cy="438.4" r="4.75"/><circle cx="1147.3" cy="440.5" r="4.75"/><circle cx="1153.5" cy="533.7" r="4.75"/><circle cx="1153.5" cy="431.1" r="4.75"/><circle cx="1153.5" cy="425.2" r="4.75"/><circle cx="1153.5" cy="531.9" r="4.75"/><circle cx="1153.5" cy="528.6" r="4.75"/><circle cx="1153.5" cy="433.8" r="4.75"/><circle cx="1153.5" cy="436.9" r="4.75"/><circle cx="1153.5" cy="439" r="4.75"/><circle cx="1159.8" cy="429.3" r="4.75"/><circle cx="1159.8" cy="531.9" r="4.75"/><circle cx="1159.8" cy="530.6" r="4.75"/><circle cx="1159.8" cy="527" r="4.75"/><circle cx="1159.8" cy="432" r="4.75"/><circle cx="1159.8" cy="435.1" r="4.75"/><circle cx="1159.8" cy="437.6" r="4.75"/><circle cx="1166.1" cy="534.8" r="4.75"/><circle cx="1166.1" cy="429.3" r="4.75"/><circle cx="1166.1" cy="534.1" r="4.75"/><circle cx="1166.1" cy="531.2" r="4.75"/><circle cx="1166.1" cy="528.6" r="4.75"/><circle cx="1166.1" cy="432.5" r="4.75"/><circle cx="1166.1" cy="433.9" r="4.75"/><circle cx="1166.1" cy="437.2" r="4.75"/><circle cx="1172.3" cy="428.7" r="4.75"/><circle cx="1172.3" cy="533.7" r="4.75"/><circle cx="1172.3" cy="531.9" r="4.75"/><circle cx="1172.3" cy="528.2" r="4.75"/><circle cx="1172.3" cy="432.8" r="4.75"/><circle cx="1172.3" cy="433.9" r="4.75"/><circle cx="1172.3" cy="436.9" r="4.75"/><circle cx="1178.6" cy="538.4" r="4.75"/><circle cx="1178.6" cy="536.6" r="4.75"/><circle cx="1178.6" cy="428.7" r="4.75"/><circle cx="1178.6" cy="424.6" r="4.75"/><circle cx="1178.6" cy="534.7" r="4.75"/><circle cx="1178.6" cy="532.4" r="4.75"/><circle cx="1178.6" cy="530.5" r="4.75"/><circle cx="1178.6" cy="430.4" r="4.75"/><circle cx="1178.6" cy="432.6" r="4.75"/><circle cx="1178.6" cy="435.2" r="4.75"/><circle cx="1184.9" cy="427.5" r="4.75"/><circle cx="1184.9" cy="424.6" r="4.75"/><circle cx="1184.9" cy="533.5" r="4.75"/><circle cx="1184.9" cy="531.9" r="4.75"/><circle cx="1184.9" cy="528.4" r="4.75"/><circle cx="1184.9" cy="431.4" r="4.75"/><circle cx="1184.9" cy="432.8" r="4.75"/><circle cx="1188" cy="442.8" r="4.75"/><circle cx="1188" cy="518.8" r="4.75"/><circle cx="1188" cy="515.9" r="4.75"/><circle cx="1188" cy="447" r="4.75"/><circle cx="1188" cy="450.4" r="4.75"/><circle cx="1191.1" cy="426.3" r="4.75"/><circle cx="1191.1" cy="424" r="4.75"/><circle cx="1191.1" cy="532.4" r="4.75"/><circle cx="1191.1" cy="530.8" r="4.75"/><circle cx="1191.1" cy="430.6" r="4.75"/><circle cx="1191.1" cy="432.8" r="4.75"/><circle cx="1191.1" cy="433.8" r="4.75"/><circle cx="1194.3" cy="442.8" r="4.75"/><circle cx="1194.3" cy="517.6" r="4.75"/><circle cx="1194.3" cy="515.7" r="4.75"/><circle cx="1194.3" cy="447.9" r="4.75"/><circle cx="1194.3" cy="449.6" r="4.75"/><circle cx="1197.4" cy="426.3" r="4.75"/><circle cx="1197.4" cy="421.6" r="4.75"/><circle cx="1197.4" cy="532.1" r="4.75"/><circle cx="1197.4" cy="530.3" r="4.75"/><circle cx="1197.4" cy="429.7" r="4.75"/><circle cx="1197.4" cy="431.7" r="4.75"/><circle cx="1200.5" cy="442.8" r="4.75"/><circle cx="1200.5" cy="516.8" r="4.75"/><circle cx="1200.5" cy="514.1" r="4.75"/><circle cx="1200.5" cy="447.6" r="4.75"/><circle cx="1200.5" cy="450.5" r="4.75"/><circle cx="1203.6" cy="426.3" r="4.75"/><circle cx="1203.6" cy="421.6" r="4.75"/><circle cx="1203.6" cy="532.7" r="4.75"/><circle cx="1203.6" cy="530" r="4.75"/><circle cx="1203.6" cy="430.4" r="4.75"/><circle cx="1203.6" cy="432.2" r="4.75"/><circle cx="1206.8" cy="442.8" r="4.75"/><circle cx="1206.8" cy="516.4" r="4.75"/><circle cx="1206.8" cy="513.5" r="4.75"/><circle cx="1206.8" cy="447.8" r="4.75"/><circle cx="1206.8" cy="449.7" r="4.75"/><circle cx="1209.9" cy="426.3" r="4.75"/><circle cx="1209.9" cy="421.6" r="4.75"/><circle cx="1209.9" cy="532.1" r="4.75"/><circle cx="1209.9" cy="528.7" r="4.75"/><circle cx="1209.9" cy="430.5" r="4.75"/><circle cx="1209.9" cy="431.5" r="4.75"/><circle cx="1213" cy="442.8" r="4.75"/><circle cx="1213" cy="515.8" r="4.75"/><circle cx="1213" cy="513.7" r="4.75"/><circle cx="1213" cy="447.7" r="4.75"/><circle cx="1213" cy="449.7" r="4.75"/><circle cx="1216.2" cy="427.5" r="4.75"/><circle cx="1216.2" cy="424" r="4.75"/><circle cx="1216.2" cy="529.8" r="4.75"/><circle cx="1216.2" cy="527.3" r="4.75"/><circle cx="1216.2" cy="429.5" r="4.75"/><circle cx="1216.2" cy="432.3" r="4.75"/><circle cx="1219.3" cy="442.8" r="4.75"/><circle cx="1219.3" cy="515.2" r="4.75"/><circle cx="1219.3" cy="513.1" r="4.75"/><circle cx="1219.3" cy="447" r="4.75"/><circle cx="1219.3" cy="450.1" r="4.75"/><circle cx="1222.4" cy="531.9" r="4.75"/><circle cx="1222.4" cy="429.9" r="4.75"/><circle cx="1222.4" cy="530.2" r="4.75"/><circle cx="1222.4" cy="527.7" r="4.75"/><circle cx="1222.4" cy="431.6" r="4.75"/><circle cx="1222.4" cy="434.5" r="4.75"/></g>
</g>
<clipPath id="c241"><rect x="570.5" y="719.8" width="202.9" height="126.1"/></clipPath>
<g clip-path="url(#c241)">
<path d="M589.1 757.6 588.8 760.3 589.8 762.9 589.8 764.2 590.7 766.8 591.1 769.5 592.3 771.5 594.8 773.1 596.1 775.4 598.2 776.9 600.6 777.4 601.8 779.3 604.3 780.9 605.6 783.2 608.1 784.8 608.7 786.2 610.6 788 612.9 789 615.8 789.1 617 791 619.5 792.6 625.3 793 626.5 794.8 628.3 796.2 617.9 796.3 615.8 796.9 614.1 798.2 612.9 800.2 612.5 803.1 613.5 805.7 615.1 807.4 614.4 809.4 614.8 812.3 616.6 814.9 619.4 816.2 619.2 818.7 619.5 820.1 621.4 822.7 624.6 824 630.8 824.1 630.6 826.5 630.9 827.9 632.5 830.2 632.8 831.8 634.4 834.1 635.3 836.8 636.6 838.2 638.4 839.3 639.1 840.7 640.4 842.1 642.3 843.2 644.3 843.6 693.2 843.5 696 842.1 697.3 840.7 698 839.3 700.4 837.7 702.9 837.6 705 836.7 706.2 835.7 707.4 833.7 707.7 830.8 707 828.6 707.7 826.5 707.7 824.9 707.1 822.9 708.7 821.2 709.6 818.5 711.2 816.2 711.5 814.6 713.1 812.3 713.4 810.9 713.1 808.2 713.4 806.8 714.4 805.7 715.3 803.1 715.3 801.6 714.4 799 713.1 797.6 711.1 796.5 713.1 795.4 714.9 793 717.5 792.9 719.2 792.4 721.3 791 722.5 789.1 724.5 788.7 726.4 787.6 727.7 786.2 728.3 784.8 730.8 783.2 732.1 780.9 734.6 779.3 735.9 777 738.4 775.4 739.6 773.4 740 771.8 741.6 769.2 744.1 767.6 745.3 765.6 745.7 764.2 745.4 761.5 745.7 756.2 746.7 755.1 747.6 752.3 749.1 750.1 749.5 748.6 749.2 745.9 749.5 744.5 750.5 743.4 751.4 740.9 751.1 738.1 751.4 737 751.1 734.2 751.4 727.6 750.4 725.1 749.2 723.7 747.3 722.6 746.1 720.5 744.1 719 741.6 718.5 598.6 718.5 596.1 719 594.1 720.5 592.8 722.7 592.6 727.9 591.1 730.1 590.7 731.7 589.8 732.9 588.8 735.4 589.1 742 588.8 744.7 589.1 745.9 588.8 748.6 589.1 749.8 588.8 752.5 589.1 753.7 588.8 756.4Z"/>
<g class="r"><circle cx="630.2" cy="841.3" r="4.75"/><circle cx="632.6" cy="841.3" r="4.75"/><circle cx="636.4" cy="841.3" r="4.75"/><circle cx="639.6" cy="841.3" r="4.75"/><circle cx="644" cy="841.3" r="4.75"/><circle cx="648.2" cy="841.3" r="4.75"/><circle cx="652.6" cy="841.3" r="4.75"/><circle cx="655.5" cy="841.3" r="4.75"/><circle cx="660.2" cy="841.3" r="4.75"/><circle cx="692.8" cy="841.3" r="4.75"/><circle cx="689.7" cy="841.3" r="4.75"/><circle cx="686.1" cy="841.3" r="4.75"/><circle cx="683.7" cy="841.3" r="4.75"/><circle cx="679.5" cy="841.3" r="4.75"/><circle cx="675.3" cy="841.3" r="4.75"/><circle cx="669.8" cy="841.3" r="4.75"/><circle cx="666.9" cy="841.3" r="4.75"/><circle cx="628.4" cy="837.4" r="4.75"/><circle cx="633.7" cy="837.4" r="4.75"/><circle cx="636.2" cy="837.4" r="4.75"/><circle cx="640.9" cy="837.4" r="4.75"/><circle cx="699.4" cy="837.4" r="4.75"/><circle cx="694.4" cy="837.4" r="4.75"/><circle cx="629.3" cy="833.5" r="4.75"/><circle cx="634.4" cy="833.5" r="4.75"/><circle cx="637.7" cy="833.5" r="4.75"/><circle cx="702.5" cy="833.5" r="4.75"/><circle cx="699.8" cy="833.5" r="4.75"/><circle cx="719.8" cy="831.6" r="4.75"/><circle cx="631.2" cy="831.6" r="4.75"/><circle cx="632.5" cy="831.6" r="4.75"/><circle cx="636.6" cy="831.6" r="4.75"/><circle cx="709.1" cy="831.6" r="4.75"/><circle cx="704.7" cy="831.6" r="4.75"/><circle cx="716.6" cy="829.6" r="4.75"/><circle cx="630.8" cy="829.6" r="4.75"/><circle cx="634.7" cy="829.6" r="4.75"/><circle cx="707.6" cy="829.6" r="4.75"/><circle cx="702.7" cy="829.6" r="4.75"/><circle cx="714.7" cy="825.7" r="4.75"/><circle cx="630.4" cy="825.7" r="4.75"/><circle cx="635.6" cy="825.7" r="4.75"/><circle cx="708.6" cy="825.7" r="4.75"/><circle cx="706.4" cy="825.7" r="4.75"/><circle cx="606.5" cy="817.9" r="4.75"/><circle cx="618.1" cy="817.9" r="4.75"/><circle cx="622.3" cy="817.9" r="4.75"/><circle cx="710.5" cy="817.9" r="4.75"/><circle cx="708" cy="817.9" r="4.75"/><circle cx="606.5" cy="814" r="4.75"/><circle cx="716.6" cy="814" r="4.75"/><circle cx="616.8" cy="814" r="4.75"/><circle cx="620.8" cy="814" r="4.75"/><circle cx="711.7" cy="814" r="4.75"/><circle cx="709.5" cy="814" r="4.75"/><circle cx="720.4" cy="810.1" r="4.75"/><circle cx="737.5" cy="810.1" r="4.75"/><circle cx="614.7" cy="810.1" r="4.75"/><circle cx="617.1" cy="810.1" r="4.75"/><circle cx="714.4" cy="810.1" r="4.75"/><circle cx="711.8" cy="810.1" r="4.75"/><circle cx="720.4" cy="806.3" r="4.75"/><circle cx="614.4" cy="806.3" r="4.75"/><circle cx="616.8" cy="806.3" r="4.75"/><circle cx="714" cy="806.3" r="4.75"/><circle cx="710" cy="806.3" r="4.75"/><circle cx="722.3" cy="802.4" r="4.75"/><circle cx="726.1" cy="802.4" r="4.75"/><circle cx="611.2" cy="802.4" r="4.75"/><circle cx="615.8" cy="802.4" r="4.75"/><circle cx="715.5" cy="802.4" r="4.75"/><circle cx="713.9" cy="802.4" r="4.75"/><circle cx="602.7" cy="790.7" r="4.75"/><circle cx="741.3" cy="790.7" r="4.75"/><circle cx="625.3" cy="790.7" r="4.75"/><circle cx="629.3" cy="790.7" r="4.75"/><circle cx="717" cy="790.7" r="4.75"/><circle cx="713.5" cy="790.7" r="4.75"/><circle cx="733.7" cy="786.8" r="4.75"/><circle cx="740.7" cy="786.8" r="4.75"/><circle cx="615" cy="786.8" r="4.75"/><circle cx="617.6" cy="786.8" r="4.75"/><circle cx="725.6" cy="786.8" r="4.75"/><circle cx="722.1" cy="786.8" r="4.75"/><circle cx="717.2" cy="786.8" r="4.75"/><circle cx="597" cy="782.9" r="4.75"/><circle cx="741.3" cy="782.9" r="4.75"/><circle cx="750.8" cy="782.9" r="4.75"/><circle cx="604.4" cy="782.9" r="4.75"/><circle cx="609" cy="782.9" r="4.75"/><circle cx="613.5" cy="782.9" r="4.75"/><circle cx="732.5" cy="782.9" r="4.75"/><circle cx="728.4" cy="782.9" r="4.75"/><circle cx="724.5" cy="782.9" r="4.75"/><circle cx="597" cy="779" r="4.75"/><circle cx="743.2" cy="779" r="4.75"/><circle cx="750.8" cy="779" r="4.75"/><circle cx="601.5" cy="779" r="4.75"/><circle cx="606.1" cy="779" r="4.75"/><circle cx="735.2" cy="779" r="4.75"/><circle cx="732.2" cy="779" r="4.75"/><circle cx="726.9" cy="779" r="4.75"/><circle cx="597" cy="775.1" r="4.75"/><circle cx="745.1" cy="775.1" r="4.75"/><circle cx="750.8" cy="775.1" r="4.75"/><circle cx="598.6" cy="775.1" r="4.75"/><circle cx="602.8" cy="775.1" r="4.75"/><circle cx="740.1" cy="775.1" r="4.75"/><circle cx="736.4" cy="775.1" r="4.75"/><circle cx="732.1" cy="775.1" r="4.75"/><circle cx="578.1" cy="771.2" r="4.75"/><circle cx="585.7" cy="771.2" r="4.75"/><circle cx="747" cy="771.2" r="4.75"/><circle cx="590.4" cy="771.2" r="4.75"/><circle cx="595.8" cy="771.2" r="4.75"/><circle cx="600" cy="771.2" r="4.75"/><circle cx="743.3" cy="771.2" r="4.75"/><circle cx="739" cy="771.2" r="4.75"/><circle cx="735.6" cy="771.2" r="4.75"/><circle cx="585.7" cy="767.3" r="4.75"/><circle cx="750.8" cy="767.3" r="4.75"/><circle cx="760.2" cy="767.3" r="4.75"/><circle cx="588.5" cy="767.3" r="4.75"/><circle cx="593.8" cy="767.3" r="4.75"/><circle cx="746.4" cy="767.3" r="4.75"/><circle cx="741.3" cy="767.3" r="4.75"/><circle cx="738" cy="767.3" r="4.75"/><circle cx="753.6" cy="763.4" r="4.75"/><circle cx="588.4" cy="763.4" r="4.75"/><circle cx="590.5" cy="763.4" r="4.75"/><circle cx="596.3" cy="763.4" r="4.75"/><circle cx="749.2" cy="763.4" r="4.75"/><circle cx="744.3" cy="763.4" r="4.75"/><circle cx="740.2" cy="763.4" r="4.75"/><circle cx="583.8" cy="759.5" r="4.75"/><circle cx="753.6" cy="759.5" r="4.75"/><circle cx="585" cy="759.5" r="4.75"/><circle cx="589.7" cy="759.5" r="4.75"/><circle cx="593.8" cy="759.5" r="4.75"/><circle cx="748.4" cy="759.5" r="4.75"/><circle cx="746.2" cy="759.5" r="4.75"/><circle cx="740.9" cy="759.5" r="4.75"/><circle cx="754.6" cy="755.7" r="4.75"/><circle cx="585.6" cy="755.7" r="4.75"/><circle cx="588.4" cy="755.7" r="4.75"/><circle cx="594.5" cy="755.7" r="4.75"/><circle cx="747.9" cy="755.7" r="4.75"/><circle cx="746.1" cy="755.7" r="4.75"/><circle cx="741.4" cy="755.7" r="4.75"/><circle cx="578.1" cy="751.8" r="4.75"/><circle cx="580.9" cy="751.8" r="4.75"/><circle cx="754.6" cy="751.8" r="4.75"/><circle cx="761.2" cy="751.8" r="4.75"/><circle cx="583.9" cy="751.8" r="4.75"/><circle cx="587.7" cy="751.8" r="4.75"/><circle cx="590.7" cy="751.8" r="4.75"/><circle cx="751.8" cy="751.8" r="4.75"/><circle cx="748.3" cy="751.8" r="4.75"/><circle cx="744" cy="751.8" r="4.75"/><circle cx="756.4" cy="747.9" r="4.75"/><circle cx="761.2" cy="747.9" r="4.75"/><circle cx="585.9" cy="747.9" r="4.75"/><circle cx="588.4" cy="747.9" r="4.75"/><circle cx="594.1" cy="747.9" r="4.75"/><circle cx="750.2" cy="747.9" r="4.75"/><circle cx="748" cy="747.9" r="4.75"/><circle cx="731.8" cy="745.9" r="4.75"/><circle cx="609.6" cy="745.9" r="4.75"/><circle cx="614.3" cy="745.9" r="4.75"/><circle cx="725.1" cy="745.9" r="4.75"/><circle cx="719.6" cy="745.9" r="4.75"/><circle cx="758.3" cy="744" r="4.75"/><circle cx="762.1" cy="744" r="4.75"/><circle cx="587.7" cy="744" r="4.75"/><circle cx="590.2" cy="744" r="4.75"/><circle cx="751.4" cy="744" r="4.75"/><circle cx="748" cy="744" r="4.75"/><circle cx="746.4" cy="744" r="4.75"/><circle cx="731.8" cy="742" r="4.75"/><circle cx="611.5" cy="742" r="4.75"/><circle cx="614.5" cy="742" r="4.75"/><circle cx="723.7" cy="742" r="4.75"/><circle cx="720.8" cy="742" r="4.75"/><circle cx="758.3" cy="740.1" r="4.75"/><circle cx="765.9" cy="740.1" r="4.75"/><circle cx="588.2" cy="740.1" r="4.75"/><circle cx="591" cy="740.1" r="4.75"/><circle cx="752.9" cy="740.1" r="4.75"/><circle cx="749.7" cy="740.1" r="4.75"/><circle cx="731.8" cy="738.1" r="4.75"/><circle cx="612.8" cy="738.1" r="4.75"/><circle cx="617.1" cy="738.1" r="4.75"/><circle cx="724.1" cy="738.1" r="4.75"/><circle cx="719.4" cy="738.1" r="4.75"/><circle cx="758.3" cy="736.2" r="4.75"/><circle cx="765.9" cy="736.2" r="4.75"/><circle cx="587.2" cy="736.2" r="4.75"/><circle cx="591.5" cy="736.2" r="4.75"/><circle cx="751.8" cy="736.2" r="4.75"/><circle cx="748.9" cy="736.2" r="4.75"/><circle cx="731.8" cy="734.2" r="4.75"/><circle cx="613.5" cy="734.2" r="4.75"/><circle cx="618.1" cy="734.2" r="4.75"/><circle cx="723.7" cy="734.2" r="4.75"/><circle cx="720.8" cy="734.2" r="4.75"/><circle cx="758.3" cy="732.3" r="4.75"/><circle cx="765.9" cy="732.3" r="4.75"/><circle cx="588.2" cy="732.3" r="4.75"/><circle cx="593.7" cy="732.3" r="4.75"/><circle cx="751.7" cy="732.3" r="4.75"/><circle cx="750.1" cy="732.3" r="4.75"/><circle cx="731.8" cy="730.4" r="4.75"/><circle cx="614.4" cy="730.4" r="4.75"/><circle cx="617.8" cy="730.4" r="4.75"/><circle cx="724" cy="730.4" r="4.75"/><circle cx="720.7" cy="730.4" r="4.75"/><circle cx="756.4" cy="728.4" r="4.75"/><circle cx="762.1" cy="728.4" r="4.75"/><circle cx="591.8" cy="728.4" r="4.75"/><circle cx="595.8" cy="728.4" r="4.75"/><circle cx="753.3" cy="728.4" r="4.75"/><circle cx="748.8" cy="728.4" r="4.75"/><circle cx="731.8" cy="726.5" r="4.75"/><circle cx="615.4" cy="726.5" r="4.75"/><circle cx="618.8" cy="726.5" r="4.75"/><circle cx="725.1" cy="726.5" r="4.75"/><circle cx="720.2" cy="726.5" r="4.75"/><circle cx="588.5" cy="724.5" r="4.75"/><circle cx="752.7" cy="724.5" r="4.75"/><circle cx="591.2" cy="724.5" r="4.75"/><circle cx="595.3" cy="724.5" r="4.75"/><circle cx="749.9" cy="724.5" r="4.75"/><circle cx="745.1" cy="724.5" r="4.75"/></g>
</g>
<clipPath id="c340"><rect x="1027" y="568.4" width="202.9" height="126.1"/></clipPath>
<g clip-path="url(#c340)">
<path d="M1116.3 630.1 1114 630.5 1112 631.7 1110.6 633.5 1110 635.8 1110 675.9 1110.4 677.6 1111.2 679.2 1113.4 681 1115.7 681.6 1118.1 681.2 1120.8 682.6 1124 682.5 1125.4 683.8 1127 684.5 1128.8 684.7 1130.7 684.2 1132.2 685.3 1133.9 685.8 1136.9 685.5 1138.5 686.6 1140.1 687.1 1143.2 686.7 1145.9 688.2 1149 688.1 1150.5 689.4 1152.1 690 1155.3 690 1156.7 691.2 1158.4 691.9 1160.1 692.1 1162 691.7 1163.5 692.7 1165.8 693.3 1167.5 693.1 1169.2 692.4 1170.9 693.1 1173.2 693.2 1175.7 692.2 1178.9 693 1181.7 692.1 1184.6 693 1186.3 692.8 1188 692.1 1190.8 693 1192.6 692.8 1194.3 692.1 1197.1 693 1198.8 692.8 1200.5 692.1 1203.4 693 1205.1 692.8 1206.8 692.1 1209.6 693 1211.4 692.8 1213 692.1 1214.7 692.8 1217 692.9 1219.6 691.9 1222.2 692.7 1224.4 692.3 1226.4 691.1 1227.7 689.2 1228.2 686.9 1228.2 612.4 1227.7 610.1 1226.4 608.2 1224.4 607 1221.6 606.7 1219.3 607.6 1217.6 606.8 1215.9 606.7 1213 607.6 1211.4 606.8 1209.6 606.7 1206.8 607.6 1205.1 606.8 1202.8 606.7 1201.1 607.2 1199.5 608.3 1197.7 607.9 1195.4 608.2 1192.8 610 1190.8 609.8 1189.1 610.1 1186.6 611.9 1184.6 611.6 1182.9 611.9 1181.3 612.8 1179.9 614.2 1177.2 614.2 1175 615.3 1172.6 614.7 1169.7 615.3 1168.1 614.4 1166.4 614.1 1164.6 614.3 1162.9 615 1161.2 614.2 1158.9 614.1 1157.3 614.6 1155.7 615.7 1152.7 615.4 1151 615.9 1149.4 617 1147.6 616.5 1145.8 616.7 1143.2 618.2 1141.3 617.8 1139.6 618 1136.9 619.4 1135.1 619 1133.3 619.2 1130.7 620.7 1128.8 620.3 1127.1 620.4 1125.4 621.1 1124 622.4 1120.8 622.3 1118.2 623.6 1117.1 625 1116.5 626.6ZM1073.9 630.4 1071.3 630.2 1069.1 631 1067 633 1066.3 635.2 1066.2 675.6 1066.8 678.2 1068.6 680.4 1071.3 681.5 1073 681.5 1074.8 681 1077.5 682.1 1079.3 682.1 1081 681.6 1083.8 682.7 1085.5 682.7 1087.3 682.2 1090.1 683.4 1091.8 683.4 1093.6 682.8 1095.2 683.7 1096.9 684 1099.7 683.5 1102 681.6 1102.8 680.1 1103.1 678.4 1103.1 637.3 1102.6 634.8 1101.2 632.9 1099.7 631.9 1097.5 631.4 1095 631.8 1093.5 630.7 1091.8 630.2 1090 630.2 1088.3 630.8 1085.5 629.6 1082.5 629.9 1080.4 628.6 1078.1 628.3 1075.8 628.9ZM1041.4 638.8 1039.4 639 1037.3 640 1035.7 641.7 1034.9 643.8 1034.9 674.4 1035.4 676.9 1036.8 678.8 1038.3 679.8 1040.5 680.3 1043 679.9 1044.5 681 1046.2 681.5 1048.5 681.4 1051.8 680.1 1054.8 680.2 1056.5 679.4 1059.3 680.3 1062.2 679.8 1064.4 677.9 1065.2 676.4 1065.6 674.7 1065.6 636.1 1065 633.5 1063.2 631.3 1061 630.3 1058.7 630.2 1056.5 631 1054.2 630.2 1051.9 630.3 1049.3 631.7 1047.6 634.5 1045.6 634.6 1043.5 635.6 1042.3 636.9Z"/>
<g class="r"><circle cx="1034.6" cy="640.4" r="4.75"/><circle cx="1034.6" cy="638.6" r="4.75"/><circle cx="1034.6" cy="678.1" r="4.75"/><circle cx="1034.6" cy="674.4" r="4.75"/><circle cx="1034.6" cy="672.6" r="4.75"/><circle cx="1034.6" cy="670.2" r="4.75"/><circle cx="1034.6" cy="669.1" r="4.75"/><circle cx="1034.6" cy="667.6" r="4.75"/><circle cx="1034.6" cy="664.8" r="4.75"/><circle cx="1034.6" cy="662.7" r="4.75"/><circle cx="1034.6" cy="661.1" r="4.75"/><circle cx="1034.6" cy="659.4" r="4.75"/><circle cx="1034.6" cy="643.2" r="4.75"/><circle cx="1034.6" cy="645.6" r="4.75"/><circle cx="1034.6" cy="647.1" r="4.75"/><circle cx="1034.6" cy="649.6" r="4.75"/><circle cx="1034.6" cy="651.4" r="4.75"/><circle cx="1034.6" cy="652.8" r="4.75"/><circle cx="1034.6" cy="654.6" r="4.75"/><circle cx="1034.6" cy="656.6" r="4.75"/><circle cx="1034.6" cy="658.9" r="4.75"/><circle cx="1040.8" cy="675.4" r="4.75"/><circle cx="1040.8" cy="641" r="4.75"/><circle cx="1040.8" cy="643.2" r="4.75"/><circle cx="1047.1" cy="677.1" r="4.75"/><circle cx="1047.1" cy="635.6" r="4.75"/><circle cx="1047.1" cy="637.7" r="4.75"/><circle cx="1047.1" cy="639.7" r="4.75"/><circle cx="1050.2" cy="675.1" r="4.75"/><circle cx="1050.2" cy="636.7" r="4.75"/><circle cx="1050.2" cy="639" r="4.75"/><circle cx="1053.3" cy="675.1" r="4.75"/><circle cx="1053.3" cy="630.6" r="4.75"/><circle cx="1053.3" cy="632" r="4.75"/><circle cx="1053.3" cy="634.6" r="4.75"/><circle cx="1059.6" cy="627.4" r="4.75"/><circle cx="1059.6" cy="675.3" r="4.75"/><circle cx="1059.6" cy="629.8" r="4.75"/><circle cx="1059.6" cy="631.2" r="4.75"/><circle cx="1059.6" cy="634.1" r="4.75"/><circle cx="1059.6" cy="635.1" r="4.75"/><circle cx="1072.1" cy="625" r="4.75"/><circle cx="1072.1" cy="620.9" r="4.75"/><circle cx="1072.1" cy="618.8" r="4.75"/><circle cx="1072.1" cy="615.1" r="4.75"/><circle cx="1072.1" cy="677.3" r="4.75"/><circle cx="1072.1" cy="630.5" r="4.75"/><circle cx="1072.1" cy="631.8" r="4.75"/><circle cx="1072.1" cy="634.9" r="4.75"/><circle cx="1078.4" cy="624.3" r="4.75"/><circle cx="1078.4" cy="615.1" r="4.75"/><circle cx="1078.4" cy="677.8" r="4.75"/><circle cx="1078.4" cy="627.7" r="4.75"/><circle cx="1078.4" cy="629.5" r="4.75"/><circle cx="1078.4" cy="631.7" r="4.75"/><circle cx="1078.4" cy="632.5" r="4.75"/><circle cx="1084.7" cy="677.7" r="4.75"/><circle cx="1084.7" cy="630" r="4.75"/><circle cx="1084.7" cy="631.9" r="4.75"/><circle cx="1084.7" cy="633.5" r="4.75"/><circle cx="1090.9" cy="679.3" r="4.75"/><circle cx="1090.9" cy="631.1" r="4.75"/><circle cx="1090.9" cy="631.9" r="4.75"/><circle cx="1090.9" cy="634.5" r="4.75"/><circle cx="1097.2" cy="627.4" r="4.75"/><circle cx="1097.2" cy="619.7" r="4.75"/><circle cx="1097.2" cy="682.7" r="4.75"/><circle cx="1097.2" cy="684.3" r="4.75"/><circle cx="1097.2" cy="679.3" r="4.75"/><circle cx="1097.2" cy="630.6" r="4.75"/><circle cx="1097.2" cy="632.4" r="4.75"/><circle cx="1097.2" cy="634.9" r="4.75"/><circle cx="1097.2" cy="637.1" r="4.75"/><circle cx="1116" cy="628.1" r="4.75"/><circle cx="1116" cy="677.1" r="4.75"/><circle cx="1116" cy="630" r="4.75"/><circle cx="1116" cy="631.9" r="4.75"/><circle cx="1116" cy="634.6" r="4.75"/><circle cx="1122.2" cy="618.2" r="4.75"/><circle cx="1122.2" cy="615.7" r="4.75"/><circle cx="1122.2" cy="677.7" r="4.75"/><circle cx="1122.2" cy="621.4" r="4.75"/><circle cx="1122.2" cy="623.1" r="4.75"/><circle cx="1122.2" cy="625.4" r="4.75"/><circle cx="1122.2" cy="626.3" r="4.75"/><circle cx="1128.5" cy="688.2" r="4.75"/><circle cx="1128.5" cy="683" r="4.75"/><circle cx="1128.5" cy="679.3" r="4.75"/><circle cx="1128.5" cy="620.4" r="4.75"/><circle cx="1128.5" cy="621.7" r="4.75"/><circle cx="1128.5" cy="624.1" r="4.75"/><circle cx="1128.5" cy="625.1" r="4.75"/><circle cx="1134.8" cy="681.8" r="4.75"/><circle cx="1134.8" cy="619.3" r="4.75"/><circle cx="1134.8" cy="620.3" r="4.75"/><circle cx="1134.8" cy="622.7" r="4.75"/><circle cx="1134.8" cy="623.8" r="4.75"/><circle cx="1141" cy="615.1" r="4.75"/><circle cx="1141" cy="604.6" r="4.75"/><circle cx="1141" cy="681.9" r="4.75"/><circle cx="1141" cy="617.9" r="4.75"/><circle cx="1141" cy="620.5" r="4.75"/><circle cx="1141" cy="621.6" r="4.75"/><circle cx="1147.3" cy="612.6" r="4.75"/><circle cx="1147.3" cy="604.6" r="4.75"/><circle cx="1147.3" cy="683.1" r="4.75"/><circle cx="1147.3" cy="617" r="4.75"/><circle cx="1147.3" cy="619.3" r="4.75"/><circle cx="1147.3" cy="621" r="4.75"/><circle cx="1153.5" cy="611.4" r="4.75"/><circle cx="1153.5" cy="604.6" r="4.75"/><circle cx="1153.5" cy="592.5" r="4.75"/><circle cx="1153.5" cy="685.8" r="4.75"/><circle cx="1153.5" cy="614.8" r="4.75"/><circle cx="1153.5" cy="617.3" r="4.75"/><circle cx="1153.5" cy="619.2" r="4.75"/><circle cx="1153.5" cy="621" r="4.75"/><circle cx="1159.8" cy="609.5" r="4.75"/><circle cx="1159.8" cy="603.6" r="4.75"/><circle cx="1159.8" cy="687.1" r="4.75"/><circle cx="1159.8" cy="614.1" r="4.75"/><circle cx="1159.8" cy="616.5" r="4.75"/><circle cx="1159.8" cy="618" r="4.75"/><circle cx="1166.1" cy="689.8" r="4.75"/><circle cx="1166.1" cy="611.4" r="4.75"/><circle cx="1166.1" cy="605.2" r="4.75"/><circle cx="1166.1" cy="587.6" r="4.75"/><circle cx="1166.1" cy="688.1" r="4.75"/><circle cx="1166.1" cy="614.3" r="4.75"/><circle cx="1166.1" cy="616.7" r="4.75"/><circle cx="1166.1" cy="618.4" r="4.75"/><circle cx="1172.3" cy="611.4" r="4.75"/><circle cx="1172.3" cy="688" r="4.75"/><circle cx="1172.3" cy="614.9" r="4.75"/><circle cx="1172.3" cy="617.2" r="4.75"/><circle cx="1172.3" cy="618.6" r="4.75"/><circle cx="1178.6" cy="609.5" r="4.75"/><circle cx="1178.6" cy="605.2" r="4.75"/><circle cx="1178.6" cy="688.5" r="4.75"/><circle cx="1178.6" cy="613.2" r="4.75"/><circle cx="1178.6" cy="615.8" r="4.75"/><circle cx="1178.6" cy="617.5" r="4.75"/><circle cx="1178.6" cy="619.4" r="4.75"/><circle cx="1184.9" cy="606.4" r="4.75"/><circle cx="1184.9" cy="595.6" r="4.75"/><circle cx="1184.9" cy="688.6" r="4.75"/><circle cx="1184.9" cy="611.2" r="4.75"/><circle cx="1184.9" cy="613.5" r="4.75"/><circle cx="1184.9" cy="615.4" r="4.75"/><circle cx="1184.9" cy="616.5" r="4.75"/><circle cx="1188" cy="681.1" r="4.75"/><circle cx="1188" cy="631.4" r="4.75"/><circle cx="1188" cy="632.7" r="4.75"/><circle cx="1188" cy="635.2" r="4.75"/><circle cx="1191.1" cy="603.3" r="4.75"/><circle cx="1191.1" cy="595.6" r="4.75"/><circle cx="1191.1" cy="688.3" r="4.75"/><circle cx="1191.1" cy="608.8" r="4.75"/><circle cx="1191.1" cy="611.2" r="4.75"/><circle cx="1191.1" cy="612.1" r="4.75"/><circle cx="1191.1" cy="613.8" r="4.75"/><circle cx="1194.3" cy="681.2" r="4.75"/><circle cx="1194.3" cy="631.2" r="4.75"/><circle cx="1194.3" cy="632.7" r="4.75"/><circle cx="1194.3" cy="635" r="4.75"/><circle cx="1197.4" cy="600.3" r="4.75"/><circle cx="1197.4" cy="592.5" r="4.75"/><circle cx="1197.4" cy="687.4" r="4.75"/><circle cx="1197.4" cy="606.4" r="4.75"/><circle cx="1197.4" cy="608.7" r="4.75"/><circle cx="1197.4" cy="610.1" r="4.75"/><circle cx="1197.4" cy="611.8" r="4.75"/><circle cx="1200.5" cy="680.7" r="4.75"/><circle cx="1200.5" cy="629.7" r="4.75"/><circle cx="1200.5" cy="631.4" r="4.75"/><circle cx="1200.5" cy="633.6" r="4.75"/><circle cx="1203.6" cy="599" r="4.75"/><circle cx="1203.6" cy="594.1" r="4.75"/><circle cx="1203.6" cy="583" r="4.75"/><circle cx="1203.6" cy="688" r="4.75"/><circle cx="1203.6" cy="604.7" r="4.75"/><circle cx="1203.6" cy="606.8" r="4.75"/><circle cx="1203.6" cy="608.9" r="4.75"/><circle cx="1203.6" cy="610.2" r="4.75"/><circle cx="1206.8" cy="681" r="4.75"/><circle cx="1206.8" cy="629.5" r="4.75"/><circle cx="1206.8" cy="632.2" r="4.75"/><circle cx="1206.8" cy="633.5" r="4.75"/><circle cx="1209.9" cy="600.3" r="4.75"/><circle cx="1209.9" cy="595.9" r="4.75"/><circle cx="1209.9" cy="573.1" r="4.75"/><circle cx="1209.9" cy="688.3" r="4.75"/><circle cx="1209.9" cy="605.3" r="4.75"/><circle cx="1209.9" cy="606.7" r="4.75"/><circle cx="1209.9" cy="608.5" r="4.75"/><circle cx="1209.9" cy="610.4" r="4.75"/><circle cx="1213" cy="680.9" r="4.75"/><circle cx="1213" cy="629.9" r="4.75"/><circle cx="1213" cy="632.1" r="4.75"/><circle cx="1213" cy="633.5" r="4.75"/><circle cx="1216.2" cy="599" r="4.75"/><circle cx="1216.2" cy="594.7" r="4.75"/><circle cx="1216.2" cy="573.1" r="4.75"/><circle cx="1216.2" cy="688" r="4.75"/><circle cx="1216.2" cy="605.8" r="4.75"/><circle cx="1216.2" cy="606.9" r="4.75"/><circle cx="1216.2" cy="608.6" r="4.75"/><circle cx="1216.2" cy="610.7" r="4.75"/><circle cx="1219.3" cy="680.1" r="4.75"/><circle cx="1219.3" cy="630.3" r="4.75"/><circle cx="1219.3" cy="632.2" r="4.75"/><circle cx="1219.3" cy="634.2" r="4.75"/><circle cx="1222.4" cy="601.5" r="4.75"/><circle cx="1222.4" cy="688" r="4.75"/><circle cx="1222.4" cy="606.5" r="4.75"/><circle cx="1222.4" cy="608.4" r="4.75"/><circle cx="1222.4" cy="610.4" r="4.75"/><circle cx="1222.4" cy="611.6" r="4.75"/></g>
</g>
<clipPath id="c341"><rect x="798.8" y="719.8" width="202.9" height="126.1"/></clipPath>
<g clip-path="url(#c341)">
<path d="M804.3 757.6 804 760.3 804.3 761.7 806 764.1 806.9 766.8 809.1 768.8 810.5 771.5 812.1 772.7 812.8 774.5 813.9 775.8 814.8 778.4 815.9 779.6 816.8 782.3 817.9 783.5 818.8 786.2 821 788.3 821.8 790.1 822.9 791.3 823.8 794 826.3 796.2 823 796.6 820.5 798.2 819.2 800.2 818.9 803.1 819.9 805.8 820.2 808.4 820.9 809.7 821.2 812.3 821.9 813.5 822.2 816.2 822.9 817.4 823.2 820.1 824.4 822.1 825.5 823 824.8 824.9 825.1 827.7 824.8 829 823.2 831.3 822.9 834.3 823.2 835.7 824.8 838 825.2 839.6 826.4 841.5 828.5 843 831 843.6 880.7 843.3 883 842.1 884.8 839.7 887.4 839.5 889.4 838.6 890.6 837.6 891.8 835.8 894.3 835.6 896.3 834.8 897.5 833.8 898.8 831.8 899.1 830.4 898.8 827.7 899.1 824.9 897.7 821.8 898.9 819.4 901.2 817.4 902.1 814.8 902.1 813.3 901.2 810.7 900.1 809.5 899.1 806.7 898.8 804.1 897.1 801.7 896.2 799 893.6 796.8 895.4 796.3 896.9 795.4 898.7 793 906.1 793 908.8 792.2 910.5 790.9 911.9 788.3 914.1 786.2 915 783.5 916.1 782.3 917 779.6 918.1 778.4 919 775.8 920.1 774.5 921 771.9 922 770.6 923 768 924.6 765.6 925 764.2 924.7 761.5 925 758.8 924 756.1 924 755.2 924.7 753.7 927.4 752 928.8 749.4 931 747.3 931.7 745.5 934 743.4 934.9 740.7 936.5 738.4 936.9 737 936.6 734.2 936.9 733.1 936.7 722.7 935.4 720.5 933.4 719 930.9 718.5 811 718.5 808.5 719 806.4 720.5 805.2 722.7 805.1 725.7 804.5 727.6 804.8 730.4 804.5 737 804.8 738.1 804.5 739.3 804.8 742 804.5 748.6 804.8 749.8 804.6 753 804 754.9Z"/>
<g class="r"><circle cx="885.8" cy="841.3" r="4.75"/><circle cx="888.8" cy="841.3" r="4.75"/><circle cx="825.2" cy="841.3" r="4.75"/><circle cx="831.2" cy="841.3" r="4.75"/><circle cx="834" cy="841.3" r="4.75"/><circle cx="838" cy="841.3" r="4.75"/><circle cx="839.7" cy="841.3" r="4.75"/><circle cx="842.2" cy="841.3" r="4.75"/><circle cx="846.5" cy="841.3" r="4.75"/><circle cx="849.9" cy="841.3" r="4.75"/><circle cx="852.5" cy="841.3" r="4.75"/><circle cx="855.2" cy="841.3" r="4.75"/><circle cx="881.4" cy="841.3" r="4.75"/><circle cx="877.5" cy="841.3" r="4.75"/><circle cx="875.1" cy="841.3" r="4.75"/><circle cx="871" cy="841.3" r="4.75"/><circle cx="868.2" cy="841.3" r="4.75"/><circle cx="865.8" cy="841.3" r="4.75"/><circle cx="863" cy="841.3" r="4.75"/><circle cx="859.8" cy="841.3" r="4.75"/><circle cx="856.1" cy="841.3" r="4.75"/><circle cx="829.6" cy="837.4" r="4.75"/><circle cx="884.9" cy="837.4" r="4.75"/><circle cx="881.3" cy="837.4" r="4.75"/><circle cx="826.8" cy="833.5" r="4.75"/><circle cx="893.6" cy="833.5" r="4.75"/><circle cx="890.3" cy="833.5" r="4.75"/><circle cx="886.9" cy="833.5" r="4.75"/><circle cx="830" cy="831.6" r="4.75"/><circle cx="891.8" cy="831.6" r="4.75"/><circle cx="888.2" cy="831.6" r="4.75"/><circle cx="829.9" cy="829.6" r="4.75"/><circle cx="901.6" cy="829.6" r="4.75"/><circle cx="899.4" cy="829.6" r="4.75"/><circle cx="895.2" cy="829.6" r="4.75"/><circle cx="906.7" cy="825.7" r="4.75"/><circle cx="829.7" cy="825.7" r="4.75"/><circle cx="902.9" cy="825.7" r="4.75"/><circle cx="900.6" cy="825.7" r="4.75"/><circle cx="895.9" cy="825.7" r="4.75"/><circle cx="894.4" cy="825.7" r="4.75"/><circle cx="910.7" cy="817.9" r="4.75"/><circle cx="917.1" cy="817.9" r="4.75"/><circle cx="920.6" cy="817.9" r="4.75"/><circle cx="926.6" cy="817.9" r="4.75"/><circle cx="826.4" cy="817.9" r="4.75"/><circle cx="901.8" cy="817.9" r="4.75"/><circle cx="899.7" cy="817.9" r="4.75"/><circle cx="894.7" cy="817.9" r="4.75"/><circle cx="911.7" cy="814" r="4.75"/><circle cx="926.6" cy="814" r="4.75"/><circle cx="825.7" cy="814" r="4.75"/><circle cx="906.3" cy="814" r="4.75"/><circle cx="903.4" cy="814" r="4.75"/><circle cx="899.8" cy="814" r="4.75"/><circle cx="898.6" cy="814" r="4.75"/><circle cx="825.9" cy="810.1" r="4.75"/><circle cx="902.5" cy="810.1" r="4.75"/><circle cx="899.5" cy="810.1" r="4.75"/><circle cx="896.9" cy="810.1" r="4.75"/><circle cx="823.3" cy="806.3" r="4.75"/><circle cx="900.8" cy="806.3" r="4.75"/><circle cx="899.6" cy="806.3" r="4.75"/><circle cx="895.4" cy="806.3" r="4.75"/><circle cx="906.7" cy="802.4" r="4.75"/><circle cx="919.1" cy="802.4" r="4.75"/><circle cx="817.8" cy="802.4" r="4.75"/><circle cx="815.3" cy="802.4" r="4.75"/><circle cx="823.2" cy="802.4" r="4.75"/><circle cx="901.7" cy="802.4" r="4.75"/><circle cx="898.8" cy="802.4" r="4.75"/><circle cx="894.7" cy="802.4" r="4.75"/><circle cx="891.2" cy="802.4" r="4.75"/><circle cx="905.7" cy="790.7" r="4.75"/><circle cx="826.8" cy="790.7" r="4.75"/><circle cx="902.6" cy="790.7" r="4.75"/><circle cx="899.6" cy="790.7" r="4.75"/><circle cx="895.1" cy="790.7" r="4.75"/><circle cx="921.6" cy="786.8" r="4.75"/><circle cx="925.6" cy="786.8" r="4.75"/><circle cx="825.9" cy="786.8" r="4.75"/><circle cx="916.3" cy="786.8" r="4.75"/><circle cx="913.6" cy="786.8" r="4.75"/><circle cx="910" cy="786.8" r="4.75"/><circle cx="908.5" cy="786.8" r="4.75"/><circle cx="809" cy="782.9" r="4.75"/><circle cx="817.2" cy="782.9" r="4.75"/><circle cx="823.3" cy="782.9" r="4.75"/><circle cx="918" cy="782.9" r="4.75"/><circle cx="915.9" cy="782.9" r="4.75"/><circle cx="912" cy="782.9" r="4.75"/><circle cx="910.5" cy="782.9" r="4.75"/><circle cx="819.3" cy="779" r="4.75"/><circle cx="919.8" cy="779" r="4.75"/><circle cx="918.1" cy="779" r="4.75"/><circle cx="914.3" cy="779" r="4.75"/><circle cx="912.5" cy="779" r="4.75"/><circle cx="926.6" cy="775.1" r="4.75"/><circle cx="943.5" cy="775.1" r="4.75"/><circle cx="819" cy="775.1" r="4.75"/><circle cx="922.1" cy="775.1" r="4.75"/><circle cx="917.9" cy="775.1" r="4.75"/><circle cx="916.1" cy="775.1" r="4.75"/><circle cx="930.6" cy="771.2" r="4.75"/><circle cx="943.5" cy="771.2" r="4.75"/><circle cx="817.2" cy="771.2" r="4.75"/><circle cx="923.5" cy="771.2" r="4.75"/><circle cx="919.7" cy="771.2" r="4.75"/><circle cx="917.1" cy="771.2" r="4.75"/><circle cx="932.6" cy="767.3" r="4.75"/><circle cx="943.5" cy="767.3" r="4.75"/><circle cx="962.9" cy="767.3" r="4.75"/><circle cx="812.9" cy="767.3" r="4.75"/><circle cx="927" cy="767.3" r="4.75"/><circle cx="923" cy="767.3" r="4.75"/><circle cx="920" cy="767.3" r="4.75"/><circle cx="917.1" cy="767.3" r="4.75"/><circle cx="935.5" cy="763.4" r="4.75"/><circle cx="945" cy="763.4" r="4.75"/><circle cx="810.6" cy="763.4" r="4.75"/><circle cx="928.2" cy="763.4" r="4.75"/><circle cx="924.3" cy="763.4" r="4.75"/><circle cx="922" cy="763.4" r="4.75"/><circle cx="806.3" cy="759.5" r="4.75"/><circle cx="932.6" cy="759.5" r="4.75"/><circle cx="942.5" cy="759.5" r="4.75"/><circle cx="970.8" cy="759.5" r="4.75"/><circle cx="809.1" cy="759.5" r="4.75"/><circle cx="927.8" cy="759.5" r="4.75"/><circle cx="924" cy="759.5" r="4.75"/><circle cx="921.2" cy="759.5" r="4.75"/><circle cx="932.6" cy="755.7" r="4.75"/><circle cx="809.2" cy="755.7" r="4.75"/><circle cx="926.9" cy="755.7" r="4.75"/><circle cx="923.1" cy="755.7" r="4.75"/><circle cx="920.9" cy="755.7" r="4.75"/><circle cx="935.5" cy="751.8" r="4.75"/><circle cx="942.5" cy="751.8" r="4.75"/><circle cx="808.4" cy="751.8" r="4.75"/><circle cx="929.6" cy="751.8" r="4.75"/><circle cx="925.5" cy="751.8" r="4.75"/><circle cx="922.7" cy="751.8" r="4.75"/><circle cx="919.7" cy="751.8" r="4.75"/><circle cx="940.5" cy="747.9" r="4.75"/><circle cx="957.9" cy="747.9" r="4.75"/><circle cx="808.3" cy="747.9" r="4.75"/><circle cx="932.8" cy="747.9" r="4.75"/><circle cx="929.1" cy="747.9" r="4.75"/><circle cx="926.1" cy="747.9" r="4.75"/><circle cx="924.2" cy="747.9" r="4.75"/><circle cx="820.4" cy="745.9" r="4.75"/><circle cx="900.3" cy="745.9" r="4.75"/><circle cx="898.3" cy="745.9" r="4.75"/><circle cx="894.3" cy="745.9" r="4.75"/><circle cx="945.5" cy="744" r="4.75"/><circle cx="957.9" cy="744" r="4.75"/><circle cx="808.8" cy="744" r="4.75"/><circle cx="936.6" cy="744" r="4.75"/><circle cx="932.9" cy="744" r="4.75"/><circle cx="931.4" cy="744" r="4.75"/><circle cx="928.6" cy="744" r="4.75"/><circle cx="820.2" cy="742" r="4.75"/><circle cx="900.7" cy="742" r="4.75"/><circle cx="898.3" cy="742" r="4.75"/><circle cx="894.5" cy="742" r="4.75"/><circle cx="950.4" cy="740.1" r="4.75"/><circle cx="962.9" cy="740.1" r="4.75"/><circle cx="810.2" cy="740.1" r="4.75"/><circle cx="940.5" cy="740.1" r="4.75"/><circle cx="936.9" cy="740.1" r="4.75"/><circle cx="934.7" cy="740.1" r="4.75"/><circle cx="931.9" cy="740.1" r="4.75"/><circle cx="820.9" cy="738.1" r="4.75"/><circle cx="903.1" cy="738.1" r="4.75"/><circle cx="900.3" cy="738.1" r="4.75"/><circle cx="896.8" cy="738.1" r="4.75"/><circle cx="952.4" cy="736.2" r="4.75"/><circle cx="960.4" cy="736.2" r="4.75"/><circle cx="978.3" cy="736.2" r="4.75"/><circle cx="809.3" cy="736.2" r="4.75"/><circle cx="943.2" cy="736.2" r="4.75"/><circle cx="939.9" cy="736.2" r="4.75"/><circle cx="936.6" cy="736.2" r="4.75"/><circle cx="934.5" cy="736.2" r="4.75"/><circle cx="820.5" cy="734.2" r="4.75"/><circle cx="903.3" cy="734.2" r="4.75"/><circle cx="899.1" cy="734.2" r="4.75"/><circle cx="897" cy="734.2" r="4.75"/><circle cx="950.4" cy="732.3" r="4.75"/><circle cx="957.4" cy="732.3" r="4.75"/><circle cx="994.2" cy="732.3" r="4.75"/><circle cx="808.7" cy="732.3" r="4.75"/><circle cx="942.4" cy="732.3" r="4.75"/><circle cx="940.1" cy="732.3" r="4.75"/><circle cx="937.1" cy="732.3" r="4.75"/><circle cx="934.2" cy="732.3" r="4.75"/><circle cx="820.7" cy="730.4" r="4.75"/><circle cx="902.7" cy="730.4" r="4.75"/><circle cx="899.2" cy="730.4" r="4.75"/><circle cx="896.9" cy="730.4" r="4.75"/><circle cx="952.4" cy="728.4" r="4.75"/><circle cx="959.4" cy="728.4" r="4.75"/><circle cx="994.2" cy="728.4" r="4.75"/><circle cx="809.3" cy="728.4" r="4.75"/><circle cx="941.5" cy="728.4" r="4.75"/><circle cx="939.7" cy="728.4" r="4.75"/><circle cx="937" cy="728.4" r="4.75"/><circle cx="933.7" cy="728.4" r="4.75"/><circle cx="822" cy="726.5" r="4.75"/><circle cx="902.1" cy="726.5" r="4.75"/><circle cx="899" cy="726.5" r="4.75"/><circle cx="895.8" cy="726.5" r="4.75"/><circle cx="948.5" cy="724.5" r="4.75"/><circle cx="809.3" cy="724.5" r="4.75"/><circle cx="940.4" cy="724.5" r="4.75"/><circle cx="937.4" cy="724.5" r="4.75"/><circle cx="934" cy="724.5" r="4.75"/><circle cx="932.2" cy="724.5" r="4.75"/></g>
</g>
<rect x="114" y="114" width="202.9" height="126.1" fill="none" stroke="#000" stroke-width="2" stroke-linejoin="round"/>
<rect x="342.3" y="114" width="202.9" height="126.1" fill="none" stroke="#000" stroke-width="2" stroke-linejoin="round"/>
<rect x="570.5" y="114" width="202.9" height="126.1" fill="none" stroke="#000" stroke-width="2" stroke-linejoin="round"/>
<rect x="798.8" y="114" width="202.9" height="126.1" fill="none" stroke="#000" stroke-width="2" stroke-linejoin="round"/>
<rect x="1027" y="114" width="202.9" height="126.1" fill="none" stroke="#000" stroke-width="2" stroke-linejoin="round"/>
<rect x="114" y="265.5" width="202.9" height="126.1" fill="none" stroke="#000" stroke-width="2" stroke-linejoin="round"/>
<rect x="342.3" y="265.5" width="202.9" height="126.1" fill="none" stroke="#000" stroke-width="2" stroke-linejoin="round"/>
<rect x="570.5" y="265.5" width="202.9" height="126.1" fill="none" stroke="#000" stroke-width="2" stroke-linejoin="round"/>
<rect x="798.8" y="265.5" width="202.9" height="126.1" fill="none" stroke="#000" stroke-width="2" stroke-linejoin="round"/>
<rect x="1027" y="265.5" width="202.9" height="126.1" fill="none" stroke="#000" stroke-width="2" stroke-linejoin="round"/>
<rect x="114" y="416.9" width="202.9" height="126.1" fill="none" stroke="#000" stroke-width="2" stroke-linejoin="round"/>
<rect x="342.3" y="416.9" width="202.9" height="126.1" fill="none" stroke="#000" stroke-width="2" stroke-linejoin="round"/>
<rect x="570.5" y="416.9" width="202.9" height="126.1" fill="none" stroke="#000" stroke-width="2" stroke-linejoin="round"/>
<rect x="798.8" y="416.9" width="202.9" height="126.1" fill="none" stroke="#000" stroke-width="2" stroke-linejoin="round"/>
<rect x="1027" y="416.9" width="202.9" height="126.1" fill="none" stroke="#000" stroke-width="2" stroke-linejoin="round"/>
<rect x="114" y="568.4" width="202.9" height="126.1" fill="none" stroke="#000" stroke-width="2" stroke-linejoin="round"/>
<rect x="342.3" y="568.4" width="202.9" height="126.1" fill="none" stroke="#000" stroke-width="2" stroke-linejoin="round"/>
<rect x="570.5" y="568.4" width="202.9" height="126.1" fill="none" stroke="#000" stroke-width="2" stroke-linejoin="round"/>
<rect x="798.8" y="568.4" width="202.9" height="126.1" fill="none" stroke="#000" stroke-width="2" stroke-linejoin="round"/>
<rect x="1027" y="568.4" width="202.9" height="126.1" fill="none" stroke="#000" stroke-width="2" stroke-linejoin="round"/>
<rect x="114" y="719.8" width="202.9" height="126.1" fill="none" stroke="#000" stroke-width="2" stroke-linejoin="round"/>
<rect x="342.3" y="719.8" width="202.9" height="126.1" fill="none" stroke="#000" stroke-width="2" stroke-linejoin="round"/>
<rect x="570.5" y="719.8" width="202.9" height="126.1" fill="none" stroke="#000" stroke-width="2" stroke-linejoin="round"/>
<rect x="798.8" y="719.8" width="202.9" height="126.1" fill="none" stroke="#000" stroke-width="2" stroke-linejoin="round"/>
<rect x="1027" y="719.8" width="202.9" height="126.1" fill="none" stroke="#000" stroke-width="2" stroke-linejoin="round"/>
<text transform="translate(215.5 193) scale(1 1.06)" font-size="42.24" text-anchor="middle">ID</text>
<text transform="translate(443.8 339) scale(1 1.06)" font-size="42.24" text-anchor="middle">Age</text>
<text transform="translate(672 490.4) scale(1 1.03)" font-size="42.24" text-anchor="middle">Height</text>
<text transform="translate(900.2 641.8) scale(1 1.03)" font-size="42.24" text-anchor="middle">Weight</text>
<text transform="translate(1128.5 798.1) scale(1 1.06)" font-size="42.24" text-anchor="middle">Year</text>
<path d="M371.4 114H544.2M371.4 114V101.4M414.6 114V101.4M457.8 114V101.4M501 114V101.4M544.2 114V101.4" stroke="#000" stroke-width="2" stroke-linecap="round" fill="none"/>
<text x="371.4" y="83.6" font-size="21.12" text-anchor="middle">20</text>
<text x="414.6" y="83.6" font-size="21.12" text-anchor="middle">40</text>
<text x="457.8" y="83.6" font-size="21.12" text-anchor="middle">60</text>
<text x="501" y="83.6" font-size="21.12" text-anchor="middle">80</text>
<path d="M831.2 114H980.3M831.2 114V101.4M880.9 114V101.4M930.6 114V101.4M980.3 114V101.4" stroke="#000" stroke-width="2" stroke-linecap="round" fill="none"/>
<text x="831.2" y="83.6" font-size="21.12" text-anchor="middle">50</text>
<text x="880.9" y="83.6" font-size="21.12" text-anchor="middle">100</text>
<text x="980.3" y="83.6" font-size="21.12" text-anchor="middle">200</text>
<path d="M121.6 846H315.6M121.6 846V858.6M149.3 846V858.6M177 846V858.6M204.7 846V858.6M232.4 846V858.6M260.1 846V858.6M287.9 846V858.6M315.6 846V858.6" stroke="#000" stroke-width="2" stroke-linecap="round" fill="none"/>
<text x="121.6" y="891.6" font-size="21.12" text-anchor="middle">0</text>
<text x="177" y="891.6" font-size="21.12" text-anchor="middle">40000</text>
<text x="287.9" y="891.6" font-size="21.12" text-anchor="middle">120000</text>
<path d="M602.7 846H754.6M602.7 846V858.6M640.7 846V858.6M678.6 846V858.6M716.6 846V858.6M754.6 846V858.6" stroke="#000" stroke-width="2" stroke-linecap="round" fill="none"/>
<text x="602.7" y="891.6" font-size="21.12" text-anchor="middle">140</text>
<text x="678.6" y="891.6" font-size="21.12" text-anchor="middle">180</text>
<text x="754.6" y="891.6" font-size="21.12" text-anchor="middle">220</text>
<path d="M1040.8 846H1228.7M1040.8 846V858.6M1072.1 846V858.6M1103.4 846V858.6M1134.8 846V858.6M1166.1 846V858.6M1197.4 846V858.6M1228.7 846V858.6" stroke="#000" stroke-width="2" stroke-linecap="round" fill="none"/>
<text x="1040.8" y="891.6" font-size="21.12" text-anchor="middle">1900</text>
<text x="1134.8" y="891.6" font-size="21.12" text-anchor="middle">1960</text>
<text x="1228.7" y="891.6" font-size="21.12" text-anchor="middle">2020</text>
<path d="M114 373.5V266.1M114 373.5H101.4M114 346.7H101.4M114 319.8H101.4M114 293H101.4M114 266.1H101.4" stroke="#000" stroke-width="2" stroke-linecap="round" fill="none"/>
<text transform="translate(83.6 373.5) rotate(-90)" font-size="21.12" text-anchor="middle">20</text>
<text transform="translate(83.6 319.8) rotate(-90)" font-size="21.12" text-anchor="middle">60</text>
<text transform="translate(83.6 266.1) rotate(-90)" font-size="21.12" text-anchor="middle">100</text>
<path d="M114 674.4V581.7M114 674.4H101.4M114 643.5H101.4M114 612.6H101.4M114 581.7H101.4" stroke="#000" stroke-width="2" stroke-linecap="round" fill="none"/>
<text transform="translate(83.6 674.4) rotate(-90)" font-size="21.12" text-anchor="middle">50</text>
<text transform="translate(83.6 612.6) rotate(-90)" font-size="21.12" text-anchor="middle">150</text>
<path d="M1230 235.5V114.9M1230 235.5H1242.6M1230 218.3H1242.6M1230 201H1242.6M1230 183.8H1242.6M1230 166.6H1242.6M1230 149.4H1242.6M1230 132.1H1242.6M1230 114.9H1242.6" stroke="#000" stroke-width="2" stroke-linecap="round" fill="none"/>
<text transform="translate(1275.6 235.5) rotate(-90)" font-size="21.12" text-anchor="middle">0</text>
<text transform="translate(1275.6 166.6) rotate(-90)" font-size="21.12" text-anchor="middle">80000</text>
<path d="M1230 523V428.7M1230 523H1242.6M1230 499.5H1242.6M1230 475.9H1242.6M1230 452.3H1242.6M1230 428.7H1242.6" stroke="#000" stroke-width="2" stroke-linecap="round" fill="none"/>
<text transform="translate(1275.6 523) rotate(-90)" font-size="21.12" text-anchor="middle">140</text>
<text transform="translate(1275.6 452.3) rotate(-90)" font-size="21.12" text-anchor="middle">200</text>
<path d="M1230 837.4V720.6M1230 837.4H1242.6M1230 817.9H1242.6M1230 798.5H1242.6M1230 779H1242.6M1230 759.5H1242.6M1230 740.1H1242.6M1230 720.6H1242.6" stroke="#000" stroke-width="2" stroke-linecap="round" fill="none"/>
<text transform="translate(1275.6 837.4) rotate(-90)" font-size="21.12" text-anchor="middle">1900</text>
<text transform="translate(1275.6 759.5) rotate(-90)" font-size="21.12" text-anchor="middle">1980</text>
</svg>
</body></html>
